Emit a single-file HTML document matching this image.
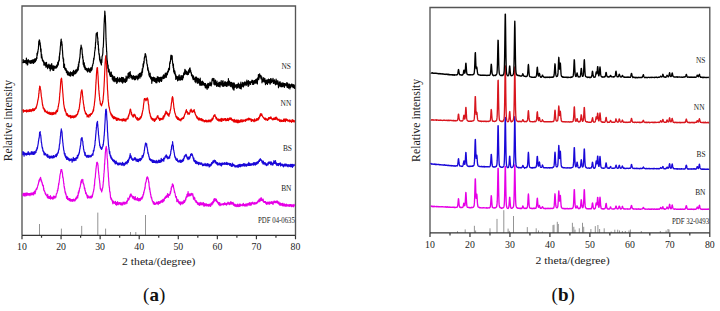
<!DOCTYPE html>
<html><head><meta charset="utf-8"><style>
html,body{margin:0;padding:0;background:#fff;width:720px;height:311px;overflow:hidden;font-family:"Liberation Serif",serif;}
svg{display:block}
text{font-family:"Liberation Serif",serif}
</style></head><body>
<svg width="720" height="311" viewBox="0 0 720 311">
<path d="M22.00 235.30V6.00H295.50V235.30" fill="none" stroke="#555" stroke-width="1.35"/>
<path d="M430.00 232.90V7.50H709.80V232.90" fill="none" stroke="#555" stroke-width="1.35"/>
<path d="M39.5 224.0V235.3M61.4 228.6V235.3M81.7 225.9V235.3M97.8 212.6V235.3M105.6 228.6V235.3M130.5 232.0V235.3M135.8 232.0V235.3M145.5 215.0V235.3" stroke="#666" stroke-width="0.7" fill="none"/>
<path d="M457.5 231.2V232.9M465.2 229.4V232.9M474.4 225.8V232.9M475.6 230.5V232.9M490.0 228.3V232.9M497.0 218.9V232.9M503.8 210.2V232.9M508.1 228.6V232.9M509.3 230.9V232.9M513.5 216.0V232.9M527.3 227.1V232.9M536.2 228.3V232.9M538.5 230.5V232.9M542.4 231.5V232.9M553.0 225.1V232.9M554.0 224.7V232.9M557.3 221.8V232.9M558.3 224.0V232.9M572.4 222.8V232.9M573.8 226.8V232.9M575.0 229.7V232.9M579.3 228.3V232.9M582.5 222.8V232.9M583.7 226.8V232.9M590.9 229.0V232.9M595.3 226.1V232.9M597.9 225.0V232.9M599.6 229.0V232.9M604.2 228.3V232.9M611.2 231.5V232.9M614.8 229.7V232.9M617.7 229.7V232.9M619.5 230.5V232.9M622.4 231.0V232.9M625.3 231.0V232.9M629.0 230.5V232.9M630.4 229.5V232.9M641.3 231.0V232.9M660.3 231.0V232.9M666.1 230.5V232.9M668.0 229.0V232.9M669.0 229.5V232.9" stroke="#666" stroke-width="0.7" fill="none"/>
<path d="M22.8 194.1L22.9 194.5L23.1 195.8L23.2 195.1L23.4 193.4L23.5 194.6L23.7 194.1L23.8 194.7L24.0 193.4L24.1 194.8L24.3 194.7L24.4 195.7L24.6 194.8L24.7 194.9L24.9 193.4L25.0 196.2L25.2 193.1L25.3 195.4L25.5 194.3L25.6 193.9L25.8 194.0L25.9 194.0L26.1 194.8L26.2 194.4L26.4 195.6L26.5 193.1L26.7 194.5L26.8 193.8L27.0 195.0L27.1 192.9L27.3 194.2L27.4 194.6L27.6 193.3L27.7 195.1L27.9 194.5L28.0 195.1L28.2 195.1L28.3 193.6L28.5 193.7L28.6 194.2L28.8 194.9L28.9 194.9L29.1 193.7L29.2 193.8L29.4 193.6L29.5 193.8L29.7 194.0L29.8 194.1L30.0 195.7L30.1 193.7L30.3 193.9L30.4 194.4L30.6 193.3L30.7 193.7L30.9 194.0L31.0 194.5L31.2 192.9L31.3 194.9L31.5 193.6L31.6 193.9L31.8 194.4L31.9 194.3L32.1 194.5L32.2 193.9L32.4 193.7L32.5 193.9L32.7 192.9L32.8 194.5L33.0 193.0L33.1 192.5L33.3 195.0L33.4 193.3L33.6 192.4L33.7 194.6L33.9 192.9L34.0 193.8L34.2 192.3L34.3 192.6L34.5 191.4L34.6 191.1L34.8 191.6L34.9 192.1L35.1 192.6L35.2 193.6L35.4 190.8L35.5 192.0L35.7 190.6L35.8 190.6L36.0 189.4L36.1 189.1L36.3 189.2L36.4 188.6L36.6 189.1L36.7 188.2L36.9 189.3L37.0 188.0L37.2 187.6L37.3 187.8L37.5 186.9L37.6 186.0L37.8 185.4L37.9 184.9L38.1 185.3L38.2 184.5L38.4 183.6L38.5 183.4L38.7 181.9L38.8 182.2L39.0 180.2L39.1 181.8L39.3 180.4L39.4 180.0L39.6 180.0L39.7 179.2L39.9 178.7L40.0 179.6L40.2 178.7L40.3 177.8L40.5 178.8L40.6 177.3L40.8 180.0L40.9 178.8L41.1 179.2L41.2 181.2L41.4 181.6L41.5 180.5L41.7 181.3L41.8 182.2L42.0 183.2L42.1 182.4L42.3 183.2L42.4 184.6L42.6 184.5L42.7 185.5L42.9 186.0L43.0 185.3L43.2 186.1L43.3 185.3L43.5 187.7L43.6 189.4L43.8 188.1L43.9 190.4L44.1 190.7L44.2 190.4L44.4 190.8L44.5 191.4L44.7 191.1L44.8 191.9L45.0 192.4L45.1 193.3L45.3 193.8L45.4 192.9L45.6 194.4L45.7 193.5L45.9 194.2L46.0 194.9L46.2 194.8L46.3 195.0L46.5 195.5L46.6 195.1L46.8 195.2L46.9 195.7L47.1 196.7L47.2 196.1L47.4 197.7L47.5 196.6L47.7 194.3L47.8 196.3L48.0 198.0L48.1 196.9L48.3 196.6L48.4 196.4L48.6 198.1L48.7 198.0L48.9 197.8L49.0 197.7L49.2 198.5L49.3 198.1L49.5 196.7L49.6 198.2L49.8 197.8L49.9 197.7L50.1 198.4L50.2 197.9L50.4 195.7L50.5 199.1L50.7 198.7L50.8 197.9L51.0 197.7L51.1 198.2L51.3 197.1L51.4 198.3L51.6 197.9L51.7 197.8L51.9 197.3L52.0 197.5L52.2 198.8L52.3 199.0L52.5 198.3L52.6 197.9L52.8 197.3L52.9 198.4L53.1 199.1L53.2 196.6L53.4 198.6L53.5 196.1L53.7 197.4L53.8 197.9L54.0 196.5L54.1 196.3L54.3 197.5L54.4 197.9L54.6 196.8L54.7 198.0L54.9 196.3L55.0 198.1L55.2 196.7L55.3 196.6L55.5 196.7L55.6 196.3L55.8 197.2L55.9 197.2L56.1 195.7L56.2 194.8L56.4 193.7L56.5 193.7L56.7 193.8L56.8 193.3L57.0 192.9L57.1 192.4L57.3 192.3L57.4 190.3L57.6 189.9L57.7 190.8L57.9 189.9L58.0 188.1L58.2 188.7L58.3 186.3L58.5 185.8L58.6 183.6L58.8 184.7L58.9 183.0L59.1 182.8L59.2 181.4L59.4 179.9L59.5 178.8L59.7 178.5L59.8 176.4L60.0 175.3L60.1 174.5L60.3 174.1L60.4 173.2L60.6 173.2L60.7 171.0L60.9 171.4L61.0 169.5L61.2 170.2L61.3 169.7L61.5 171.0L61.6 170.3L61.8 169.9L61.9 171.2L62.1 171.7L62.2 172.0L62.4 172.9L62.5 173.4L62.7 177.2L62.8 176.3L63.0 178.0L63.1 177.6L63.3 178.8L63.4 180.6L63.6 181.7L63.7 183.5L63.9 183.2L64.0 185.4L64.2 187.2L64.3 186.3L64.5 188.6L64.6 188.1L64.8 189.9L64.9 190.7L65.1 192.4L65.2 191.3L65.4 192.6L65.5 193.9L65.7 192.8L65.8 194.2L66.0 194.0L66.1 194.6L66.3 196.1L66.4 196.5L66.6 198.3L66.7 197.7L66.9 197.9L67.0 197.1L67.2 197.3L67.3 197.9L67.5 196.3L67.6 199.4L67.8 197.9L67.9 197.8L68.1 198.4L68.2 199.5L68.4 199.9L68.5 198.8L68.7 199.6L68.8 199.3L69.0 198.7L69.1 199.7L69.3 199.7L69.4 198.6L69.6 200.6L69.7 198.7L69.9 200.1L70.0 199.2L70.2 199.4L70.3 199.6L70.5 200.6L70.6 199.2L70.8 200.0L70.9 201.3L71.1 199.7L71.2 200.2L71.4 200.7L71.5 199.8L71.7 200.6L71.8 199.7L72.0 200.8L72.1 200.3L72.3 199.5L72.4 201.3L72.6 200.2L72.7 200.0L72.9 199.5L73.0 199.8L73.2 200.1L73.3 200.3L73.5 200.9L73.6 199.1L73.8 199.8L73.9 200.9L74.1 200.1L74.2 200.2L74.4 201.0L74.5 200.0L74.7 200.1L74.8 199.6L75.0 200.9L75.1 200.3L75.3 198.8L75.4 199.7L75.6 198.3L75.7 199.8L75.9 199.4L76.0 198.6L76.2 198.3L76.3 197.1L76.5 198.8L76.6 197.9L76.8 197.6L76.9 198.1L77.1 196.8L77.2 196.6L77.4 196.2L77.5 195.4L77.7 197.9L77.8 195.5L78.0 195.0L78.1 195.6L78.3 192.1L78.4 193.9L78.6 193.5L78.7 192.2L78.9 192.8L79.0 190.3L79.2 191.3L79.3 191.3L79.5 188.3L79.6 188.2L79.8 188.5L79.9 187.9L80.1 186.8L80.2 186.8L80.4 186.0L80.5 184.1L80.7 184.4L80.8 182.8L81.0 181.6L81.1 180.8L81.3 182.8L81.4 181.5L81.6 182.6L81.7 179.7L81.9 180.3L82.0 180.7L82.2 180.3L82.3 180.8L82.5 180.6L82.6 180.3L82.8 179.3L82.9 180.7L83.1 183.2L83.2 182.9L83.4 184.0L83.5 183.1L83.7 184.0L83.8 184.1L84.0 185.7L84.1 186.2L84.3 187.1L84.4 188.8L84.6 187.5L84.7 189.3L84.9 188.3L85.0 190.8L85.2 190.2L85.3 191.0L85.5 191.7L85.6 193.4L85.8 192.6L85.9 192.7L86.1 192.6L86.2 194.1L86.4 193.6L86.5 194.2L86.7 194.9L86.8 195.7L87.0 195.0L87.1 196.2L87.3 197.3L87.4 195.1L87.6 197.4L87.7 198.1L87.9 196.2L88.0 197.3L88.2 195.9L88.3 197.3L88.5 197.0L88.6 197.6L88.8 196.8L88.9 196.9L89.1 197.3L89.2 197.2L89.4 197.3L89.5 197.7L89.7 197.0L89.8 197.8L90.0 198.2L90.1 196.1L90.3 198.0L90.4 197.2L90.6 196.9L90.7 196.7L90.9 197.0L91.0 196.9L91.2 197.6L91.3 196.3L91.5 197.8L91.6 196.2L91.8 197.1L91.9 197.2L92.1 195.1L92.2 196.5L92.4 197.0L92.5 194.6L92.7 194.9L92.8 193.9L93.0 193.5L93.1 192.6L93.3 191.7L93.4 191.9L93.6 191.2L93.7 189.6L93.9 189.8L94.0 188.5L94.2 187.1L94.3 184.9L94.5 185.6L94.6 183.9L94.8 179.9L94.9 179.3L95.1 178.3L95.2 177.8L95.4 176.5L95.5 173.8L95.7 172.6L95.8 171.4L96.0 168.4L96.1 168.4L96.3 166.4L96.4 165.6L96.6 164.4L96.7 162.7L96.9 162.3L97.0 162.7L97.2 162.6L97.3 162.4L97.5 163.8L97.6 163.4L97.8 163.5L97.9 165.2L98.1 166.5L98.2 167.9L98.4 170.3L98.5 171.2L98.7 173.2L98.8 174.4L99.0 175.3L99.1 177.7L99.3 178.2L99.4 180.1L99.6 180.5L99.7 182.6L99.9 183.5L100.0 185.1L100.2 187.3L100.3 188.6L100.5 188.5L100.6 188.4L100.8 189.7L100.9 189.9L101.1 189.7L101.2 190.4L101.4 190.5L101.5 190.4L101.7 191.9L101.8 190.4L102.0 190.2L102.1 190.7L102.3 189.2L102.4 188.3L102.6 187.8L102.7 187.8L102.9 186.6L103.0 185.4L103.2 183.4L103.3 181.6L103.5 181.3L103.6 177.7L103.8 176.8L103.9 173.9L104.1 172.4L104.2 170.4L104.4 169.1L104.5 163.6L104.7 164.4L104.8 160.3L105.0 158.8L105.1 156.9L105.3 153.5L105.4 152.1L105.6 150.8L105.7 149.0L105.9 147.5L106.0 147.5L106.2 147.3L106.3 146.3L106.5 149.2L106.6 149.4L106.8 148.9L106.9 151.9L107.1 155.8L107.2 157.9L107.4 159.3L107.5 160.3L107.7 163.9L107.8 167.4L108.0 169.4L108.1 171.2L108.3 173.3L108.4 176.7L108.6 178.1L108.7 180.6L108.9 182.6L109.0 185.3L109.2 185.9L109.3 187.5L109.5 187.5L109.6 191.0L109.8 192.0L109.9 192.5L110.1 191.8L110.2 194.0L110.4 195.4L110.5 197.7L110.7 197.2L110.8 198.0L111.0 198.6L111.1 199.5L111.3 198.1L111.4 198.7L111.6 198.9L111.7 199.9L111.9 200.1L112.0 200.7L112.2 200.1L112.3 201.2L112.5 200.7L112.6 203.1L112.8 201.3L112.9 203.8L113.1 203.2L113.2 201.2L113.4 203.0L113.5 202.8L113.7 201.3L113.8 203.0L114.0 202.6L114.1 203.0L114.3 202.2L114.4 202.9L114.6 203.3L114.7 202.9L114.9 202.6L115.0 203.0L115.2 202.5L115.3 203.5L115.5 201.4L115.6 204.5L115.8 203.4L115.9 203.8L116.1 204.1L116.2 202.5L116.4 205.2L116.5 202.7L116.7 203.9L116.8 203.8L117.0 204.5L117.1 203.6L117.3 202.5L117.4 203.8L117.6 201.7L117.7 203.5L117.9 203.3L118.0 204.8L118.2 203.4L118.3 203.3L118.5 203.1L118.6 203.0L118.8 203.3L118.9 204.2L119.1 202.7L119.2 203.6L119.4 202.7L119.5 203.6L119.7 203.9L119.8 202.8L120.0 203.3L120.1 203.9L120.3 204.4L120.4 204.5L120.6 203.7L120.7 203.0L120.9 202.6L121.0 204.4L121.2 204.8L121.3 204.1L121.5 205.0L121.6 203.4L121.8 203.5L121.9 204.9L122.1 203.0L122.2 204.2L122.4 204.0L122.5 203.9L122.7 205.0L122.8 203.1L123.0 203.4L123.1 202.1L123.3 202.9L123.4 203.3L123.6 203.4L123.7 203.5L123.9 203.8L124.0 203.1L124.2 202.0L124.3 203.5L124.5 203.7L124.6 202.4L124.8 202.6L124.9 204.4L125.1 203.8L125.2 203.8L125.4 203.4L125.5 202.9L125.7 202.3L125.8 203.0L126.0 202.3L126.1 202.0L126.3 202.2L126.4 202.1L126.6 202.7L126.7 201.1L126.9 203.6L127.0 200.8L127.2 201.0L127.3 201.9L127.5 200.4L127.6 200.4L127.8 200.6L127.9 198.1L128.1 199.7L128.2 199.1L128.4 199.4L128.5 199.6L128.7 199.4L128.8 199.8L129.0 199.4L129.1 198.7L129.3 197.6L129.4 198.0L129.6 196.2L129.7 196.5L129.9 197.4L130.0 196.6L130.2 194.7L130.3 195.1L130.5 196.0L130.6 195.7L130.8 196.0L130.9 193.8L131.1 194.2L131.2 195.1L131.4 194.7L131.5 195.6L131.7 195.8L131.8 196.2L132.0 196.1L132.1 196.8L132.3 197.2L132.4 196.9L132.6 196.0L132.7 198.1L132.9 197.4L133.0 197.8L133.2 197.7L133.3 196.5L133.5 198.2L133.6 197.4L133.8 197.0L133.9 199.0L134.1 197.9L134.2 198.5L134.4 199.1L134.5 199.7L134.7 197.2L134.8 198.2L135.0 199.3L135.1 198.4L135.3 196.5L135.4 199.1L135.6 199.3L135.7 199.8L135.9 199.4L136.0 198.9L136.2 199.5L136.3 199.3L136.5 199.0L136.6 199.6L136.8 199.7L136.9 198.7L137.1 200.3L137.2 200.2L137.4 200.1L137.5 197.5L137.7 199.7L137.8 199.5L138.0 198.9L138.1 200.1L138.3 198.5L138.4 200.6L138.6 200.0L138.7 199.3L138.9 200.8L139.0 200.0L139.2 199.9L139.3 198.7L139.5 200.1L139.6 200.7L139.8 200.4L139.9 198.6L140.1 200.6L140.2 200.7L140.4 200.1L140.5 199.1L140.7 198.1L140.8 198.5L141.0 198.6L141.1 199.2L141.3 199.2L141.4 198.1L141.6 197.3L141.7 198.0L141.9 197.1L142.0 198.9L142.2 196.7L142.3 197.7L142.5 197.7L142.6 196.0L142.8 197.2L142.9 195.9L143.1 195.0L143.2 194.4L143.4 194.7L143.5 194.9L143.7 192.1L143.8 193.4L144.0 192.2L144.1 191.1L144.3 190.9L144.4 190.2L144.6 189.4L144.7 189.3L144.9 187.2L145.0 188.5L145.2 186.8L145.3 184.8L145.5 182.9L145.6 183.5L145.8 182.3L145.9 182.3L146.1 181.5L146.2 181.6L146.4 179.3L146.5 179.4L146.7 177.9L146.8 177.5L147.0 178.6L147.1 177.1L147.3 177.0L147.4 176.8L147.6 177.5L147.7 178.0L147.9 177.9L148.0 177.7L148.2 179.5L148.3 179.3L148.5 180.5L148.6 181.8L148.8 182.7L148.9 181.8L149.1 185.8L149.2 186.1L149.4 188.0L149.5 189.4L149.7 187.8L149.8 189.0L150.0 190.6L150.1 192.0L150.3 191.8L150.4 192.8L150.6 194.7L150.7 194.0L150.9 195.5L151.0 196.9L151.2 196.6L151.3 198.0L151.5 197.9L151.6 197.4L151.8 198.7L151.9 199.5L152.1 199.8L152.2 200.5L152.4 201.2L152.5 201.5L152.7 201.8L152.8 201.7L153.0 202.2L153.1 202.4L153.3 202.4L153.4 204.0L153.6 201.6L153.7 203.4L153.9 202.0L154.0 202.9L154.2 204.0L154.3 203.2L154.5 204.5L154.6 202.8L154.8 203.3L154.9 203.1L155.1 203.6L155.2 203.3L155.4 203.3L155.5 203.6L155.7 204.4L155.8 203.6L156.0 203.5L156.1 203.3L156.3 202.9L156.4 202.3L156.6 202.6L156.7 203.4L156.9 201.9L157.0 203.7L157.2 202.9L157.3 202.5L157.5 202.7L157.6 203.6L157.8 203.3L157.9 203.2L158.1 204.2L158.2 204.6L158.4 201.8L158.5 203.4L158.7 202.1L158.8 201.6L159.0 202.2L159.1 203.3L159.3 202.2L159.4 202.1L159.6 203.4L159.7 202.7L159.9 202.2L160.0 203.5L160.2 202.4L160.3 201.4L160.5 201.1L160.6 201.5L160.8 201.9L160.9 202.4L161.1 202.2L161.2 201.5L161.4 200.5L161.5 202.1L161.7 201.4L161.8 200.4L162.0 200.3L162.1 201.3L162.3 201.4L162.4 201.6L162.6 200.0L162.7 202.3L162.9 199.4L163.0 200.6L163.2 201.5L163.3 201.2L163.5 199.5L163.6 200.6L163.8 200.9L163.9 200.3L164.1 198.9L164.2 200.7L164.4 198.0L164.5 199.0L164.7 198.0L164.8 198.2L165.0 198.0L165.1 198.4L165.3 196.8L165.4 197.7L165.6 198.3L165.7 197.1L165.9 197.2L166.0 196.9L166.2 195.8L166.3 195.9L166.5 196.0L166.6 196.2L166.8 197.3L166.9 196.9L167.1 195.2L167.2 195.2L167.4 194.7L167.5 193.7L167.7 196.5L167.8 195.9L168.0 194.0L168.1 195.5L168.3 197.3L168.4 195.9L168.6 195.8L168.7 195.5L168.9 194.7L169.0 194.3L169.2 194.4L169.3 194.9L169.5 194.4L169.6 194.8L169.8 195.3L169.9 194.1L170.1 193.9L170.2 192.6L170.4 191.4L170.5 193.5L170.7 191.9L170.8 191.7L171.0 189.9L171.1 188.3L171.3 190.0L171.4 186.8L171.6 187.7L171.7 186.9L171.9 187.0L172.0 186.9L172.2 186.6L172.3 184.0L172.5 186.2L172.6 183.8L172.8 185.8L172.9 185.0L173.1 184.7L173.2 185.5L173.4 185.3L173.5 186.8L173.7 188.1L173.8 188.6L174.0 188.7L174.1 190.2L174.3 190.4L174.4 192.4L174.6 191.9L174.7 191.7L174.9 192.7L175.0 193.0L175.2 194.0L175.3 194.8L175.5 196.0L175.6 196.7L175.8 196.7L175.9 197.5L176.1 197.1L176.2 197.7L176.4 196.6L176.5 198.3L176.7 198.9L176.8 201.6L177.0 198.9L177.1 200.3L177.3 200.2L177.4 199.5L177.6 201.2L177.7 201.2L177.9 200.2L178.0 199.7L178.2 201.6L178.3 200.7L178.5 202.5L178.6 201.9L178.8 202.6L178.9 202.0L179.1 203.5L179.2 203.0L179.4 203.7L179.5 202.7L179.7 201.9L179.8 201.6L180.0 202.4L180.1 203.0L180.3 202.4L180.4 204.8L180.6 202.9L180.7 203.3L180.9 203.0L181.0 202.0L181.2 203.8L181.3 203.5L181.5 203.7L181.6 202.3L181.8 203.0L181.9 202.9L182.1 203.8L182.2 201.8L182.4 203.3L182.5 203.8L182.7 202.4L182.8 202.0L183.0 203.6L183.1 202.7L183.3 203.3L183.4 202.9L183.6 203.0L183.7 201.9L183.9 200.3L184.0 202.2L184.2 201.1L184.3 201.9L184.5 200.8L184.6 202.3L184.8 200.6L184.9 201.2L185.1 201.1L185.2 200.0L185.4 200.0L185.5 199.4L185.7 198.4L185.8 199.9L186.0 197.8L186.1 196.9L186.3 197.4L186.4 197.5L186.6 197.1L186.7 196.5L186.9 196.1L187.0 194.4L187.2 196.3L187.3 196.9L187.5 194.7L187.6 193.7L187.8 195.5L187.9 194.7L188.1 191.6L188.2 194.1L188.4 193.5L188.5 193.7L188.7 196.1L188.8 195.4L189.0 194.5L189.1 194.7L189.3 195.9L189.4 193.8L189.6 195.2L189.7 194.2L189.9 195.3L190.0 194.8L190.2 194.0L190.3 195.3L190.5 194.8L190.6 195.7L190.8 193.9L190.9 194.3L191.1 193.6L191.2 195.0L191.4 193.4L191.5 193.9L191.7 195.0L191.8 194.4L192.0 194.3L192.1 194.4L192.3 194.6L192.4 195.0L192.6 194.5L192.7 193.5L192.9 196.3L193.0 194.8L193.2 197.3L193.3 196.5L193.5 199.1L193.6 197.9L193.8 197.7L193.9 198.4L194.1 197.0L194.2 198.6L194.4 198.5L194.5 199.1L194.7 197.9L194.8 198.0L195.0 200.6L195.1 200.4L195.3 200.3L195.4 200.8L195.6 200.6L195.7 201.0L195.9 202.1L196.0 201.6L196.2 202.5L196.3 201.6L196.5 200.9L196.6 201.9L196.8 202.5L196.9 201.8L197.1 202.5L197.2 202.6L197.4 203.8L197.5 203.8L197.7 204.1L197.8 202.7L198.0 203.7L198.1 204.5L198.3 203.7L198.4 203.5L198.6 203.1L198.7 204.4L198.9 203.9L199.0 204.6L199.2 203.7L199.3 205.4L199.5 203.8L199.6 202.9L199.8 204.0L199.9 204.3L200.1 204.9L200.2 203.5L200.4 203.5L200.5 203.7L200.7 203.6L200.8 202.3L201.0 204.5L201.1 204.9L201.3 203.3L201.4 203.1L201.6 203.8L201.7 203.4L201.9 204.6L202.0 203.6L202.2 204.6L202.3 203.2L202.5 203.1L202.6 203.0L202.8 203.2L202.9 204.6L203.1 205.0L203.2 204.5L203.4 204.6L203.5 202.7L203.7 205.3L203.8 203.5L204.0 205.6L204.1 206.4L204.3 204.7L204.4 205.1L204.6 205.1L204.7 203.7L204.9 203.8L205.0 204.2L205.2 204.9L205.3 205.5L205.5 204.9L205.6 205.7L205.8 204.5L205.9 203.8L206.1 205.0L206.2 204.9L206.4 203.9L206.5 205.8L206.7 204.3L206.8 204.5L207.0 205.3L207.1 204.3L207.3 205.6L207.4 205.4L207.6 205.5L207.7 205.2L207.9 204.8L208.0 204.6L208.2 205.4L208.3 206.2L208.5 205.7L208.6 205.4L208.8 205.9L208.9 206.1L209.1 204.1L209.2 205.0L209.4 205.9L209.5 204.4L209.7 204.5L209.8 205.3L210.0 204.6L210.1 205.7L210.3 204.5L210.4 205.1L210.6 206.5L210.7 205.4L210.9 203.4L211.0 203.5L211.2 203.4L211.3 204.1L211.5 202.9L211.6 204.3L211.8 205.0L211.9 204.8L212.1 202.8L212.2 203.0L212.4 202.8L212.5 202.2L212.7 203.9L212.8 201.9L213.0 201.3L213.1 202.2L213.3 201.9L213.4 202.6L213.6 202.3L213.7 200.8L213.9 199.0L214.0 200.9L214.2 200.8L214.3 201.3L214.5 198.6L214.6 198.7L214.8 200.7L214.9 200.7L215.1 200.4L215.2 199.4L215.4 200.5L215.5 199.1L215.7 198.8L215.8 199.8L216.0 200.1L216.1 200.9L216.3 201.4L216.4 199.4L216.6 201.2L216.7 201.6L216.9 200.5L217.0 201.5L217.2 202.0L217.3 202.5L217.5 201.7L217.6 202.1L217.8 201.9L217.9 203.2L218.1 202.8L218.2 202.8L218.4 203.9L218.5 203.4L218.7 202.7L218.8 204.6L219.0 204.6L219.1 204.2L219.3 203.2L219.4 204.9L219.6 203.6L219.7 202.7L219.9 204.1L220.0 205.6L220.2 203.9L220.3 204.7L220.5 205.3L220.6 204.5L220.8 204.1L220.9 204.4L221.1 204.8L221.2 204.0L221.4 204.6L221.5 204.8L221.7 204.1L221.8 204.9L222.0 204.8L222.1 204.1L222.3 204.2L222.4 204.5L222.6 204.3L222.7 204.2L222.9 203.6L223.0 204.4L223.2 204.9L223.3 204.8L223.5 203.7L223.6 204.7L223.8 204.8L223.9 203.6L224.1 204.7L224.2 204.1L224.4 204.0L224.5 204.4L224.7 204.1L224.8 202.5L225.0 204.4L225.1 203.3L225.3 204.1L225.4 204.7L225.6 204.0L225.7 203.8L225.9 204.2L226.0 204.4L226.2 203.4L226.3 203.6L226.5 204.4L226.6 205.2L226.8 203.9L226.9 204.6L227.1 203.3L227.2 203.9L227.4 203.9L227.5 202.9L227.7 203.9L227.8 203.7L228.0 202.0L228.1 203.8L228.3 204.1L228.4 204.0L228.6 204.0L228.7 202.9L228.9 203.2L229.0 203.5L229.2 203.0L229.3 203.2L229.5 204.4L229.6 202.8L229.8 203.1L229.9 204.6L230.1 203.1L230.2 202.4L230.4 203.2L230.5 203.1L230.7 203.0L230.8 201.6L231.0 203.0L231.1 203.0L231.3 204.2L231.4 203.2L231.6 202.3L231.7 202.9L231.9 203.2L232.0 202.7L232.2 202.9L232.3 204.0L232.5 203.5L232.6 203.6L232.8 202.7L232.9 203.9L233.1 202.3L233.2 204.7L233.4 203.6L233.5 204.6L233.7 205.3L233.8 203.6L234.0 205.3L234.1 204.8L234.3 205.6L234.4 204.6L234.6 204.4L234.7 206.0L234.9 205.4L235.0 205.2L235.2 204.4L235.3 206.3L235.5 205.1L235.6 205.2L235.8 204.8L235.9 205.4L236.1 205.8L236.2 205.3L236.4 205.3L236.5 205.0L236.7 206.5L236.8 206.6L237.0 205.2L237.1 204.7L237.3 205.6L237.4 204.2L237.6 205.5L237.7 205.5L237.9 205.5L238.0 206.5L238.2 206.7L238.3 205.6L238.5 205.0L238.6 206.1L238.8 206.1L238.9 204.4L239.1 204.7L239.2 205.1L239.4 204.0L239.5 204.4L239.7 206.4L239.8 204.3L240.0 205.8L240.1 204.6L240.3 205.9L240.4 205.4L240.6 205.8L240.7 204.1L240.9 205.3L241.0 204.7L241.2 205.7L241.3 205.6L241.5 205.2L241.6 205.0L241.8 205.0L241.9 205.2L242.1 204.6L242.2 204.7L242.4 204.5L242.5 204.2L242.7 205.7L242.8 204.0L243.0 205.9L243.1 205.4L243.3 203.6L243.4 203.5L243.6 204.9L243.7 204.1L243.9 204.9L244.0 205.5L244.2 205.1L244.3 204.6L244.5 204.7L244.6 205.9L244.8 204.5L244.9 206.0L245.1 206.2L245.2 204.4L245.4 204.9L245.5 205.9L245.7 204.1L245.8 205.0L246.0 205.4L246.1 203.8L246.3 204.9L246.4 204.7L246.6 204.2L246.7 205.7L246.9 204.4L247.0 206.2L247.2 205.0L247.3 203.9L247.5 204.6L247.6 203.8L247.8 205.0L247.9 204.9L248.1 203.5L248.2 204.0L248.4 204.6L248.5 204.3L248.7 203.5L248.8 205.0L249.0 205.2L249.1 203.1L249.3 205.2L249.4 202.6L249.6 204.0L249.7 203.6L249.9 203.6L250.0 204.2L250.2 203.1L250.3 203.9L250.5 205.2L250.6 204.3L250.8 205.0L250.9 204.5L251.1 202.7L251.2 205.1L251.4 204.4L251.5 204.3L251.7 203.5L251.8 203.3L252.0 202.9L252.1 203.6L252.3 203.7L252.4 203.5L252.6 203.5L252.7 202.2L252.9 203.0L253.0 203.0L253.2 203.8L253.3 203.2L253.5 203.2L253.6 203.6L253.8 203.1L253.9 203.3L254.1 204.3L254.2 203.3L254.4 202.7L254.5 203.8L254.7 203.9L254.8 203.8L255.0 202.3L255.1 203.9L255.3 203.2L255.4 203.2L255.6 203.2L255.7 203.4L255.9 203.3L256.0 204.0L256.2 203.0L256.3 202.7L256.5 203.2L256.6 202.6L256.8 203.3L256.9 202.6L257.1 202.9L257.2 201.9L257.4 202.9L257.5 202.5L257.7 201.3L257.8 201.5L258.0 201.7L258.1 200.6L258.3 200.6L258.4 201.6L258.6 201.5L258.7 201.9L258.9 199.8L259.0 200.4L259.2 199.0L259.3 201.6L259.5 199.2L259.6 199.8L259.8 201.2L259.9 200.7L260.1 199.0L260.2 201.1L260.4 199.7L260.5 198.5L260.7 199.4L260.8 199.6L261.0 199.6L261.1 197.6L261.3 200.5L261.4 198.0L261.6 199.1L261.7 200.4L261.9 199.7L262.0 199.5L262.2 199.2L262.3 200.2L262.5 200.9L262.6 199.7L262.8 200.5L262.9 200.1L263.1 200.2L263.2 199.2L263.4 201.0L263.5 201.7L263.7 201.1L263.8 202.1L264.0 201.6L264.1 202.5L264.3 201.8L264.4 201.6L264.6 201.6L264.7 202.2L264.9 202.4L265.0 201.7L265.2 202.3L265.3 201.5L265.5 201.6L265.6 203.1L265.8 202.9L265.9 203.3L266.1 202.9L266.2 203.0L266.4 204.2L266.5 202.3L266.7 203.1L266.8 204.1L267.0 204.4L267.1 203.4L267.3 202.9L267.4 202.2L267.6 202.9L267.7 203.1L267.9 203.0L268.0 203.4L268.2 203.4L268.3 202.6L268.5 202.3L268.6 202.8L268.8 203.3L268.9 204.1L269.1 201.8L269.2 203.7L269.4 202.7L269.5 203.7L269.7 204.2L269.8 203.2L270.0 202.0L270.1 202.5L270.3 203.1L270.4 202.5L270.6 202.7L270.7 202.2L270.9 202.6L271.0 202.3L271.2 203.4L271.3 203.0L271.5 203.3L271.6 201.6L271.8 202.5L271.9 202.3L272.1 202.5L272.2 202.2L272.4 202.3L272.5 203.9L272.7 202.6L272.8 201.9L273.0 202.5L273.1 204.3L273.3 203.2L273.4 202.0L273.6 202.4L273.7 202.5L273.9 202.6L274.0 201.1L274.2 201.7L274.3 202.2L274.5 201.1L274.6 202.1L274.8 202.2L274.9 202.6L275.1 202.8L275.2 201.8L275.4 202.0L275.5 202.3L275.7 202.4L275.8 201.7L276.0 201.1L276.1 202.0L276.3 202.1L276.4 201.6L276.6 201.9L276.7 202.7L276.9 201.2L277.0 201.1L277.2 200.9L277.3 202.0L277.5 202.5L277.6 201.6L277.8 203.3L277.9 201.7L278.1 202.5L278.2 202.3L278.4 203.5L278.5 202.2L278.7 204.0L278.8 202.8L279.0 202.1L279.1 202.8L279.3 203.2L279.4 204.6L279.6 203.2L279.7 203.6L279.9 205.2L280.0 203.9L280.2 203.5L280.3 203.5L280.5 203.0L280.6 204.4L280.8 205.1L280.9 204.0L281.1 203.6L281.2 204.6L281.4 204.5L281.5 204.5L281.7 204.9L281.8 204.7L282.0 204.4L282.1 205.5L282.3 203.4L282.4 204.0L282.6 204.6L282.7 203.9L282.9 205.9L283.0 203.3L283.2 205.4L283.3 205.3L283.5 205.2L283.6 205.3L283.8 204.6L283.9 204.5L284.1 206.0L284.2 204.9L284.4 204.0L284.5 204.2L284.7 204.0L284.8 205.3L285.0 205.9L285.1 204.9L285.3 205.2L285.4 204.8L285.6 205.8L285.7 205.8L285.9 205.9L286.0 206.5L286.2 204.4L286.3 205.8L286.5 204.2L286.6 205.8L286.8 205.9L286.9 205.8L287.1 205.9L287.2 205.3L287.4 204.9L287.5 205.9L287.7 204.9L287.8 205.9L288.0 204.8L288.1 205.7L288.3 205.6L288.4 204.9L288.6 205.2L288.7 206.1L288.9 205.5L289.0 205.9L289.2 205.1L289.3 205.6L289.5 204.5L289.6 205.0L289.8 206.5L289.9 206.0L290.1 205.6L290.2 205.7L290.4 204.6L290.5 205.9L290.7 204.7L290.8 205.1L291.0 206.1L291.1 205.1L291.3 205.3L291.4 205.6L291.6 205.7L291.7 206.6L291.9 204.5L292.0 205.4L292.2 206.1L292.3 205.4L292.5 205.4L292.6 205.1L292.8 205.5L292.9 206.2L293.1 206.6L293.2 206.0L293.4 206.8L293.5 205.9L293.7 204.6L293.8 206.3L294.0 204.4L294.1 205.8L294.3 205.8L294.4 205.0L294.6 205.7" fill="none" stroke="#e600e6" stroke-width="1.20" stroke-linejoin="round"/>
<path d="M22.8 155.2L22.9 151.7L23.1 154.0L23.2 153.2L23.4 153.3L23.5 153.5L23.7 152.2L23.8 153.5L24.0 153.0L24.1 156.2L24.3 153.9L24.4 153.4L24.6 153.5L24.7 153.2L24.9 152.9L25.0 153.4L25.2 154.1L25.3 153.6L25.5 154.5L25.6 153.6L25.8 153.8L25.9 154.9L26.1 154.2L26.2 153.4L26.4 153.6L26.5 154.2L26.7 155.2L26.8 153.6L27.0 153.6L27.1 154.5L27.3 153.1L27.4 153.5L27.6 154.4L27.7 154.2L27.9 153.8L28.0 154.3L28.2 151.6L28.3 154.5L28.5 153.0L28.6 152.5L28.8 154.0L28.9 154.3L29.1 153.4L29.2 152.9L29.4 153.7L29.5 153.7L29.7 154.8L29.8 154.3L30.0 153.8L30.1 154.5L30.3 153.5L30.4 153.0L30.6 154.1L30.7 154.1L30.9 153.5L31.0 153.0L31.2 153.8L31.3 151.7L31.5 154.1L31.6 153.9L31.8 152.3L31.9 153.6L32.1 152.8L32.2 154.1L32.4 152.0L32.5 152.8L32.7 154.0L32.8 154.3L33.0 151.8L33.1 153.0L33.3 153.6L33.4 152.8L33.6 154.5L33.7 152.3L33.9 153.4L34.0 152.3L34.2 154.1L34.3 152.9L34.5 152.6L34.6 151.5L34.8 154.0L34.9 153.2L35.1 153.0L35.2 153.2L35.4 152.5L35.5 151.6L35.7 151.3L35.8 151.1L36.0 152.5L36.1 150.1L36.3 150.5L36.4 150.4L36.6 150.4L36.7 150.3L36.9 148.6L37.0 147.7L37.2 148.5L37.3 148.9L37.5 147.9L37.6 146.8L37.8 145.7L37.9 145.3L38.1 144.0L38.2 143.9L38.4 141.6L38.5 141.3L38.7 139.9L38.8 139.3L39.0 137.9L39.1 138.5L39.3 136.7L39.4 135.8L39.6 132.4L39.7 133.1L39.9 132.6L40.0 133.4L40.2 131.6L40.3 134.7L40.5 135.3L40.6 134.5L40.8 135.8L40.9 137.1L41.1 138.9L41.2 140.5L41.4 142.8L41.5 142.2L41.7 144.0L41.8 144.6L42.0 146.8L42.1 146.9L42.3 148.2L42.4 147.1L42.6 148.5L42.7 148.6L42.9 150.9L43.0 150.8L43.2 150.6L43.3 150.9L43.5 152.0L43.6 151.5L43.8 151.6L43.9 153.0L44.1 154.8L44.2 153.0L44.4 153.0L44.5 152.7L44.7 152.8L44.8 154.4L45.0 154.8L45.1 154.3L45.3 154.7L45.4 154.7L45.6 154.8L45.7 153.7L45.9 154.6L46.0 155.2L46.2 154.6L46.3 154.9L46.5 154.8L46.6 155.2L46.8 156.2L46.9 155.3L47.1 155.6L47.2 156.4L47.4 156.3L47.5 157.2L47.7 154.4L47.8 156.7L48.0 155.7L48.1 156.2L48.3 156.8L48.4 157.0L48.6 157.1L48.7 156.4L48.9 157.6L49.0 156.2L49.2 156.4L49.3 157.1L49.5 156.1L49.6 158.2L49.8 157.4L49.9 158.3L50.1 156.6L50.2 156.4L50.4 156.8L50.5 157.3L50.7 156.3L50.8 157.1L51.0 156.8L51.1 158.0L51.3 156.4L51.4 157.7L51.6 156.4L51.7 156.2L51.9 156.4L52.0 156.0L52.2 157.0L52.3 157.7L52.5 157.1L52.6 157.4L52.8 158.2L52.9 157.1L53.1 157.1L53.2 156.7L53.4 155.7L53.5 157.5L53.7 155.6L53.8 157.4L54.0 156.8L54.1 157.7L54.3 156.7L54.4 156.1L54.6 157.0L54.7 156.3L54.9 156.5L55.0 156.6L55.2 156.4L55.3 156.3L55.5 155.8L55.6 156.2L55.8 154.6L55.9 156.0L56.1 155.1L56.2 156.7L56.4 156.7L56.5 154.2L56.7 155.6L56.8 155.2L57.0 154.3L57.1 155.3L57.3 154.3L57.4 153.0L57.6 153.8L57.7 153.6L57.9 153.4L58.0 152.0L58.2 152.9L58.3 152.4L58.5 150.4L58.6 150.1L58.8 149.8L58.9 148.7L59.1 149.5L59.2 147.3L59.4 145.3L59.5 144.3L59.7 143.6L59.8 144.0L60.0 140.6L60.1 139.3L60.3 138.0L60.4 136.0L60.6 136.2L60.7 132.7L60.9 132.4L61.0 130.9L61.2 130.6L61.3 128.9L61.5 131.2L61.6 130.3L61.8 131.3L61.9 131.7L62.1 133.2L62.2 135.7L62.4 137.7L62.5 139.1L62.7 141.1L62.8 142.3L63.0 143.3L63.1 145.3L63.3 146.4L63.4 147.1L63.6 148.9L63.7 150.3L63.9 150.4L64.0 150.8L64.2 152.4L64.3 154.0L64.5 153.0L64.6 153.7L64.8 154.1L64.9 155.6L65.1 153.7L65.2 155.8L65.4 156.7L65.5 155.6L65.7 157.6L65.8 157.1L66.0 156.6L66.1 157.4L66.3 156.3L66.4 157.2L66.6 159.2L66.7 157.3L66.9 159.5L67.0 158.2L67.2 159.1L67.3 158.6L67.5 157.0L67.6 158.3L67.8 159.0L67.9 158.1L68.1 158.1L68.2 159.4L68.4 158.8L68.5 158.1L68.7 158.9L68.8 160.1L69.0 159.2L69.1 160.3L69.3 160.8L69.4 159.8L69.6 159.0L69.7 158.9L69.9 159.9L70.0 160.6L70.2 160.2L70.3 160.4L70.5 159.7L70.6 160.2L70.8 159.7L70.9 159.8L71.1 159.0L71.2 158.8L71.4 159.6L71.5 159.1L71.7 159.2L71.8 160.4L72.0 159.8L72.1 162.1L72.3 160.6L72.4 159.4L72.6 160.4L72.7 160.1L72.9 159.3L73.0 160.6L73.2 159.1L73.3 157.4L73.5 160.2L73.6 159.1L73.8 160.7L73.9 159.0L74.1 158.6L74.2 160.6L74.4 158.6L74.5 159.5L74.7 160.3L74.8 159.3L75.0 159.1L75.1 159.1L75.3 159.6L75.4 158.3L75.6 159.3L75.7 159.2L75.9 160.4L76.0 158.3L76.2 157.7L76.3 158.9L76.5 157.9L76.6 158.3L76.8 158.0L76.9 158.6L77.1 157.1L77.2 157.3L77.4 155.3L77.5 156.3L77.7 157.9L77.8 156.0L78.0 155.7L78.1 155.0L78.3 156.0L78.4 155.3L78.6 153.9L78.7 154.8L78.9 154.0L79.0 153.8L79.2 152.2L79.3 153.3L79.5 151.6L79.6 150.4L79.8 149.3L79.9 148.6L80.1 148.4L80.2 146.5L80.4 146.5L80.5 145.0L80.7 144.4L80.8 142.9L81.0 141.1L81.1 138.7L81.3 139.5L81.4 139.1L81.6 138.2L81.7 138.2L81.9 137.5L82.0 137.8L82.2 137.9L82.3 140.4L82.5 140.4L82.6 140.9L82.8 141.3L82.9 143.3L83.1 145.6L83.2 145.9L83.4 146.0L83.5 148.6L83.7 149.5L83.8 150.0L84.0 150.7L84.1 151.7L84.3 151.8L84.4 152.6L84.6 152.0L84.7 154.2L84.9 153.6L85.0 155.4L85.2 152.7L85.3 155.0L85.5 155.5L85.6 154.8L85.8 155.6L85.9 156.0L86.1 156.1L86.2 155.4L86.4 155.8L86.5 156.8L86.7 157.1L86.8 156.3L87.0 156.4L87.1 156.5L87.3 157.2L87.4 155.7L87.6 155.5L87.7 156.7L87.9 155.8L88.0 156.2L88.2 156.7L88.3 157.0L88.5 155.9L88.6 157.3L88.8 155.3L88.9 157.0L89.1 155.4L89.2 155.6L89.4 157.0L89.5 156.2L89.7 155.9L89.8 156.1L90.0 156.7L90.1 156.3L90.3 156.2L90.4 157.0L90.6 155.5L90.7 155.6L90.9 155.5L91.0 156.7L91.2 156.4L91.3 156.5L91.5 155.4L91.6 155.1L91.8 155.7L91.9 154.6L92.1 155.4L92.2 155.1L92.4 153.8L92.5 154.0L92.7 153.7L92.8 154.8L93.0 155.1L93.1 152.8L93.3 152.4L93.4 150.3L93.6 151.7L93.7 151.0L93.9 149.6L94.0 150.4L94.2 147.9L94.3 148.1L94.5 147.5L94.6 145.5L94.8 146.0L94.9 145.0L95.1 141.8L95.2 140.4L95.4 140.4L95.5 138.3L95.7 135.6L95.8 134.4L96.0 132.6L96.1 130.6L96.3 129.4L96.4 127.1L96.6 126.4L96.7 124.6L96.9 123.0L97.0 122.5L97.2 122.4L97.3 122.1L97.5 121.3L97.6 123.9L97.8 124.7L97.9 127.5L98.1 128.1L98.2 130.3L98.4 132.0L98.5 134.9L98.7 135.5L98.8 136.8L99.0 138.7L99.1 139.6L99.3 141.3L99.4 142.3L99.6 143.5L99.7 145.7L99.9 144.7L100.0 145.8L100.2 146.2L100.3 147.4L100.5 146.4L100.6 147.1L100.8 147.9L100.9 148.6L101.1 148.3L101.2 148.1L101.4 147.8L101.5 148.9L101.7 149.5L101.8 148.6L102.0 148.4L102.1 148.4L102.3 147.1L102.4 147.2L102.6 146.8L102.7 146.8L102.9 146.0L103.0 144.4L103.2 145.4L103.3 144.9L103.5 142.4L103.6 141.7L103.8 140.2L103.9 139.1L104.1 135.7L104.2 136.1L104.4 132.5L104.5 131.5L104.7 128.2L104.8 125.3L105.0 122.7L105.1 120.7L105.3 116.7L105.4 114.5L105.6 112.2L105.7 109.5L105.9 110.5L106.0 109.4L106.2 109.2L106.3 111.1L106.5 111.1L106.6 113.9L106.8 117.8L106.9 120.1L107.1 120.6L107.2 122.8L107.4 127.4L107.5 131.7L107.7 133.2L107.8 135.8L108.0 138.6L108.1 139.5L108.3 142.2L108.4 144.3L108.6 145.6L108.7 146.9L108.9 147.4L109.0 149.4L109.2 149.7L109.3 151.9L109.5 153.7L109.6 152.0L109.8 151.6L109.9 153.5L110.1 154.7L110.2 155.7L110.4 156.2L110.5 155.2L110.7 155.6L110.8 157.6L111.0 156.1L111.1 158.1L111.3 157.4L111.4 158.5L111.6 158.7L111.7 159.0L111.9 159.3L112.0 158.1L112.2 159.3L112.3 159.3L112.5 159.7L112.6 160.6L112.8 159.7L112.9 159.5L113.1 159.7L113.2 160.2L113.4 161.1L113.5 160.1L113.7 161.7L113.8 161.2L114.0 161.0L114.1 160.3L114.3 161.6L114.4 162.0L114.6 160.3L114.7 162.6L114.9 163.1L115.0 162.2L115.2 162.5L115.3 164.0L115.5 163.2L115.6 161.7L115.8 162.5L115.9 162.5L116.1 162.6L116.2 161.0L116.4 163.5L116.5 162.5L116.7 163.2L116.8 163.1L117.0 163.9L117.1 163.1L117.3 162.8L117.4 163.9L117.6 164.6L117.7 163.4L117.9 164.8L118.0 164.0L118.2 163.4L118.3 165.0L118.5 163.2L118.6 164.6L118.8 163.5L118.9 164.2L119.1 163.0L119.2 163.3L119.4 164.7L119.5 164.0L119.7 163.9L119.8 163.6L120.0 164.3L120.1 162.9L120.3 163.1L120.4 163.8L120.6 163.3L120.7 163.4L120.9 163.9L121.0 163.8L121.2 163.8L121.3 165.2L121.5 164.7L121.6 164.8L121.8 163.9L121.9 163.5L122.1 162.8L122.2 163.6L122.4 162.3L122.5 163.5L122.7 164.5L122.8 165.1L123.0 164.6L123.1 163.2L123.3 164.2L123.4 163.3L123.6 164.5L123.7 163.7L123.9 164.5L124.0 165.7L124.2 164.4L124.3 165.4L124.5 163.8L124.6 163.4L124.8 164.5L124.9 164.8L125.1 163.0L125.2 163.4L125.4 162.3L125.5 163.1L125.7 163.9L125.8 163.1L126.0 162.7L126.1 162.0L126.3 163.2L126.4 163.5L126.6 163.2L126.7 162.9L126.9 161.7L127.0 163.8L127.2 162.4L127.3 162.2L127.5 162.7L127.6 160.4L127.8 161.8L127.9 161.6L128.1 161.8L128.2 162.3L128.4 161.4L128.5 159.4L128.7 160.2L128.8 160.3L129.0 159.8L129.1 158.3L129.3 157.6L129.4 158.7L129.6 158.0L129.7 157.2L129.9 155.4L130.0 157.6L130.2 153.7L130.3 155.5L130.5 157.3L130.6 155.7L130.8 156.3L130.9 155.6L131.1 157.9L131.2 156.4L131.4 158.0L131.5 158.3L131.7 157.7L131.8 159.5L132.0 158.0L132.1 158.8L132.3 159.4L132.4 159.3L132.6 160.0L132.7 160.4L132.9 159.5L133.0 159.4L133.2 159.4L133.3 159.4L133.5 160.2L133.6 159.3L133.8 159.7L133.9 159.1L134.1 158.4L134.2 159.5L134.4 157.9L134.5 158.6L134.7 159.7L134.8 157.8L135.0 158.7L135.1 157.7L135.3 158.7L135.4 158.1L135.6 159.1L135.7 159.2L135.9 159.8L136.0 161.0L136.2 160.2L136.3 160.5L136.5 160.1L136.6 160.0L136.8 159.6L136.9 158.9L137.1 160.3L137.2 161.5L137.4 160.6L137.5 159.9L137.7 161.5L137.8 159.9L138.0 159.7L138.1 159.3L138.3 159.5L138.4 160.0L138.6 161.7L138.7 160.0L138.9 159.4L139.0 159.7L139.2 159.9L139.3 158.8L139.5 160.1L139.6 160.5L139.8 160.2L139.9 160.4L140.1 158.9L140.2 158.5L140.4 160.7L140.5 160.5L140.7 158.4L140.8 159.6L141.0 159.4L141.1 159.6L141.3 159.3L141.4 158.6L141.6 159.0L141.7 158.7L141.9 158.4L142.0 156.8L142.2 155.7L142.3 157.1L142.5 156.2L142.6 157.3L142.8 157.3L142.9 156.6L143.1 155.7L143.2 155.5L143.4 155.9L143.5 153.9L143.7 154.5L143.8 153.7L144.0 152.6L144.1 152.7L144.3 150.3L144.4 150.7L144.6 148.4L144.7 147.6L144.9 146.4L145.0 146.6L145.2 144.7L145.3 144.7L145.5 143.1L145.6 144.2L145.8 144.4L145.9 143.1L146.1 144.2L146.2 143.6L146.4 145.3L146.5 144.4L146.7 143.9L146.8 147.0L147.0 146.7L147.1 147.0L147.3 148.2L147.4 148.5L147.6 150.5L147.7 150.7L147.9 153.4L148.0 153.6L148.2 152.6L148.3 153.4L148.5 154.7L148.6 154.3L148.8 156.1L148.9 156.7L149.1 156.6L149.2 157.2L149.4 158.3L149.5 159.3L149.7 159.7L149.8 158.9L150.0 159.8L150.1 158.8L150.3 159.9L150.4 159.1L150.6 160.5L150.7 159.2L150.9 159.6L151.0 160.4L151.2 161.0L151.3 159.6L151.5 160.4L151.6 161.0L151.8 161.2L151.9 160.5L152.1 161.3L152.2 161.1L152.4 162.5L152.5 161.9L152.7 160.5L152.8 159.9L153.0 161.6L153.1 162.5L153.3 161.8L153.4 162.3L153.6 161.3L153.7 160.7L153.9 162.3L154.0 161.8L154.2 162.3L154.3 160.7L154.5 161.9L154.6 161.3L154.8 162.4L154.9 161.4L155.1 161.3L155.2 161.4L155.4 162.7L155.5 161.8L155.7 161.2L155.8 161.0L156.0 161.0L156.1 162.8L156.3 160.4L156.4 161.1L156.6 162.2L156.7 162.6L156.9 161.5L157.0 162.2L157.2 162.2L157.3 162.3L157.5 161.6L157.6 162.8L157.8 161.7L157.9 162.6L158.1 160.6L158.2 162.1L158.4 160.4L158.5 160.2L158.7 161.7L158.8 160.7L159.0 161.6L159.1 160.4L159.3 162.4L159.4 161.2L159.6 160.3L159.7 161.2L159.9 161.7L160.0 160.4L160.2 161.3L160.3 162.4L160.5 161.5L160.6 160.8L160.8 160.3L160.9 161.1L161.1 159.5L161.2 158.3L161.4 160.0L161.5 159.7L161.7 161.8L161.8 160.5L162.0 159.6L162.1 159.5L162.3 160.6L162.4 159.6L162.6 159.7L162.7 160.0L162.9 160.1L163.0 160.0L163.2 159.9L163.3 160.6L163.5 160.8L163.6 158.1L163.8 161.2L163.9 159.1L164.1 159.8L164.2 158.1L164.4 158.6L164.5 158.3L164.7 158.0L164.8 158.2L165.0 157.8L165.1 156.3L165.3 156.6L165.4 157.0L165.6 156.7L165.7 155.8L165.9 155.7L166.0 155.7L166.2 154.9L166.3 154.8L166.5 157.1L166.6 155.7L166.8 156.3L166.9 155.8L167.1 157.6L167.2 158.1L167.4 156.8L167.5 157.6L167.7 156.8L167.8 158.8L168.0 158.3L168.1 157.0L168.3 158.7L168.4 158.0L168.6 158.0L168.7 158.0L168.9 157.1L169.0 157.1L169.2 157.8L169.3 157.1L169.5 156.2L169.6 158.2L169.8 156.1L169.9 155.5L170.1 154.9L170.2 155.5L170.4 155.1L170.5 153.9L170.7 153.7L170.8 151.1L171.0 151.1L171.1 150.1L171.3 149.5L171.4 148.9L171.6 146.0L171.7 148.9L171.9 145.0L172.0 145.1L172.2 144.9L172.3 144.5L172.5 143.9L172.6 141.7L172.8 143.5L172.9 145.5L173.1 145.1L173.2 146.0L173.4 146.0L173.5 149.7L173.7 150.3L173.8 150.2L174.0 151.8L174.1 152.7L174.3 152.8L174.4 154.2L174.6 155.3L174.7 156.1L174.9 157.2L175.0 156.8L175.2 156.9L175.3 158.0L175.5 157.6L175.6 157.4L175.8 159.5L175.9 158.7L176.1 159.3L176.2 159.9L176.4 158.8L176.5 160.3L176.7 160.3L176.8 160.0L177.0 160.5L177.1 159.8L177.3 158.8L177.4 160.4L177.6 160.0L177.7 161.4L177.9 161.0L178.0 160.5L178.2 161.0L178.3 162.0L178.5 161.9L178.6 161.4L178.8 161.5L178.9 161.0L179.1 161.2L179.2 161.7L179.4 161.2L179.5 161.6L179.7 160.5L179.8 160.1L180.0 160.1L180.1 161.1L180.3 162.4L180.4 162.3L180.6 160.7L180.7 160.2L180.9 162.0L181.0 161.7L181.2 160.3L181.3 162.1L181.5 161.4L181.6 162.2L181.8 161.4L181.9 161.8L182.1 161.3L182.2 160.2L182.4 160.7L182.5 160.3L182.7 161.3L182.8 159.8L183.0 159.2L183.1 160.7L183.3 160.8L183.4 160.8L183.6 160.3L183.7 158.1L183.9 158.4L184.0 158.1L184.2 158.1L184.3 156.1L184.5 157.3L184.6 157.0L184.8 155.6L184.9 156.0L185.1 156.3L185.2 155.1L185.4 155.5L185.5 155.3L185.7 154.7L185.8 154.7L186.0 154.3L186.1 155.8L186.3 154.8L186.4 155.1L186.6 156.5L186.7 155.9L186.9 157.1L187.0 158.0L187.2 157.6L187.3 157.9L187.5 158.8L187.6 158.8L187.8 157.3L187.9 157.6L188.1 159.7L188.2 159.0L188.4 157.2L188.5 157.7L188.7 158.7L188.8 157.8L189.0 158.8L189.1 158.4L189.3 158.5L189.4 157.0L189.6 158.1L189.7 158.8L189.9 156.4L190.0 157.6L190.2 157.0L190.3 156.4L190.5 155.5L190.6 154.3L190.8 154.2L190.9 155.2L191.1 155.1L191.2 155.1L191.4 154.8L191.5 154.8L191.7 153.9L191.8 153.5L192.0 154.9L192.1 155.4L192.3 155.5L192.4 154.7L192.6 155.9L192.7 155.7L192.9 157.3L193.0 156.9L193.2 157.9L193.3 158.7L193.5 158.9L193.6 160.2L193.8 158.7L193.9 158.2L194.1 160.8L194.2 161.4L194.4 161.7L194.5 161.0L194.7 161.4L194.8 161.3L195.0 160.4L195.1 161.1L195.3 162.0L195.4 161.3L195.6 163.3L195.7 160.8L195.9 161.8L196.0 163.0L196.2 161.8L196.3 161.5L196.5 161.4L196.6 162.0L196.8 163.7L196.9 162.9L197.1 163.1L197.2 162.4L197.4 163.4L197.5 162.9L197.7 162.2L197.8 162.6L198.0 163.1L198.1 163.9L198.3 163.0L198.4 163.5L198.6 164.7L198.7 162.6L198.9 162.3L199.0 164.0L199.2 163.7L199.3 163.3L199.5 163.6L199.6 163.2L199.8 163.9L199.9 163.3L200.1 164.2L200.2 162.8L200.4 163.1L200.5 163.8L200.7 163.4L200.8 164.3L201.0 163.8L201.1 163.5L201.3 164.1L201.4 163.5L201.6 162.8L201.7 163.2L201.9 163.4L202.0 163.7L202.2 164.2L202.3 164.8L202.5 164.6L202.6 165.6L202.8 165.2L202.9 164.1L203.1 165.6L203.2 165.2L203.4 164.0L203.5 164.6L203.7 165.3L203.8 164.7L204.0 165.3L204.1 164.8L204.3 165.1L204.4 164.4L204.6 164.9L204.7 164.4L204.9 165.2L205.0 163.4L205.2 165.0L205.3 165.7L205.5 165.2L205.6 164.8L205.8 165.2L205.9 164.2L206.1 164.3L206.2 164.6L206.4 164.8L206.5 165.7L206.7 164.3L206.8 165.8L207.0 163.9L207.1 164.5L207.3 165.0L207.4 166.0L207.6 164.7L207.7 163.5L207.9 165.5L208.0 165.1L208.2 164.4L208.3 164.4L208.5 164.7L208.6 165.3L208.8 165.7L208.9 164.1L209.1 166.9L209.2 165.1L209.4 164.8L209.5 165.5L209.7 165.1L209.8 166.7L210.0 165.7L210.1 164.5L210.3 164.5L210.4 164.3L210.6 164.4L210.7 165.1L210.9 164.0L211.0 165.6L211.2 164.2L211.3 164.1L211.5 164.8L211.6 162.5L211.8 163.1L211.9 164.1L212.1 163.6L212.2 163.4L212.4 163.5L212.5 162.5L212.7 162.7L212.8 161.5L213.0 160.9L213.1 163.0L213.3 161.1L213.4 161.0L213.6 162.4L213.7 161.9L213.9 160.6L214.0 160.4L214.2 160.7L214.3 160.0L214.5 161.2L214.6 160.9L214.8 161.1L214.9 161.7L215.1 161.9L215.2 162.9L215.4 162.9L215.5 160.7L215.7 162.8L215.8 161.5L216.0 161.5L216.1 163.2L216.3 162.3L216.4 162.8L216.6 163.9L216.7 162.7L216.9 162.7L217.0 163.7L217.2 164.4L217.3 164.0L217.5 162.5L217.6 163.2L217.8 163.6L217.9 165.2L218.1 164.5L218.2 164.5L218.4 164.8L218.5 163.7L218.7 164.3L218.8 164.3L219.0 163.2L219.1 163.9L219.3 164.4L219.4 163.2L219.6 164.6L219.7 164.6L219.9 164.8L220.0 163.4L220.2 164.1L220.3 165.1L220.5 164.6L220.6 163.4L220.8 164.2L220.9 165.1L221.1 164.0L221.2 164.3L221.4 165.9L221.5 164.0L221.7 163.9L221.8 163.2L222.0 163.5L222.1 165.0L222.3 163.8L222.4 163.0L222.6 163.2L222.7 163.8L222.9 164.4L223.0 163.2L223.2 164.3L223.3 163.3L223.5 163.9L223.6 164.0L223.8 164.1L223.9 163.3L224.1 163.5L224.2 164.0L224.4 162.7L224.5 163.8L224.7 164.1L224.8 164.5L225.0 163.7L225.1 163.6L225.3 163.9L225.4 163.3L225.6 163.7L225.7 164.1L225.9 164.1L226.0 163.1L226.2 163.6L226.3 162.3L226.5 164.5L226.6 163.5L226.8 164.1L226.9 163.1L227.1 163.8L227.2 164.2L227.4 164.6L227.5 162.9L227.7 164.5L227.8 163.8L228.0 163.3L228.1 164.3L228.3 163.7L228.4 163.7L228.6 163.4L228.7 164.1L228.9 163.9L229.0 163.8L229.2 163.3L229.3 163.7L229.5 164.4L229.6 165.1L229.8 164.2L229.9 165.3L230.1 164.3L230.2 163.5L230.4 164.9L230.5 163.7L230.7 164.8L230.8 165.3L231.0 164.4L231.1 164.6L231.3 166.5L231.4 164.9L231.6 165.0L231.7 165.4L231.9 164.8L232.0 164.9L232.2 165.3L232.3 163.2L232.5 166.1L232.6 164.3L232.8 164.3L232.9 165.6L233.1 165.3L233.2 164.4L233.4 165.5L233.5 164.5L233.7 164.9L233.8 164.4L234.0 164.9L234.1 165.9L234.3 165.7L234.4 165.9L234.6 166.4L234.7 165.7L234.9 165.3L235.0 165.6L235.2 167.1L235.3 166.0L235.5 166.2L235.6 166.0L235.8 166.3L235.9 166.4L236.1 166.2L236.2 166.1L236.4 165.7L236.5 165.7L236.7 166.7L236.8 166.9L237.0 167.0L237.1 166.4L237.3 165.7L237.4 166.7L237.6 166.7L237.7 165.1L237.9 166.8L238.0 166.6L238.2 167.3L238.3 165.2L238.5 165.1L238.6 166.6L238.8 164.6L238.9 165.4L239.1 165.1L239.2 165.1L239.4 164.4L239.5 165.7L239.7 166.5L239.8 166.1L240.0 166.1L240.1 165.4L240.3 166.8L240.4 166.0L240.6 166.4L240.7 164.4L240.9 165.8L241.0 164.7L241.2 165.8L241.3 165.6L241.5 164.6L241.6 165.5L241.8 166.2L241.9 165.7L242.1 165.8L242.2 164.6L242.4 164.7L242.5 164.4L242.7 165.3L242.8 166.0L243.0 165.4L243.1 165.1L243.3 164.2L243.4 165.4L243.6 164.8L243.7 163.5L243.9 163.6L244.0 164.6L244.2 164.2L244.3 166.1L244.5 164.8L244.6 164.0L244.8 164.4L244.9 165.9L245.1 164.0L245.2 165.3L245.4 165.0L245.5 165.8L245.7 165.0L245.8 164.3L246.0 165.0L246.1 164.7L246.3 165.3L246.4 164.5L246.6 166.1L246.7 164.5L246.9 164.9L247.0 164.1L247.2 164.6L247.3 164.5L247.5 164.6L247.6 165.2L247.8 164.1L247.9 163.8L248.1 165.3L248.2 164.2L248.4 163.9L248.5 165.3L248.7 165.0L248.8 162.4L249.0 164.1L249.1 165.0L249.3 165.0L249.4 164.0L249.6 165.5L249.7 163.7L249.9 164.1L250.0 164.4L250.2 164.3L250.3 164.9L250.5 165.0L250.6 164.2L250.8 165.3L250.9 163.7L251.1 164.0L251.2 165.4L251.4 164.2L251.5 164.9L251.7 163.8L251.8 163.9L252.0 164.0L252.1 164.2L252.3 163.8L252.4 164.0L252.6 164.5L252.7 164.9L252.9 164.0L253.0 164.4L253.2 164.6L253.3 163.1L253.5 162.7L253.6 165.1L253.8 164.9L253.9 163.9L254.1 164.1L254.2 163.1L254.4 162.8L254.5 164.0L254.7 162.7L254.8 164.4L255.0 163.2L255.1 163.9L255.3 165.1L255.4 165.0L255.6 163.4L255.7 164.3L255.9 162.7L256.0 163.0L256.2 163.6L256.3 164.3L256.5 162.8L256.6 163.6L256.8 163.1L256.9 162.0L257.1 162.8L257.2 163.9L257.4 162.6L257.5 162.9L257.7 163.0L257.8 161.7L258.0 163.0L258.1 163.1L258.3 163.0L258.4 162.6L258.6 161.1L258.7 160.8L258.9 160.5L259.0 160.2L259.2 160.1L259.3 161.3L259.5 161.4L259.6 159.7L259.8 160.7L259.9 159.1L260.1 159.7L260.2 159.2L260.4 158.7L260.5 160.0L260.7 160.1L260.8 159.9L261.0 159.9L261.1 159.7L261.3 160.6L261.4 160.4L261.6 161.2L261.7 160.3L261.9 161.6L262.0 162.0L262.2 162.8L262.3 162.8L262.5 162.3L262.6 161.8L262.8 161.1L262.9 162.7L263.1 163.9L263.2 164.2L263.4 161.2L263.5 162.6L263.7 163.0L263.8 162.6L264.0 163.6L264.1 163.6L264.3 163.2L264.4 163.7L264.6 162.5L264.7 163.1L264.9 163.2L265.0 164.6L265.2 162.7L265.3 163.8L265.5 164.5L265.6 163.9L265.8 164.6L265.9 163.5L266.1 164.3L266.2 164.6L266.4 165.6L266.5 164.5L266.7 165.0L266.8 163.9L267.0 163.9L267.1 164.9L267.3 164.1L267.4 164.7L267.6 164.1L267.7 165.0L267.9 165.1L268.0 162.6L268.2 164.5L268.3 163.4L268.5 163.3L268.6 162.8L268.8 163.3L268.9 161.9L269.1 162.2L269.2 162.2L269.4 163.0L269.5 163.5L269.7 163.5L269.8 163.3L270.0 162.7L270.1 161.9L270.3 163.6L270.4 163.5L270.6 163.7L270.7 164.6L270.9 163.5L271.0 163.5L271.2 161.9L271.3 164.1L271.5 163.7L271.6 163.2L271.8 164.0L271.9 162.9L272.1 163.2L272.2 165.1L272.4 164.1L272.5 164.2L272.7 164.0L272.8 163.8L273.0 163.4L273.1 164.8L273.3 162.9L273.4 163.4L273.6 162.5L273.7 162.3L273.9 160.6L274.0 160.9L274.2 163.3L274.3 163.2L274.5 161.7L274.6 162.0L274.8 162.5L274.9 161.3L275.1 163.5L275.2 161.5L275.4 161.9L275.5 160.5L275.7 163.8L275.8 162.9L276.0 164.2L276.1 162.4L276.3 163.6L276.4 163.5L276.6 163.7L276.7 165.2L276.9 165.5L277.0 164.9L277.2 163.7L277.3 164.7L277.5 165.1L277.6 164.6L277.8 164.7L277.9 164.7L278.1 163.7L278.2 164.6L278.4 165.6L278.5 163.7L278.7 164.6L278.8 165.1L279.0 163.5L279.1 164.5L279.3 163.3L279.4 164.2L279.6 163.6L279.7 164.0L279.9 164.3L280.0 164.5L280.2 164.5L280.3 162.9L280.5 165.9L280.6 164.5L280.8 163.9L280.9 164.3L281.1 165.0L281.2 164.1L281.4 164.5L281.5 164.5L281.7 165.3L281.8 164.3L282.0 165.2L282.1 165.2L282.3 164.8L282.4 165.9L282.6 165.0L282.7 164.1L282.9 165.2L283.0 165.1L283.2 165.0L283.3 165.2L283.5 166.8L283.6 165.2L283.8 165.4L283.9 164.9L284.1 166.1L284.2 165.1L284.4 164.5L284.5 164.2L284.7 165.5L284.8 165.7L285.0 164.0L285.1 164.6L285.3 165.7L285.4 166.0L285.6 164.2L285.7 164.9L285.9 165.9L286.0 164.9L286.2 164.9L286.3 164.9L286.5 164.3L286.6 165.3L286.8 165.5L286.9 164.3L287.1 165.4L287.2 166.2L287.4 165.5L287.5 166.1L287.7 165.0L287.8 166.4L288.0 164.8L288.1 166.8L288.3 165.1L288.4 164.9L288.6 164.8L288.7 165.1L288.9 165.1L289.0 165.0L289.2 165.2L289.3 166.0L289.5 166.2L289.6 165.3L289.8 166.4L289.9 164.8L290.1 164.8L290.2 164.7L290.4 166.0L290.5 164.4L290.7 164.5L290.8 166.6L291.0 166.9L291.1 166.6L291.3 164.5L291.4 165.6L291.6 166.3L291.7 165.7L291.9 164.4L292.0 165.4L292.2 164.4L292.3 164.8L292.5 167.3L292.6 166.2L292.8 164.6L292.9 164.6L293.1 166.1L293.2 165.3L293.4 166.2L293.5 165.3L293.7 165.6L293.8 166.0L294.0 165.0L294.1 164.4L294.3 164.9L294.4 165.3L294.6 165.7" fill="none" stroke="#1a08d8" stroke-width="1.20" stroke-linejoin="round"/>
<path d="M22.8 111.1L22.9 110.7L23.1 110.7L23.2 109.5L23.4 112.1L23.5 111.7L23.7 110.8L23.8 111.4L24.0 111.1L24.1 110.6L24.3 111.5L24.4 110.8L24.6 110.7L24.7 110.5L24.9 111.2L25.0 110.9L25.2 111.2L25.3 110.5L25.5 111.0L25.6 110.4L25.8 111.4L25.9 111.0L26.1 111.1L26.2 111.1L26.4 110.2L26.5 111.3L26.7 112.1L26.8 109.8L27.0 109.8L27.1 109.9L27.3 111.3L27.4 110.9L27.6 111.4L27.7 111.2L27.9 110.9L28.0 110.9L28.2 110.6L28.3 111.2L28.5 110.0L28.6 110.4L28.8 110.8L28.9 111.7L29.1 110.2L29.2 110.0L29.4 110.3L29.5 111.2L29.7 110.4L29.8 111.3L30.0 109.4L30.1 111.2L30.3 111.1L30.4 109.6L30.6 110.5L30.7 111.1L30.9 110.4L31.0 110.9L31.2 111.7L31.3 110.4L31.5 110.1L31.6 109.7L31.8 110.6L31.9 110.1L32.1 110.0L32.2 110.1L32.4 110.5L32.5 109.5L32.7 109.1L32.8 108.6L33.0 110.7L33.1 110.0L33.3 110.8L33.4 109.9L33.6 109.4L33.7 110.1L33.9 109.7L34.0 108.9L34.2 109.0L34.3 110.5L34.5 109.6L34.6 109.5L34.8 109.0L34.9 108.6L35.1 109.5L35.2 108.7L35.4 108.1L35.5 108.3L35.7 107.7L35.8 108.1L36.0 108.4L36.1 107.0L36.3 108.0L36.4 106.4L36.6 106.5L36.7 105.5L36.9 105.4L37.0 105.0L37.2 104.2L37.3 103.4L37.5 102.7L37.6 101.8L37.8 100.5L37.9 100.4L38.1 99.8L38.2 99.0L38.4 97.7L38.5 97.6L38.7 95.0L38.8 93.3L39.0 93.4L39.1 90.4L39.3 90.4L39.4 88.2L39.6 88.1L39.7 86.1L39.9 87.5L40.0 86.8L40.2 86.6L40.3 88.8L40.5 89.1L40.6 89.7L40.8 90.4L40.9 92.1L41.1 93.4L41.2 95.3L41.4 96.7L41.5 97.1L41.7 98.4L41.8 99.5L42.0 100.1L42.1 101.6L42.3 102.8L42.4 104.1L42.6 105.3L42.7 104.7L42.9 106.2L43.0 106.2L43.2 108.2L43.3 107.4L43.5 108.2L43.6 107.8L43.8 108.2L43.9 109.2L44.1 109.1L44.2 109.8L44.4 108.9L44.5 110.5L44.7 109.8L44.8 111.6L45.0 110.6L45.1 111.6L45.3 110.2L45.4 111.5L45.6 110.8L45.7 111.2L45.9 111.7L46.0 111.6L46.2 112.0L46.3 112.4L46.5 112.5L46.6 112.1L46.8 111.5L46.9 111.9L47.1 112.3L47.2 111.2L47.4 113.0L47.5 112.5L47.7 112.6L47.8 113.4L48.0 113.3L48.1 113.0L48.3 112.4L48.4 113.2L48.6 113.3L48.7 112.6L48.9 113.8L49.0 113.5L49.2 112.1L49.3 113.4L49.5 112.6L49.6 114.1L49.8 113.9L49.9 112.8L50.1 112.9L50.2 113.6L50.4 113.4L50.5 114.5L50.7 114.0L50.8 113.4L51.0 114.0L51.1 112.4L51.3 113.8L51.4 114.2L51.6 113.5L51.7 113.2L51.9 114.0L52.0 114.8L52.2 113.8L52.3 113.0L52.5 114.5L52.6 112.5L52.8 113.9L52.9 113.3L53.1 114.2L53.2 113.1L53.4 114.4L53.5 113.7L53.7 112.5L53.8 112.3L54.0 113.3L54.1 114.2L54.3 113.4L54.4 113.3L54.6 113.1L54.7 113.6L54.9 113.3L55.0 113.2L55.2 112.4L55.3 113.6L55.5 113.6L55.6 111.9L55.8 113.9L55.9 112.8L56.1 111.9L56.2 110.9L56.4 112.3L56.5 112.0L56.7 111.1L56.8 110.2L57.0 111.7L57.1 110.3L57.3 110.1L57.4 111.7L57.6 110.9L57.7 109.7L57.9 108.4L58.0 108.5L58.2 106.1L58.3 106.9L58.5 105.6L58.6 104.4L58.8 103.3L58.9 103.5L59.1 102.1L59.2 100.8L59.4 99.9L59.5 97.3L59.7 95.4L59.8 93.3L60.0 92.3L60.1 91.0L60.3 88.4L60.4 86.8L60.6 83.7L60.7 82.3L60.9 80.5L61.0 79.0L61.2 79.9L61.3 78.9L61.5 78.1L61.6 78.7L61.8 80.2L61.9 80.8L62.1 83.7L62.2 84.6L62.4 87.2L62.5 88.9L62.7 91.3L62.8 92.8L63.0 94.6L63.1 96.7L63.3 98.6L63.4 100.3L63.6 102.0L63.7 104.1L63.9 104.9L64.0 105.3L64.2 106.8L64.3 106.9L64.5 108.9L64.6 109.1L64.8 108.6L64.9 110.5L65.1 111.0L65.2 109.4L65.4 111.0L65.5 111.6L65.7 111.0L65.8 111.9L66.0 112.3L66.1 113.4L66.3 113.6L66.4 115.2L66.6 113.6L66.7 114.7L66.9 114.3L67.0 114.6L67.2 113.9L67.3 113.6L67.5 114.4L67.6 115.5L67.8 116.1L67.9 115.6L68.1 115.7L68.2 115.0L68.4 116.5L68.5 116.5L68.7 115.5L68.8 115.8L69.0 115.4L69.1 116.9L69.3 116.4L69.4 116.1L69.6 116.5L69.7 116.6L69.9 116.1L70.0 115.7L70.2 115.7L70.3 115.5L70.5 116.9L70.6 118.0L70.8 115.7L70.9 116.8L71.1 117.0L71.2 116.2L71.4 116.9L71.5 116.2L71.7 117.6L71.8 116.5L72.0 116.9L72.1 117.3L72.3 116.6L72.4 115.8L72.6 116.5L72.7 117.3L72.9 116.8L73.0 116.9L73.2 116.1L73.3 116.9L73.5 117.2L73.6 116.7L73.8 117.8L73.9 116.5L74.1 116.0L74.2 115.6L74.4 117.2L74.5 116.5L74.7 117.1L74.8 116.7L75.0 117.3L75.1 117.0L75.3 116.0L75.4 116.3L75.6 116.7L75.7 115.2L75.9 116.7L76.0 116.5L76.2 116.2L76.3 115.4L76.5 115.5L76.6 114.5L76.8 115.1L76.9 114.5L77.1 114.7L77.2 114.1L77.4 114.3L77.5 114.6L77.7 112.8L77.8 113.8L78.0 111.7L78.1 111.2L78.3 112.0L78.4 111.6L78.6 111.3L78.7 109.5L78.9 109.8L79.0 109.2L79.2 109.0L79.3 107.4L79.5 106.8L79.6 104.8L79.8 104.2L79.9 102.8L80.1 102.2L80.2 99.9L80.4 98.6L80.5 97.9L80.7 97.2L80.8 95.0L81.0 93.6L81.1 92.0L81.3 91.9L81.4 90.9L81.6 91.2L81.7 90.3L81.9 89.8L82.0 90.7L82.2 91.3L82.3 92.2L82.5 95.0L82.6 96.1L82.8 96.3L82.9 99.6L83.1 100.1L83.2 100.7L83.4 102.9L83.5 103.8L83.7 104.5L83.8 104.9L84.0 107.0L84.1 108.1L84.3 107.2L84.4 109.8L84.6 110.5L84.7 110.4L84.9 111.3L85.0 111.6L85.2 111.7L85.3 112.4L85.5 113.8L85.6 112.4L85.8 113.7L85.9 114.0L86.1 113.7L86.2 114.0L86.4 113.6L86.5 114.1L86.7 114.8L86.8 115.1L87.0 114.5L87.1 117.0L87.3 114.9L87.4 115.4L87.6 115.3L87.7 115.2L87.9 116.3L88.0 115.3L88.2 116.4L88.3 116.3L88.5 115.0L88.6 116.3L88.8 115.2L88.9 117.3L89.1 115.4L89.2 115.0L89.4 114.4L89.5 114.7L89.7 115.1L89.8 114.8L90.0 114.6L90.1 114.8L90.3 115.0L90.4 115.9L90.6 113.9L90.7 114.5L90.9 114.1L91.0 113.7L91.2 113.7L91.3 113.7L91.5 114.5L91.6 113.8L91.8 113.4L91.9 113.8L92.1 113.4L92.2 112.8L92.4 112.9L92.5 111.8L92.7 112.3L92.8 111.8L93.0 110.9L93.1 109.9L93.3 111.1L93.4 109.6L93.6 110.8L93.7 107.8L93.9 107.9L94.0 106.3L94.2 105.7L94.3 105.0L94.5 102.8L94.6 101.9L94.8 100.6L94.9 99.0L95.1 97.6L95.2 95.9L95.4 93.7L95.5 91.1L95.7 88.3L95.8 85.3L96.0 82.9L96.1 80.4L96.3 78.4L96.4 75.2L96.6 72.3L96.7 71.4L96.9 68.9L97.0 67.9L97.2 67.9L97.3 68.5L97.5 67.7L97.6 69.9L97.8 72.6L97.9 74.5L98.1 76.7L98.2 79.4L98.4 83.1L98.5 84.5L98.7 87.6L98.8 89.9L99.0 91.2L99.1 93.7L99.3 94.9L99.4 96.4L99.6 97.5L99.7 99.9L99.9 100.2L100.0 101.1L100.2 101.6L100.3 104.1L100.5 104.0L100.6 104.0L100.8 104.1L100.9 103.9L101.1 105.2L101.2 105.3L101.4 104.3L101.5 105.8L101.7 105.5L101.8 104.2L102.0 104.2L102.1 103.9L102.3 103.7L102.4 103.0L102.6 101.3L102.7 102.4L102.9 100.7L103.0 100.1L103.2 98.8L103.3 96.5L103.5 95.1L103.6 93.5L103.8 91.4L103.9 88.5L104.1 85.6L104.2 83.2L104.4 79.7L104.5 76.6L104.7 72.4L104.8 70.2L105.0 66.2L105.1 63.3L105.3 60.8L105.4 58.7L105.6 58.1L105.7 56.4L105.9 55.7L106.0 57.8L106.2 59.3L106.3 62.5L106.5 64.9L106.6 68.3L106.8 72.0L106.9 75.5L107.1 78.3L107.2 82.3L107.4 85.8L107.5 89.5L107.7 91.2L107.8 93.6L108.0 96.4L108.1 98.4L108.3 100.9L108.4 101.9L108.6 103.0L108.7 105.2L108.9 106.5L109.0 106.3L109.2 107.7L109.3 107.4L109.5 109.0L109.6 109.4L109.8 110.4L109.9 110.9L110.1 111.6L110.2 112.1L110.4 112.9L110.5 113.2L110.7 113.1L110.8 113.0L111.0 114.8L111.1 115.2L111.3 114.4L111.4 115.2L111.6 114.2L111.7 114.4L111.9 115.4L112.0 116.7L112.2 115.3L112.3 115.6L112.5 117.3L112.6 115.3L112.8 117.0L112.9 117.0L113.1 116.8L113.2 117.1L113.4 118.7L113.5 116.6L113.7 117.2L113.8 117.3L114.0 117.2L114.1 116.9L114.3 118.7L114.4 118.0L114.6 116.9L114.7 117.6L114.9 118.3L115.0 118.4L115.2 117.4L115.3 118.3L115.5 118.5L115.6 118.7L115.8 118.7L115.9 117.5L116.1 119.7L116.2 118.8L116.4 119.8L116.5 120.5L116.7 118.7L116.8 118.1L117.0 119.4L117.1 118.9L117.3 118.7L117.4 118.4L117.6 120.1L117.7 118.9L117.9 118.3L118.0 118.9L118.2 118.5L118.3 119.4L118.5 119.1L118.6 118.7L118.8 119.7L118.9 119.0L119.1 119.9L119.2 120.2L119.4 119.3L119.5 119.1L119.7 119.7L119.8 120.1L120.0 119.6L120.1 119.7L120.3 119.6L120.4 119.8L120.6 120.1L120.7 119.3L120.9 119.4L121.0 119.7L121.2 119.3L121.3 119.8L121.5 120.1L121.6 119.8L121.8 119.4L121.9 119.3L122.1 120.9L122.2 120.3L122.4 119.2L122.5 119.3L122.7 121.0L122.8 120.8L123.0 119.9L123.1 120.5L123.3 119.0L123.4 119.9L123.6 120.3L123.7 118.7L123.9 119.4L124.0 120.3L124.2 120.5L124.3 119.5L124.5 120.0L124.6 120.8L124.8 119.6L124.9 119.0L125.1 119.7L125.2 119.5L125.4 120.5L125.5 119.8L125.7 119.2L125.8 121.1L126.0 119.3L126.1 119.8L126.3 119.9L126.4 119.9L126.6 119.4L126.7 119.6L126.9 119.1L127.0 118.2L127.2 118.8L127.3 118.7L127.5 118.5L127.6 118.6L127.8 117.9L127.9 118.9L128.1 118.8L128.2 116.2L128.4 117.2L128.5 116.4L128.7 114.8L128.8 116.1L129.0 114.9L129.1 114.4L129.3 113.5L129.4 113.8L129.6 113.1L129.7 111.7L129.9 111.2L130.0 110.1L130.2 109.8L130.3 109.0L130.5 109.5L130.6 109.3L130.8 110.4L130.9 111.3L131.1 111.7L131.2 113.0L131.4 114.6L131.5 112.4L131.7 114.3L131.8 114.4L132.0 115.0L132.1 114.8L132.3 115.9L132.4 116.0L132.6 115.9L132.7 116.3L132.9 116.2L133.0 115.1L133.2 117.2L133.3 116.3L133.5 115.7L133.6 116.3L133.8 115.5L133.9 114.3L134.1 115.9L134.2 114.1L134.4 114.7L134.5 114.8L134.7 115.5L134.8 115.5L135.0 115.2L135.1 114.9L135.3 115.5L135.4 116.8L135.6 117.7L135.7 117.3L135.9 116.9L136.0 118.2L136.2 117.7L136.3 117.9L136.5 118.1L136.6 118.8L136.8 118.8L136.9 119.3L137.1 119.6L137.2 119.2L137.4 117.6L137.5 118.0L137.7 119.2L137.8 119.1L138.0 120.4L138.1 119.1L138.3 119.0L138.4 119.7L138.6 119.8L138.7 119.0L138.9 119.3L139.0 118.3L139.2 118.4L139.3 119.7L139.5 118.0L139.6 119.3L139.8 119.1L139.9 119.0L140.1 119.0L140.2 118.6L140.4 116.8L140.5 117.3L140.7 117.4L140.8 118.1L141.0 116.6L141.1 116.6L141.3 116.5L141.4 117.1L141.6 115.1L141.7 114.7L141.9 115.4L142.0 113.2L142.2 114.1L142.3 113.0L142.5 111.6L142.6 111.5L142.8 110.3L142.9 110.0L143.1 109.1L143.2 108.7L143.4 106.6L143.5 105.4L143.7 103.8L143.8 102.9L144.0 102.3L144.1 99.5L144.3 100.1L144.4 98.7L144.6 98.5L144.7 98.5L144.9 98.8L145.0 98.6L145.2 98.5L145.3 99.3L145.5 99.5L145.6 99.7L145.8 100.3L145.9 100.8L146.1 100.4L146.2 100.4L146.4 99.3L146.5 99.7L146.7 98.3L146.8 99.4L147.0 98.0L147.1 99.0L147.3 99.8L147.4 97.8L147.6 99.1L147.7 99.0L147.9 99.2L148.0 100.0L148.2 101.9L148.3 103.6L148.5 104.3L148.6 104.4L148.8 106.0L148.9 107.7L149.1 109.8L149.2 110.2L149.4 111.2L149.5 112.7L149.7 112.6L149.8 113.5L150.0 114.1L150.1 113.7L150.3 115.6L150.4 116.1L150.6 116.9L150.7 116.0L150.9 116.6L151.0 118.0L151.2 117.9L151.3 118.8L151.5 117.7L151.6 118.6L151.8 118.2L151.9 119.0L152.1 118.7L152.2 119.5L152.4 119.9L152.5 119.8L152.7 118.4L152.8 120.2L153.0 120.0L153.1 119.1L153.3 119.3L153.4 119.8L153.6 120.2L153.7 119.6L153.9 118.9L154.0 120.1L154.2 120.0L154.3 121.4L154.5 119.1L154.6 121.4L154.8 120.9L154.9 120.0L155.1 120.7L155.2 119.7L155.4 120.2L155.5 119.1L155.7 119.5L155.8 118.7L156.0 118.2L156.1 118.8L156.3 118.4L156.4 118.9L156.6 119.1L156.7 117.9L156.9 117.8L157.0 117.6L157.2 116.2L157.3 117.1L157.5 116.8L157.6 116.7L157.8 116.0L157.9 115.6L158.1 116.8L158.2 117.3L158.4 118.2L158.5 118.3L158.7 118.8L158.8 118.3L159.0 119.0L159.1 118.4L159.3 119.0L159.4 119.3L159.6 120.5L159.7 119.1L159.9 118.2L160.0 119.9L160.2 118.6L160.3 119.1L160.5 119.0L160.6 118.6L160.8 119.9L160.9 119.5L161.1 118.7L161.2 119.1L161.4 118.8L161.5 119.3L161.7 118.7L161.8 118.4L162.0 118.4L162.1 118.5L162.3 118.8L162.4 118.0L162.6 118.4L162.7 118.7L162.9 119.7L163.0 118.7L163.2 116.2L163.3 117.6L163.5 117.4L163.6 117.7L163.8 118.2L163.9 117.5L164.1 115.4L164.2 116.6L164.4 116.2L164.5 116.0L164.7 116.2L164.8 114.3L165.0 115.2L165.1 113.1L165.3 113.7L165.4 113.4L165.6 114.2L165.7 112.0L165.9 111.2L166.0 112.4L166.2 111.6L166.3 113.0L166.5 111.8L166.6 111.9L166.8 113.4L166.9 113.0L167.1 113.9L167.2 112.7L167.4 114.8L167.5 113.7L167.7 114.8L167.8 113.9L168.0 113.7L168.1 114.5L168.3 114.8L168.4 115.7L168.6 114.9L168.7 115.1L168.9 114.9L169.0 116.3L169.2 113.7L169.3 114.7L169.5 113.6L169.6 113.5L169.8 112.6L169.9 113.1L170.1 111.1L170.2 110.4L170.4 110.4L170.5 109.1L170.7 109.3L170.8 108.5L171.0 106.4L171.1 106.2L171.3 104.2L171.4 103.3L171.6 102.1L171.7 102.0L171.9 99.8L172.0 98.3L172.2 97.5L172.3 98.4L172.5 96.5L172.6 97.4L172.8 98.0L172.9 97.5L173.1 99.7L173.2 101.8L173.4 102.6L173.5 103.2L173.7 105.5L173.8 106.6L174.0 108.7L174.1 108.2L174.3 109.4L174.4 110.6L174.6 111.4L174.7 112.3L174.9 112.9L175.0 113.2L175.2 113.2L175.3 114.3L175.5 114.3L175.6 114.9L175.8 115.6L175.9 116.6L176.1 117.1L176.2 116.2L176.4 117.3L176.5 117.8L176.7 117.5L176.8 116.7L177.0 116.6L177.1 118.5L177.3 118.7L177.4 118.5L177.6 117.8L177.7 119.4L177.9 119.4L178.0 118.7L178.2 118.7L178.3 117.7L178.5 119.4L178.6 118.1L178.8 119.5L178.9 119.6L179.1 119.3L179.2 120.2L179.4 119.1L179.5 119.7L179.7 119.9L179.8 119.6L180.0 119.2L180.1 120.2L180.3 119.8L180.4 119.4L180.6 119.5L180.7 119.6L180.9 120.9L181.0 119.6L181.2 119.4L181.3 118.9L181.5 118.8L181.6 118.3L181.8 119.5L181.9 119.2L182.1 118.5L182.2 118.1L182.4 118.7L182.5 118.5L182.7 117.8L182.8 118.7L183.0 118.4L183.1 118.1L183.3 118.4L183.4 117.4L183.6 118.4L183.7 116.7L183.9 117.3L184.0 117.1L184.2 116.2L184.3 116.2L184.5 114.8L184.6 114.3L184.8 114.6L184.9 113.8L185.1 114.0L185.2 113.2L185.4 113.0L185.5 112.3L185.7 111.7L185.8 111.3L186.0 110.7L186.1 110.4L186.3 111.9L186.4 109.7L186.6 110.8L186.7 111.7L186.9 111.7L187.0 112.6L187.2 112.5L187.3 111.7L187.5 112.6L187.6 112.3L187.8 113.9L187.9 114.4L188.1 113.4L188.2 114.1L188.4 113.6L188.5 113.0L188.7 113.6L188.8 112.9L189.0 113.5L189.1 113.9L189.3 114.0L189.4 114.2L189.6 112.9L189.7 113.0L189.9 112.8L190.0 112.5L190.2 110.1L190.3 110.9L190.5 111.5L190.6 110.1L190.8 110.7L190.9 110.9L191.1 109.2L191.2 110.3L191.4 110.8L191.5 110.9L191.7 110.2L191.8 111.6L192.0 111.3L192.1 112.3L192.3 112.2L192.4 111.7L192.6 112.2L192.7 111.6L192.9 111.5L193.0 110.8L193.2 111.4L193.3 111.7L193.5 111.0L193.6 110.7L193.8 110.1L193.9 110.0L194.1 110.7L194.2 109.5L194.4 111.9L194.5 111.0L194.7 112.8L194.8 112.7L195.0 112.3L195.1 113.5L195.3 113.8L195.4 114.5L195.6 115.2L195.7 114.8L195.9 115.2L196.0 115.7L196.2 115.5L196.3 116.5L196.5 117.1L196.6 117.3L196.8 117.5L196.9 117.4L197.1 118.3L197.2 116.7L197.4 117.9L197.5 118.0L197.7 118.9L197.8 118.9L198.0 119.1L198.1 118.7L198.3 119.4L198.4 118.3L198.6 119.0L198.7 117.8L198.9 120.1L199.0 120.1L199.2 118.9L199.3 118.8L199.5 118.1L199.6 118.5L199.8 119.6L199.9 119.5L200.1 118.7L200.2 119.4L200.4 119.3L200.5 120.0L200.7 120.2L200.8 119.7L201.0 120.0L201.1 119.9L201.3 118.7L201.4 120.1L201.6 120.0L201.7 120.6L201.9 119.0L202.0 120.6L202.2 119.8L202.3 120.4L202.5 121.0L202.6 119.4L202.8 119.6L202.9 121.0L203.1 119.7L203.2 119.9L203.4 120.9L203.5 120.4L203.7 121.0L203.8 120.8L204.0 120.6L204.1 121.3L204.3 122.0L204.4 120.7L204.6 121.6L204.7 121.5L204.9 120.9L205.0 121.1L205.2 120.3L205.3 120.5L205.5 121.1L205.6 120.9L205.8 121.7L205.9 120.2L206.1 120.8L206.2 120.7L206.4 121.0L206.5 121.8L206.7 120.4L206.8 121.6L207.0 120.8L207.1 121.0L207.3 121.8L207.4 121.0L207.6 121.6L207.7 121.3L207.9 121.2L208.0 121.1L208.2 120.2L208.3 120.9L208.5 121.4L208.6 121.4L208.8 120.4L208.9 121.9L209.1 121.6L209.2 120.4L209.4 120.5L209.5 121.4L209.7 120.0L209.8 120.6L210.0 120.9L210.1 120.8L210.3 120.8L210.4 121.0L210.6 120.2L210.7 120.3L210.9 121.8L211.0 119.6L211.2 120.1L211.3 120.3L211.5 119.7L211.6 120.7L211.8 119.9L211.9 120.2L212.1 118.0L212.2 120.1L212.4 119.8L212.5 118.4L212.7 119.4L212.8 118.5L213.0 118.7L213.1 118.9L213.3 117.5L213.4 116.5L213.6 116.8L213.7 115.7L213.9 115.7L214.0 115.4L214.2 115.2L214.3 116.2L214.5 115.9L214.6 114.8L214.8 116.1L214.9 114.5L215.1 115.3L215.2 115.9L215.4 117.0L215.5 117.0L215.7 117.1L215.8 117.9L216.0 117.9L216.1 118.6L216.3 117.5L216.4 117.2L216.6 118.2L216.7 119.2L216.9 119.0L217.0 119.6L217.2 119.6L217.3 119.7L217.5 120.0L217.6 119.1L217.8 120.3L217.9 119.2L218.1 119.8L218.2 119.1L218.4 120.3L218.5 119.1L218.7 120.9L218.8 119.3L219.0 120.3L219.1 120.1L219.3 119.6L219.4 120.9L219.6 119.9L219.7 121.0L219.9 119.5L220.0 119.7L220.2 118.9L220.3 120.4L220.5 120.6L220.6 120.2L220.8 120.0L220.9 119.5L221.1 121.4L221.2 120.4L221.4 118.9L221.5 119.8L221.7 118.4L221.8 120.8L222.0 121.1L222.1 120.7L222.3 119.8L222.4 119.4L222.6 118.9L222.7 120.0L222.9 119.2L223.0 119.4L223.2 119.2L223.3 119.4L223.5 120.1L223.6 120.5L223.8 119.6L223.9 119.5L224.1 118.7L224.2 118.6L224.4 118.7L224.5 119.8L224.7 119.4L224.8 119.9L225.0 119.6L225.1 119.1L225.3 118.6L225.4 119.2L225.6 118.6L225.7 120.7L225.9 119.6L226.0 119.3L226.2 120.7L226.3 119.3L226.5 119.9L226.6 119.5L226.8 119.8L226.9 119.4L227.1 119.9L227.2 120.5L227.4 118.9L227.5 118.3L227.7 120.4L227.8 119.7L228.0 120.1L228.1 119.4L228.3 120.5L228.4 120.6L228.6 118.8L228.7 119.8L228.9 119.0L229.0 118.3L229.2 119.1L229.3 119.5L229.5 118.2L229.6 118.2L229.8 119.6L229.9 118.8L230.1 118.9L230.2 117.9L230.4 118.2L230.5 118.6L230.7 118.7L230.8 118.7L231.0 119.6L231.1 118.9L231.3 118.0L231.4 118.5L231.6 119.2L231.7 120.2L231.9 119.1L232.0 119.5L232.2 119.8L232.3 119.5L232.5 119.6L232.6 120.1L232.8 120.9L232.9 120.7L233.1 120.3L233.2 120.8L233.4 119.9L233.5 121.3L233.7 121.3L233.8 121.1L234.0 119.9L234.1 122.2L234.3 119.3L234.4 120.5L234.6 120.6L234.7 121.6L234.9 120.3L235.0 121.4L235.2 121.2L235.3 121.1L235.5 121.8L235.6 122.2L235.8 121.6L235.9 121.2L236.1 119.9L236.2 122.2L236.4 121.1L236.5 120.2L236.7 121.4L236.8 122.2L237.0 121.2L237.1 120.6L237.3 122.6L237.4 121.6L237.6 121.5L237.7 121.9L237.9 119.9L238.0 121.2L238.2 121.1L238.3 122.6L238.5 120.9L238.6 120.9L238.8 120.3L238.9 120.7L239.1 121.0L239.2 121.3L239.4 121.0L239.5 122.3L239.7 121.4L239.8 121.5L240.0 121.9L240.1 121.5L240.3 120.7L240.4 120.1L240.6 121.3L240.7 120.5L240.9 121.8L241.0 120.5L241.2 119.6L241.3 121.0L241.5 121.6L241.6 120.8L241.8 121.0L241.9 121.0L242.1 121.9L242.2 121.1L242.4 120.8L242.5 120.5L242.7 119.8L242.8 121.7L243.0 121.5L243.1 120.2L243.3 121.1L243.4 120.9L243.6 120.5L243.7 120.5L243.9 121.1L244.0 119.9L244.2 120.3L244.3 120.5L244.5 120.5L244.6 120.4L244.8 120.6L244.9 120.8L245.1 119.9L245.2 120.4L245.4 120.0L245.5 121.3L245.7 119.4L245.8 120.1L246.0 120.6L246.1 120.0L246.3 119.9L246.4 119.7L246.6 120.2L246.7 119.2L246.9 119.8L247.0 119.7L247.2 118.8L247.3 119.8L247.5 119.3L247.6 119.6L247.8 119.9L247.9 119.5L248.1 118.5L248.2 119.3L248.4 118.0L248.5 118.5L248.7 119.9L248.8 118.9L249.0 119.8L249.1 118.8L249.3 118.9L249.4 118.3L249.6 119.6L249.7 119.0L249.9 119.5L250.0 119.5L250.2 119.7L250.3 119.6L250.5 119.5L250.6 119.6L250.8 119.3L250.9 118.5L251.1 120.1L251.2 121.2L251.4 120.6L251.5 121.4L251.7 120.3L251.8 119.5L252.0 119.5L252.1 120.6L252.3 120.4L252.4 120.1L252.6 120.7L252.7 119.7L252.9 120.6L253.0 120.1L253.2 120.4L253.3 121.0L253.5 120.2L253.6 121.2L253.8 121.1L253.9 119.9L254.1 121.7L254.2 119.6L254.4 120.3L254.5 120.8L254.7 118.9L254.8 120.9L255.0 121.0L255.1 120.2L255.3 120.4L255.4 120.3L255.6 120.1L255.7 120.8L255.9 119.9L256.0 120.0L256.2 120.2L256.3 120.5L256.5 120.6L256.6 119.0L256.8 118.6L256.9 119.6L257.1 119.6L257.2 118.9L257.4 119.6L257.5 119.7L257.7 119.5L257.8 120.1L258.0 118.4L258.1 118.9L258.3 119.9L258.4 118.9L258.6 117.7L258.7 118.3L258.9 118.6L259.0 119.0L259.2 117.8L259.3 117.9L259.5 116.2L259.6 116.4L259.8 117.0L259.9 115.4L260.1 115.6L260.2 114.2L260.4 116.0L260.5 114.8L260.7 115.0L260.8 113.6L261.0 113.6L261.1 115.5L261.3 114.2L261.4 114.2L261.6 115.0L261.7 115.3L261.9 114.0L262.0 114.9L262.2 115.8L262.3 116.0L262.5 116.5L262.6 116.3L262.8 116.7L262.9 117.2L263.1 116.9L263.2 117.1L263.4 117.4L263.5 118.0L263.7 118.0L263.8 118.0L264.0 118.3L264.1 118.5L264.3 118.8L264.4 119.0L264.6 118.1L264.7 119.5L264.9 118.0L265.0 119.4L265.2 118.7L265.3 119.5L265.5 119.9L265.6 118.1L265.8 119.6L265.9 119.5L266.1 119.1L266.2 119.6L266.4 119.1L266.5 119.5L266.7 118.8L266.8 119.9L267.0 119.8L267.1 119.8L267.3 119.0L267.4 120.5L267.6 120.5L267.7 119.3L267.9 119.0L268.0 119.0L268.2 119.6L268.3 119.7L268.5 118.6L268.6 117.7L268.8 119.1L268.9 118.7L269.1 118.7L269.2 118.8L269.4 117.7L269.5 118.3L269.7 117.9L269.8 118.2L270.0 118.6L270.1 117.7L270.3 117.2L270.4 118.4L270.6 118.2L270.7 117.7L270.9 116.8L271.0 117.5L271.2 118.3L271.3 118.6L271.5 118.1L271.6 118.8L271.8 118.3L271.9 118.6L272.1 119.2L272.2 118.8L272.4 119.2L272.5 119.7L272.7 119.9L272.8 118.9L273.0 119.1L273.1 118.5L273.3 118.5L273.4 119.5L273.6 119.0L273.7 118.2L273.9 119.6L274.0 118.8L274.2 119.1L274.3 119.5L274.5 119.4L274.6 119.1L274.8 117.8L274.9 119.3L275.1 118.5L275.2 117.9L275.4 117.3L275.5 119.3L275.7 118.5L275.8 118.3L276.0 118.5L276.1 118.0L276.3 117.2L276.4 118.5L276.6 118.7L276.7 118.5L276.9 119.3L277.0 119.7L277.2 118.2L277.3 118.6L277.5 119.6L277.6 119.3L277.8 119.5L277.9 120.1L278.1 120.1L278.2 119.5L278.4 119.9L278.5 119.5L278.7 119.9L278.8 119.5L279.0 119.0L279.1 120.0L279.3 120.0L279.4 120.9L279.6 121.4L279.7 120.5L279.9 120.8L280.0 120.2L280.2 120.0L280.3 120.5L280.5 120.5L280.6 120.9L280.8 120.8L280.9 121.7L281.1 120.6L281.2 119.8L281.4 120.9L281.5 120.4L281.7 121.0L281.8 121.5L282.0 120.5L282.1 120.8L282.3 121.2L282.4 120.3L282.6 121.0L282.7 121.2L282.9 121.3L283.0 121.5L283.2 121.1L283.3 121.0L283.5 119.9L283.6 119.1L283.8 120.1L283.9 121.5L284.1 120.6L284.2 119.1L284.4 120.2L284.5 120.6L284.7 119.2L284.8 120.5L285.0 119.4L285.1 120.6L285.3 120.0L285.4 121.7L285.6 119.0L285.7 119.9L285.9 118.8L286.0 120.4L286.2 119.8L286.3 120.3L286.5 119.9L286.6 119.2L286.8 119.6L286.9 119.3L287.1 119.5L287.2 120.3L287.4 121.0L287.5 120.9L287.7 120.8L287.8 120.2L288.0 120.9L288.1 120.1L288.3 120.8L288.4 121.2L288.6 120.6L288.7 120.5L288.9 120.5L289.0 121.2L289.2 120.6L289.3 120.0L289.5 120.6L289.6 120.2L289.8 121.8L289.9 120.9L290.1 120.0L290.2 121.0L290.4 121.3L290.5 121.1L290.7 120.7L290.8 121.0L291.0 121.1L291.1 121.5L291.3 121.1L291.4 122.3L291.6 120.8L291.7 121.8L291.9 120.9L292.0 119.9L292.2 120.2L292.3 119.8L292.5 119.9L292.6 121.6L292.8 120.5L292.9 121.3L293.1 120.4L293.2 120.9L293.4 120.3L293.5 121.4L293.7 120.8L293.8 120.6L294.0 120.8L294.1 122.2L294.3 121.2L294.4 121.4L294.6 120.2" fill="none" stroke="#e80000" stroke-width="1.20" stroke-linejoin="round"/>
<path d="M22.8 61.9L22.9 62.6L23.1 61.9L23.2 59.6L23.4 62.7L23.5 62.1L23.7 60.8L23.8 62.3L24.0 62.1L24.1 62.0L24.3 61.6L24.4 62.4L24.6 60.6L24.7 61.4L24.9 61.0L25.0 62.5L25.2 61.7L25.3 61.3L25.5 60.6L25.6 61.4L25.8 61.8L25.9 61.4L26.1 63.6L26.2 63.2L26.4 58.0L26.5 59.2L26.7 61.6L26.8 61.3L27.0 62.2L27.1 62.2L27.3 64.9L27.4 60.3L27.6 61.4L27.7 64.8L27.9 62.8L28.0 62.9L28.2 61.2L28.3 59.7L28.5 62.2L28.6 62.1L28.8 60.3L28.9 61.0L29.1 61.9L29.2 60.7L29.4 61.9L29.5 62.2L29.7 62.1L29.8 61.3L30.0 62.9L30.1 63.3L30.3 62.5L30.4 60.9L30.6 63.0L30.7 61.3L30.9 63.2L31.0 60.5L31.2 63.3L31.3 62.0L31.5 60.3L31.6 61.6L31.8 62.1L31.9 62.4L32.1 60.6L32.2 60.4L32.4 62.3L32.5 61.3L32.7 62.3L32.8 63.0L33.0 59.6L33.1 62.2L33.3 63.5L33.4 61.4L33.6 60.6L33.7 62.7L33.9 62.0L34.0 62.8L34.2 61.0L34.3 59.3L34.5 61.2L34.6 60.6L34.8 62.2L34.9 61.3L35.1 58.6L35.2 59.0L35.4 61.7L35.5 61.3L35.7 59.2L35.8 59.8L36.0 60.2L36.1 59.9L36.3 60.1L36.4 58.9L36.6 58.0L36.7 57.2L36.9 58.5L37.0 53.3L37.2 55.6L37.3 55.0L37.5 52.2L37.6 53.7L37.8 51.3L37.9 52.3L38.1 49.7L38.2 49.6L38.4 49.0L38.5 46.5L38.7 43.5L38.8 41.3L39.0 44.8L39.1 41.3L39.3 39.9L39.4 40.8L39.6 40.4L39.7 42.3L39.9 42.0L40.0 43.0L40.2 43.2L40.3 46.2L40.5 45.5L40.6 49.3L40.8 51.8L40.9 48.9L41.1 48.8L41.2 54.3L41.4 58.0L41.5 54.0L41.7 54.6L41.8 57.9L42.0 56.7L42.1 57.8L42.3 58.6L42.4 60.4L42.6 59.6L42.7 61.0L42.9 60.8L43.0 60.2L43.2 61.3L43.3 60.7L43.5 62.3L43.6 61.0L43.8 61.3L43.9 65.1L44.1 63.2L44.2 63.4L44.4 64.3L44.5 63.2L44.7 63.6L44.8 64.7L45.0 64.6L45.1 62.7L45.3 65.6L45.4 63.8L45.6 63.2L45.7 63.6L45.9 64.4L46.0 67.3L46.2 63.5L46.3 65.4L46.5 62.3L46.6 65.4L46.8 66.7L46.9 65.2L47.1 64.7L47.2 66.0L47.4 66.7L47.5 66.7L47.7 68.6L47.8 66.2L48.0 65.2L48.1 65.9L48.3 66.0L48.4 66.3L48.6 66.2L48.7 66.5L48.9 64.0L49.0 67.5L49.2 65.6L49.3 64.8L49.5 67.4L49.6 68.4L49.8 67.3L49.9 66.9L50.1 65.4L50.2 70.8L50.4 68.1L50.5 65.3L50.7 65.9L50.8 67.1L51.0 64.9L51.1 67.3L51.3 66.5L51.4 68.9L51.6 68.6L51.7 63.5L51.9 67.4L52.0 65.1L52.2 69.0L52.3 67.7L52.5 68.2L52.6 66.0L52.8 70.1L52.9 70.4L53.1 66.1L53.2 68.1L53.4 66.7L53.5 67.6L53.7 65.9L53.8 70.3L54.0 66.3L54.1 67.3L54.3 68.4L54.4 66.8L54.6 67.3L54.7 66.9L54.9 67.5L55.0 66.0L55.2 67.0L55.3 67.3L55.5 67.0L55.6 67.5L55.8 67.0L55.9 68.4L56.1 66.8L56.2 67.0L56.4 66.1L56.5 66.2L56.7 65.0L56.8 67.4L57.0 64.9L57.1 65.3L57.3 66.6L57.4 66.4L57.6 65.0L57.7 62.4L57.9 65.5L58.0 64.9L58.2 62.1L58.3 64.6L58.5 62.0L58.6 60.7L58.8 61.7L58.9 60.5L59.1 60.1L59.2 56.6L59.4 60.2L59.5 55.6L59.7 52.9L59.8 54.4L60.0 51.4L60.1 50.6L60.3 47.8L60.4 46.4L60.6 45.1L60.7 42.1L60.9 42.7L61.0 40.2L61.2 39.1L61.3 40.4L61.5 41.4L61.6 41.4L61.8 41.8L61.9 45.5L62.1 44.0L62.2 47.0L62.4 50.4L62.5 50.3L62.7 54.1L62.8 55.6L63.0 58.5L63.1 57.4L63.3 59.1L63.4 61.6L63.6 58.8L63.7 67.5L63.9 63.1L64.0 63.8L64.2 66.8L64.3 66.1L64.5 64.3L64.6 68.2L64.8 69.0L64.9 67.6L65.1 68.2L65.2 69.7L65.4 68.0L65.5 70.2L65.7 70.2L65.8 69.2L66.0 68.5L66.1 70.4L66.3 69.7L66.4 72.5L66.6 71.5L66.7 72.6L66.9 71.8L67.0 72.2L67.2 70.9L67.3 73.1L67.5 74.8L67.6 72.0L67.8 71.7L67.9 72.4L68.1 72.1L68.2 71.9L68.4 73.2L68.5 72.7L68.7 75.2L68.8 73.3L69.0 73.9L69.1 74.8L69.3 73.2L69.4 75.7L69.6 72.9L69.7 72.7L69.9 73.4L70.0 73.8L70.2 72.1L70.3 74.1L70.5 71.9L70.6 76.1L70.8 74.1L70.9 73.2L71.1 72.9L71.2 73.6L71.4 73.8L71.5 72.6L71.7 72.7L71.8 73.7L72.0 73.2L72.1 75.2L72.3 75.5L72.4 73.9L72.6 74.5L72.7 71.9L72.9 74.6L73.0 73.6L73.2 74.3L73.3 75.8L73.5 70.3L73.6 73.8L73.8 71.8L73.9 74.1L74.1 71.4L74.2 72.4L74.4 73.3L74.5 73.8L74.7 73.0L74.8 71.7L75.0 71.9L75.1 73.8L75.3 72.4L75.4 70.0L75.6 73.4L75.7 72.6L75.9 73.1L76.0 71.3L76.2 72.8L76.3 69.9L76.5 72.0L76.6 70.3L76.8 71.7L76.9 72.0L77.1 69.2L77.2 69.9L77.4 69.7L77.5 71.0L77.7 69.9L77.8 66.8L78.0 68.7L78.1 68.6L78.3 70.0L78.4 64.0L78.6 65.0L78.7 66.8L78.9 62.2L79.0 61.5L79.2 62.9L79.3 62.5L79.5 58.9L79.6 59.3L79.8 57.3L79.9 57.8L80.1 54.1L80.2 53.9L80.4 49.7L80.5 49.3L80.7 48.1L80.8 48.7L81.0 47.2L81.1 45.0L81.3 47.0L81.4 47.6L81.6 47.1L81.7 48.0L81.9 49.4L82.0 48.7L82.2 52.8L82.3 54.4L82.5 54.3L82.6 57.9L82.8 56.3L82.9 58.6L83.1 59.8L83.2 64.3L83.4 60.2L83.5 64.0L83.7 65.2L83.8 65.1L84.0 66.8L84.1 64.3L84.3 62.9L84.4 67.6L84.6 65.2L84.7 66.8L84.9 65.8L85.0 69.2L85.2 69.2L85.3 67.1L85.5 69.6L85.6 68.6L85.8 68.4L85.9 68.8L86.1 68.5L86.2 69.7L86.4 69.4L86.5 68.5L86.7 70.5L86.8 68.3L87.0 69.7L87.1 70.0L87.3 71.5L87.4 68.8L87.6 72.0L87.7 69.9L87.9 69.4L88.0 68.8L88.2 70.6L88.3 69.9L88.5 68.3L88.6 68.2L88.8 69.0L88.9 68.9L89.1 71.3L89.2 71.7L89.4 70.9L89.5 70.2L89.7 69.0L89.8 69.6L90.0 70.7L90.1 72.4L90.3 70.6L90.4 68.8L90.6 69.1L90.7 68.3L90.9 67.7L91.0 68.4L91.2 68.7L91.3 70.8L91.5 68.1L91.6 69.6L91.8 69.9L91.9 67.3L92.1 69.1L92.2 67.4L92.4 65.5L92.5 66.0L92.7 65.1L92.8 64.3L93.0 63.7L93.1 63.6L93.3 63.3L93.4 60.7L93.6 61.1L93.7 58.1L93.9 59.6L94.0 59.0L94.2 57.2L94.3 56.2L94.5 55.3L94.6 52.1L94.8 51.2L94.9 50.6L95.1 49.6L95.2 47.0L95.4 48.2L95.5 42.7L95.7 42.5L95.8 41.1L96.0 37.5L96.1 35.1L96.3 33.3L96.4 34.2L96.6 34.9L96.7 33.4L96.9 33.3L97.0 33.0L97.2 35.0L97.3 32.3L97.5 36.9L97.6 38.2L97.8 37.8L97.9 44.5L98.1 41.3L98.2 43.5L98.4 45.1L98.5 50.0L98.7 48.8L98.8 52.5L99.0 53.8L99.1 54.7L99.3 53.7L99.4 55.7L99.6 59.9L99.7 56.7L99.9 58.1L100.0 59.7L100.2 61.7L100.3 61.4L100.5 62.5L100.6 60.3L100.8 63.3L100.9 62.9L101.1 59.9L101.2 64.1L101.4 65.0L101.5 60.4L101.7 61.1L101.8 62.4L102.0 57.7L102.1 56.1L102.3 56.1L102.4 55.9L102.6 54.5L102.7 54.5L102.9 52.1L103.0 47.8L103.2 47.8L103.3 46.8L103.5 42.7L103.6 39.0L103.8 33.9L103.9 31.3L104.1 24.6L104.2 23.1L104.4 18.4L104.5 17.2L104.7 14.2L104.8 11.1L105.0 13.1L105.1 16.2L105.3 15.5L105.4 19.7L105.6 23.4L105.7 26.6L105.9 34.3L106.0 38.9L106.2 42.1L106.3 44.9L106.5 47.8L106.6 51.2L106.8 52.5L106.9 57.2L107.1 59.5L107.2 61.3L107.4 60.9L107.5 63.3L107.7 64.3L107.8 68.2L108.0 67.0L108.1 65.1L108.3 69.2L108.4 72.0L108.6 71.1L108.7 72.0L108.9 71.4L109.0 69.1L109.2 69.8L109.3 71.0L109.5 73.0L109.6 74.0L109.8 74.9L109.9 73.8L110.1 75.9L110.2 74.4L110.4 74.1L110.5 76.5L110.7 74.3L110.8 72.0L111.0 74.5L111.1 76.3L111.3 72.1L111.4 76.0L111.6 76.2L111.7 74.9L111.9 74.9L112.0 76.5L112.2 76.5L112.3 79.2L112.5 78.1L112.6 75.4L112.8 76.6L112.9 78.9L113.1 80.6L113.2 78.6L113.4 78.6L113.5 80.9L113.7 78.3L113.8 78.0L114.0 76.5L114.1 77.9L114.3 81.7L114.4 76.8L114.6 78.8L114.7 76.9L114.9 79.1L115.0 80.3L115.2 78.7L115.3 80.2L115.5 80.2L115.6 79.9L115.8 81.7L115.9 80.5L116.1 79.0L116.2 78.5L116.4 78.3L116.5 80.2L116.7 79.2L116.8 83.5L117.0 82.3L117.1 79.5L117.3 79.3L117.4 82.2L117.6 77.3L117.7 79.3L117.9 81.3L118.0 78.7L118.2 79.4L118.3 79.6L118.5 81.0L118.6 80.3L118.8 80.7L118.9 81.0L119.1 80.2L119.2 81.8L119.4 79.2L119.5 78.2L119.7 77.8L119.8 78.0L120.0 79.5L120.1 81.7L120.3 80.6L120.4 79.5L120.6 78.9L120.7 79.6L120.9 79.8L121.0 79.6L121.2 78.4L121.3 79.8L121.5 81.9L121.6 77.4L121.8 80.1L121.9 77.5L122.1 80.7L122.2 79.4L122.4 77.6L122.5 80.6L122.7 83.1L122.8 80.7L123.0 82.1L123.1 80.4L123.3 77.5L123.4 81.2L123.6 79.9L123.7 78.5L123.9 81.6L124.0 80.9L124.2 79.8L124.3 81.7L124.5 79.3L124.6 81.4L124.8 79.2L124.9 81.3L125.1 78.9L125.2 82.5L125.4 80.7L125.5 82.3L125.7 79.1L125.8 79.5L126.0 81.3L126.1 76.2L126.3 78.5L126.4 81.3L126.6 80.4L126.7 81.1L126.9 79.1L127.0 80.3L127.2 78.3L127.3 77.3L127.5 76.7L127.6 78.1L127.8 77.9L127.9 77.6L128.1 73.3L128.2 75.2L128.4 76.9L128.5 77.7L128.7 76.1L128.8 75.2L129.0 72.7L129.1 78.3L129.3 73.3L129.4 76.6L129.6 75.9L129.7 73.7L129.9 72.3L130.0 73.2L130.2 71.5L130.3 73.8L130.5 73.8L130.6 75.0L130.8 76.1L130.9 77.7L131.1 75.1L131.2 77.5L131.4 75.3L131.5 75.4L131.7 76.1L131.8 75.8L132.0 78.7L132.1 78.7L132.3 79.3L132.4 77.6L132.6 78.1L132.7 76.9L132.9 76.2L133.0 78.4L133.2 78.3L133.3 76.4L133.5 78.8L133.6 75.6L133.8 77.8L133.9 77.2L134.1 77.3L134.2 76.6L134.4 79.4L134.5 78.9L134.7 79.8L134.8 78.3L135.0 76.3L135.1 77.6L135.3 76.4L135.4 78.7L135.6 79.7L135.7 78.5L135.9 77.2L136.0 77.5L136.2 78.2L136.3 75.9L136.5 78.1L136.6 78.1L136.8 77.1L136.9 77.2L137.1 78.0L137.2 76.6L137.4 76.5L137.5 78.7L137.7 77.9L137.8 79.8L138.0 76.0L138.1 74.9L138.3 78.6L138.4 78.5L138.6 76.1L138.7 75.0L138.9 76.9L139.0 74.4L139.2 76.3L139.3 73.6L139.5 76.2L139.6 73.4L139.8 75.9L139.9 78.2L140.1 75.6L140.2 76.8L140.4 74.7L140.5 74.1L140.7 73.1L140.8 76.4L141.0 74.6L141.1 76.6L141.3 72.4L141.4 73.4L141.6 73.5L141.7 74.9L141.9 75.1L142.0 71.1L142.2 70.0L142.3 68.6L142.5 72.3L142.6 69.6L142.8 68.2L142.9 68.2L143.1 63.9L143.2 64.2L143.4 67.0L143.5 65.3L143.7 64.0L143.8 61.3L144.0 62.5L144.1 63.0L144.3 57.8L144.4 58.5L144.6 56.9L144.7 57.1L144.9 55.9L145.0 55.1L145.2 53.7L145.3 54.7L145.5 53.9L145.6 54.8L145.8 55.4L145.9 57.1L146.1 56.2L146.2 57.5L146.4 60.4L146.5 59.7L146.7 60.8L146.8 63.5L147.0 63.7L147.1 64.5L147.3 65.7L147.4 64.7L147.6 68.0L147.7 70.0L147.9 69.8L148.0 67.6L148.2 70.8L148.3 69.8L148.5 71.4L148.6 72.5L148.8 71.1L148.9 75.1L149.1 73.6L149.2 75.2L149.4 75.4L149.5 76.7L149.7 76.9L149.8 73.4L150.0 75.8L150.1 73.0L150.3 75.6L150.4 77.5L150.6 78.0L150.7 78.7L150.9 76.6L151.0 77.7L151.2 77.6L151.3 79.3L151.5 79.9L151.6 77.3L151.8 83.3L151.9 78.1L152.1 77.7L152.2 79.1L152.4 79.5L152.5 79.3L152.7 77.7L152.8 80.7L153.0 78.8L153.1 81.0L153.3 80.9L153.4 77.2L153.6 77.7L153.7 77.7L153.9 79.5L154.0 79.3L154.2 79.7L154.3 78.2L154.5 80.0L154.6 81.4L154.8 77.6L154.9 79.3L155.1 79.9L155.2 79.4L155.4 79.3L155.5 82.1L155.7 81.5L155.8 80.9L156.0 78.6L156.1 82.8L156.3 80.2L156.4 78.9L156.6 79.2L156.7 79.0L156.9 82.7L157.0 80.0L157.2 79.8L157.3 76.7L157.5 80.8L157.6 78.2L157.8 78.1L157.9 80.6L158.1 78.5L158.2 80.9L158.4 81.3L158.5 77.2L158.7 79.5L158.8 77.5L159.0 79.6L159.1 80.9L159.3 77.7L159.4 82.2L159.6 79.2L159.7 77.9L159.9 79.4L160.0 80.7L160.2 77.6L160.3 79.4L160.5 77.4L160.6 80.9L160.8 79.4L160.9 78.5L161.1 80.5L161.2 77.1L161.4 78.3L161.5 81.4L161.7 78.5L161.8 80.5L162.0 78.8L162.1 77.5L162.3 78.0L162.4 78.4L162.6 77.6L162.7 76.9L162.9 76.9L163.0 75.8L163.2 77.9L163.3 78.2L163.5 78.6L163.6 74.9L163.8 78.5L163.9 77.2L164.1 75.1L164.2 77.1L164.4 78.0L164.5 77.5L164.7 77.6L164.8 77.8L165.0 77.6L165.1 76.1L165.3 73.1L165.4 74.8L165.6 76.2L165.7 74.8L165.9 76.3L166.0 76.2L166.2 75.0L166.3 77.3L166.5 73.1L166.6 75.6L166.8 73.5L166.9 72.9L167.1 74.6L167.2 72.7L167.4 74.6L167.5 71.5L167.7 72.9L167.8 71.3L168.0 71.8L168.1 71.3L168.3 69.8L168.4 71.8L168.6 68.6L168.7 68.5L168.9 70.5L169.0 69.9L169.2 68.7L169.3 67.5L169.5 69.4L169.6 63.6L169.8 63.3L169.9 61.9L170.1 63.5L170.2 61.6L170.4 61.7L170.5 60.4L170.7 57.8L170.8 56.2L171.0 55.2L171.1 59.3L171.3 57.3L171.4 56.7L171.6 55.7L171.7 56.3L171.9 56.8L172.0 57.7L172.2 55.8L172.3 60.1L172.5 60.8L172.6 62.8L172.8 63.9L172.9 65.8L173.1 65.7L173.2 67.8L173.4 64.1L173.5 67.0L173.7 71.7L173.8 68.4L174.0 70.4L174.1 72.4L174.3 70.8L174.4 73.6L174.6 71.1L174.7 70.9L174.9 72.1L175.0 72.0L175.2 74.7L175.3 74.6L175.5 75.8L175.6 74.2L175.8 79.4L175.9 76.0L176.1 76.3L176.2 77.2L176.4 76.4L176.5 76.1L176.7 77.2L176.8 78.6L177.0 78.4L177.1 78.9L177.3 76.9L177.4 76.7L177.6 80.8L177.7 77.7L177.9 78.8L178.0 79.3L178.2 80.3L178.3 76.6L178.5 77.9L178.6 78.0L178.8 78.3L178.9 75.4L179.1 78.7L179.2 74.8L179.4 79.4L179.5 79.7L179.7 79.8L179.8 77.2L180.0 80.2L180.1 77.6L180.3 77.1L180.4 77.4L180.6 77.5L180.7 78.9L180.9 79.8L181.0 75.6L181.2 77.7L181.3 79.6L181.5 78.6L181.6 78.9L181.8 76.0L181.9 79.3L182.1 75.7L182.2 78.0L182.4 79.5L182.5 80.0L182.7 77.9L182.8 78.2L183.0 75.9L183.1 75.8L183.3 77.8L183.4 75.8L183.6 75.2L183.7 73.0L183.9 74.7L184.0 74.8L184.2 72.2L184.3 72.1L184.5 74.4L184.6 71.9L184.8 70.8L184.9 69.3L185.1 69.8L185.2 70.3L185.4 72.8L185.5 70.3L185.7 74.0L185.8 70.6L186.0 71.8L186.1 73.8L186.3 72.6L186.4 72.1L186.6 73.3L186.7 74.3L186.9 71.3L187.0 73.4L187.2 73.6L187.3 73.1L187.5 74.6L187.6 72.7L187.8 72.9L187.9 73.2L188.1 74.0L188.2 72.3L188.4 74.4L188.5 70.6L188.7 73.3L188.8 69.8L189.0 70.3L189.1 70.6L189.3 72.5L189.4 70.5L189.6 68.4L189.7 70.6L189.9 68.5L190.0 67.8L190.2 69.9L190.3 69.8L190.5 71.5L190.6 70.0L190.8 71.9L190.9 72.9L191.1 73.0L191.2 73.2L191.4 72.8L191.5 75.5L191.7 74.9L191.8 75.9L192.0 75.1L192.1 76.0L192.3 74.8L192.4 76.7L192.6 77.9L192.7 77.2L192.9 78.5L193.0 78.0L193.2 79.7L193.3 77.7L193.5 75.8L193.6 78.8L193.8 78.2L193.9 77.1L194.1 79.5L194.2 79.1L194.4 79.5L194.5 78.5L194.7 79.3L194.8 79.5L195.0 81.7L195.1 78.4L195.3 79.4L195.4 80.0L195.6 77.1L195.7 77.4L195.9 82.7L196.0 77.3L196.2 80.6L196.3 78.7L196.5 78.9L196.6 77.2L196.8 78.8L196.9 81.2L197.1 78.2L197.2 81.1L197.4 80.7L197.5 83.2L197.7 79.7L197.8 82.2L198.0 81.7L198.1 80.2L198.3 78.4L198.4 82.9L198.6 79.0L198.7 80.4L198.9 82.4L199.0 82.8L199.2 80.1L199.3 81.4L199.5 81.2L199.6 83.3L199.8 85.2L199.9 79.3L200.1 83.2L200.2 78.0L200.4 82.2L200.5 80.7L200.7 85.1L200.8 82.7L201.0 81.5L201.1 81.9L201.3 81.9L201.4 83.1L201.6 82.7L201.7 83.9L201.9 85.3L202.0 84.2L202.2 81.6L202.3 81.1L202.5 82.4L202.6 85.0L202.8 83.2L202.9 82.8L203.1 84.0L203.2 82.0L203.4 82.4L203.5 84.8L203.7 83.8L203.8 83.7L204.0 84.8L204.1 83.7L204.3 83.6L204.4 84.0L204.6 85.6L204.7 84.9L204.9 83.3L205.0 84.6L205.2 86.0L205.3 87.8L205.5 83.7L205.6 85.8L205.8 85.1L205.9 86.7L206.1 86.2L206.2 87.8L206.4 86.5L206.5 85.1L206.7 85.2L206.8 86.6L207.0 86.5L207.1 89.3L207.3 88.2L207.4 84.2L207.6 86.3L207.7 83.9L207.9 83.4L208.0 86.7L208.2 86.4L208.3 84.1L208.5 87.8L208.6 84.0L208.8 83.7L208.9 86.2L209.1 85.5L209.2 84.9L209.4 84.9L209.5 85.3L209.7 84.7L209.8 84.5L210.0 82.0L210.1 82.6L210.3 85.2L210.4 83.2L210.6 84.8L210.7 85.5L210.9 83.1L211.0 83.8L211.2 86.0L211.3 83.8L211.5 85.0L211.6 84.3L211.8 82.8L211.9 81.2L212.1 79.7L212.2 78.9L212.4 80.7L212.5 80.3L212.7 79.1L212.8 80.4L213.0 78.3L213.1 80.7L213.3 79.3L213.4 79.5L213.6 79.9L213.7 80.1L213.9 84.1L214.0 78.7L214.2 81.6L214.3 83.4L214.5 83.0L214.6 81.8L214.8 84.9L214.9 81.2L215.1 81.1L215.2 83.9L215.4 81.2L215.5 80.0L215.7 84.7L215.8 84.6L216.0 84.7L216.1 83.0L216.3 84.0L216.4 82.5L216.6 86.3L216.7 85.0L216.9 85.0L217.0 81.2L217.2 85.1L217.3 86.1L217.5 85.7L217.6 85.1L217.8 84.0L217.9 83.5L218.1 84.9L218.2 84.6L218.4 84.3L218.5 83.6L218.7 86.4L218.8 82.4L219.0 84.0L219.1 83.2L219.3 85.5L219.4 86.1L219.6 85.8L219.7 85.1L219.9 82.1L220.0 87.0L220.2 84.8L220.3 84.0L220.5 84.1L220.6 83.6L220.8 84.7L220.9 84.5L221.1 83.6L221.2 80.5L221.4 84.1L221.5 84.8L221.7 84.9L221.8 83.9L222.0 84.7L222.1 85.5L222.3 83.4L222.4 86.2L222.6 81.4L222.7 82.3L222.9 82.8L223.0 80.7L223.2 82.7L223.3 85.8L223.5 85.8L223.6 84.2L223.8 86.4L223.9 84.3L224.1 83.3L224.2 84.3L224.4 83.8L224.5 85.0L224.7 81.9L224.8 85.4L225.0 83.4L225.1 85.2L225.3 81.8L225.4 83.4L225.6 84.0L225.7 85.2L225.9 82.1L226.0 86.1L226.2 84.4L226.3 82.9L226.5 85.3L226.6 83.6L226.8 85.0L226.9 86.5L227.1 84.2L227.2 82.3L227.4 82.3L227.5 83.5L227.7 83.0L227.8 81.3L228.0 81.4L228.1 83.2L228.3 85.6L228.4 78.7L228.6 83.5L228.7 82.3L228.9 83.8L229.0 84.2L229.2 83.2L229.3 81.9L229.5 81.6L229.6 81.1L229.8 85.6L229.9 83.7L230.1 83.4L230.2 83.9L230.4 82.5L230.5 84.9L230.7 86.4L230.8 86.3L231.0 82.6L231.1 86.7L231.3 83.8L231.4 82.3L231.6 83.3L231.7 83.7L231.9 85.1L232.0 83.7L232.2 83.1L232.3 84.9L232.5 88.0L232.6 84.4L232.8 86.0L232.9 85.5L233.1 89.2L233.2 82.8L233.4 87.1L233.5 83.8L233.7 84.8L233.8 85.5L234.0 90.1L234.1 84.6L234.3 83.1L234.4 87.6L234.6 84.6L234.7 85.5L234.9 85.8L235.0 86.0L235.2 85.7L235.3 86.3L235.5 86.5L235.6 87.2L235.8 85.4L235.9 85.0L236.1 84.6L236.2 86.9L236.4 86.0L236.5 86.9L236.7 86.9L236.8 88.5L237.0 86.5L237.1 87.3L237.3 84.6L237.4 84.8L237.6 85.9L237.7 84.6L237.9 87.3L238.0 84.5L238.2 86.5L238.3 83.0L238.5 84.9L238.6 86.0L238.8 86.1L238.9 84.0L239.1 86.7L239.2 87.9L239.4 87.5L239.5 85.7L239.7 85.7L239.8 84.8L240.0 87.3L240.1 88.4L240.3 85.5L240.4 83.8L240.6 86.4L240.7 87.0L240.9 82.2L241.0 86.1L241.2 88.9L241.3 86.9L241.5 86.5L241.6 86.2L241.8 87.0L241.9 84.2L242.1 84.2L242.2 85.9L242.4 84.3L242.5 85.5L242.7 82.4L242.8 86.1L243.0 86.2L243.1 85.0L243.3 85.1L243.4 87.0L243.6 83.2L243.7 83.3L243.9 83.0L244.0 83.9L244.2 83.0L244.3 84.4L244.5 83.3L244.6 82.1L244.8 81.9L244.9 85.7L245.1 83.8L245.2 83.6L245.4 83.8L245.5 83.6L245.7 84.7L245.8 84.4L246.0 82.7L246.1 82.3L246.3 81.8L246.4 81.5L246.6 85.2L246.7 81.8L246.9 80.2L247.0 81.8L247.2 81.8L247.3 83.3L247.5 81.5L247.6 83.4L247.8 83.1L247.9 84.3L248.1 85.5L248.2 86.4L248.4 84.2L248.5 80.7L248.7 81.7L248.8 82.6L249.0 85.2L249.1 83.2L249.3 84.0L249.4 82.0L249.6 83.1L249.7 83.3L249.9 81.6L250.0 83.3L250.2 83.7L250.3 82.0L250.5 83.7L250.6 84.5L250.8 82.3L250.9 82.2L251.1 81.8L251.2 81.3L251.4 82.4L251.5 81.6L251.7 81.7L251.8 81.1L252.0 80.0L252.1 80.8L252.3 82.6L252.4 80.4L252.6 81.2L252.7 84.4L252.9 83.6L253.0 81.1L253.2 82.9L253.3 81.1L253.5 84.3L253.6 81.1L253.8 82.0L253.9 83.8L254.1 80.7L254.2 83.7L254.4 80.7L254.5 82.1L254.7 81.3L254.8 81.6L255.0 81.9L255.1 81.5L255.3 80.1L255.4 82.7L255.6 82.4L255.7 83.2L255.9 83.2L256.0 79.3L256.2 82.9L256.3 82.9L256.5 80.2L256.6 82.3L256.8 82.8L256.9 79.8L257.1 78.5L257.2 79.7L257.4 84.0L257.5 80.2L257.7 77.9L257.8 79.1L258.0 77.8L258.1 78.3L258.3 78.7L258.4 74.7L258.6 78.5L258.7 79.6L258.9 77.0L259.0 76.4L259.2 78.1L259.3 74.5L259.5 74.3L259.6 73.9L259.8 75.5L259.9 76.2L260.1 75.5L260.2 76.5L260.4 77.0L260.5 76.8L260.7 75.3L260.8 76.3L261.0 78.8L261.1 75.9L261.3 77.4L261.4 77.5L261.6 78.1L261.7 77.2L261.9 77.1L262.0 82.8L262.2 80.8L262.3 78.7L262.5 79.9L262.6 81.1L262.8 79.8L262.9 81.3L263.1 79.8L263.2 80.3L263.4 80.8L263.5 80.4L263.7 77.7L263.8 81.2L264.0 81.6L264.1 82.0L264.3 80.0L264.4 82.0L264.6 81.8L264.7 79.1L264.9 78.5L265.0 82.3L265.2 80.3L265.3 83.0L265.5 84.6L265.6 80.8L265.8 80.7L265.9 81.7L266.1 82.6L266.2 80.1L266.4 83.4L266.5 83.0L266.7 82.6L266.8 80.9L267.0 82.9L267.1 82.8L267.3 79.9L267.4 84.5L267.6 81.1L267.7 82.0L267.9 80.8L268.0 82.0L268.2 83.0L268.3 80.3L268.5 79.0L268.6 80.7L268.8 79.4L268.9 80.1L269.1 80.9L269.2 80.9L269.4 82.8L269.5 79.5L269.7 81.3L269.8 80.0L270.0 82.6L270.1 84.2L270.3 81.1L270.4 83.1L270.6 80.0L270.7 78.5L270.9 79.1L271.0 78.7L271.2 79.6L271.3 80.6L271.5 82.6L271.6 82.0L271.8 81.7L271.9 80.5L272.1 80.1L272.2 81.1L272.4 81.3L272.5 81.4L272.7 81.6L272.8 80.9L273.0 78.4L273.1 79.5L273.3 79.9L273.4 83.4L273.6 80.4L273.7 82.0L273.9 83.1L274.0 81.5L274.2 80.6L274.3 80.8L274.5 79.9L274.6 81.9L274.8 83.1L274.9 82.5L275.1 82.8L275.2 82.9L275.4 84.8L275.5 81.2L275.7 82.4L275.8 83.3L276.0 84.1L276.1 79.1L276.3 81.9L276.4 82.4L276.6 81.4L276.7 84.1L276.9 83.3L277.0 82.5L277.2 80.9L277.3 81.4L277.5 82.0L277.6 84.1L277.8 81.9L277.9 80.8L278.1 81.8L278.2 83.1L278.4 86.3L278.5 87.6L278.7 83.5L278.8 85.6L279.0 86.4L279.1 86.2L279.3 84.3L279.4 82.6L279.6 83.8L279.7 81.9L279.9 84.8L280.0 85.6L280.2 81.8L280.3 84.4L280.5 84.9L280.6 86.3L280.8 86.5L280.9 85.7L281.1 83.6L281.2 84.1L281.4 86.3L281.5 83.8L281.7 84.6L281.8 86.8L282.0 84.8L282.1 82.7L282.3 84.2L282.4 85.6L282.6 84.4L282.7 86.3L282.9 86.5L283.0 83.8L283.2 84.0L283.3 84.6L283.5 83.1L283.6 85.3L283.8 84.5L283.9 85.9L284.1 83.9L284.2 83.6L284.4 87.4L284.5 83.6L284.7 84.0L284.8 83.8L285.0 84.4L285.1 83.6L285.3 84.8L285.4 83.9L285.6 84.3L285.7 85.4L285.9 85.9L286.0 85.6L286.2 83.9L286.3 85.5L286.5 84.8L286.6 84.8L286.8 82.6L286.9 85.9L287.1 84.8L287.2 87.4L287.4 85.9L287.5 83.5L287.7 83.2L287.8 86.7L288.0 83.9L288.1 86.1L288.3 84.7L288.4 88.1L288.6 85.3L288.7 87.3L288.9 87.1L289.0 84.6L289.2 84.8L289.3 87.4L289.5 85.3L289.6 84.1L289.8 87.0L289.9 89.0L290.1 85.3L290.2 87.4L290.4 85.2L290.5 87.4L290.7 85.1L290.8 87.4L291.0 86.3L291.1 85.3L291.3 85.9L291.4 84.8L291.6 84.0L291.7 84.1L291.9 85.6L292.0 84.2L292.2 86.3L292.3 86.5L292.5 86.4L292.6 85.1L292.8 85.8L292.9 85.8L293.1 87.7L293.2 84.7L293.4 85.3L293.5 85.5L293.7 85.7L293.8 84.9L294.0 85.0L294.1 87.4L294.3 85.1L294.4 87.3L294.6 88.8" fill="none" stroke="#000" stroke-width="1.20" stroke-linejoin="round"/>
<path d="M430.8 206.4L431.0 206.2L431.2 206.2L431.4 206.0L431.6 206.3L431.8 206.5L432.0 206.4L432.2 206.5L432.4 206.5L432.6 206.3L432.8 206.7L433.0 206.3L433.2 206.5L433.4 206.8L433.6 206.4L433.8 206.5L434.0 206.4L434.2 206.5L434.4 206.2L434.6 206.4L434.8 206.7L435.0 206.6L435.2 206.5L435.4 206.6L435.6 206.6L435.8 206.6L436.0 206.6L436.2 206.4L436.4 206.7L436.6 206.5L436.8 206.7L437.0 206.6L437.2 206.5L437.4 206.6L437.6 206.5L437.8 206.8L438.0 206.7L438.2 206.8L438.4 206.5L438.6 206.9L438.8 206.7L439.0 206.9L439.2 206.8L439.4 206.6L439.6 206.8L439.8 206.7L440.0 206.8L440.2 206.9L440.4 206.9L440.6 206.9L440.8 206.6L441.0 206.8L441.2 206.8L441.4 206.9L441.6 206.7L441.8 206.9L442.0 206.9L442.2 206.7L442.4 206.7L442.6 206.9L442.8 206.7L443.0 206.7L443.2 207.0L443.4 206.9L443.6 206.9L443.8 206.9L444.0 206.9L444.2 206.9L444.4 206.9L444.6 207.0L444.8 207.1L445.0 206.9L445.2 207.0L445.4 207.0L445.6 206.8L445.8 207.0L446.0 207.1L446.2 206.9L446.4 207.1L446.6 207.0L446.8 207.2L447.0 207.2L447.2 207.0L447.4 206.8L447.6 207.0L447.8 206.9L448.0 206.9L448.2 207.1L448.4 207.3L448.6 207.1L448.8 207.1L449.0 206.9L449.2 207.1L449.4 207.0L449.6 207.2L449.8 207.1L450.0 207.2L450.2 207.2L450.4 207.2L450.6 207.3L450.8 207.3L451.0 207.2L451.2 207.3L451.4 207.3L451.6 207.4L451.8 207.3L452.0 207.4L452.2 207.2L452.4 207.3L452.6 207.1L452.8 207.4L453.0 207.2L453.2 207.2L453.4 207.4L453.6 207.3L453.8 207.2L454.0 207.5L454.2 207.3L454.4 207.5L454.6 207.3L454.8 207.4L455.0 207.5L455.2 207.4L455.4 207.6L455.6 207.3L455.8 207.3L456.0 207.3L456.2 207.4L456.4 207.3L456.6 207.2L456.8 207.2L457.0 207.3L457.2 207.0L457.4 206.6L457.6 206.1L457.8 205.0L458.0 203.0L458.2 200.7L458.4 198.7L458.6 198.9L458.8 200.8L459.0 203.2L459.2 205.0L459.4 206.3L459.6 206.7L459.8 207.2L460.0 207.0L460.2 207.3L460.4 207.5L460.6 207.5L460.8 207.2L461.0 207.5L461.2 207.4L461.4 207.4L461.6 207.5L461.8 207.5L462.0 207.6L462.2 207.3L462.4 207.4L462.6 207.3L462.8 207.0L463.0 207.0L463.2 206.5L463.4 205.2L463.6 204.2L463.8 203.1L464.0 203.1L464.2 203.8L464.4 205.0L464.6 205.5L464.8 205.8L465.0 205.0L465.2 203.3L465.4 199.6L465.6 195.8L465.8 192.5L466.0 192.7L466.2 196.0L466.4 199.9L466.6 203.1L466.8 205.1L467.0 206.4L467.2 207.0L467.4 207.2L467.6 207.2L467.8 207.2L468.0 207.3L468.2 207.3L468.4 207.3L468.6 207.6L468.8 207.5L469.0 207.6L469.2 207.5L469.4 207.7L469.6 207.8L469.8 207.5L470.0 207.6L470.2 207.5L470.4 207.8L470.6 207.7L470.8 207.6L471.0 207.9L471.2 207.6L471.4 207.4L471.6 207.3L471.8 207.5L472.0 207.5L472.2 207.4L472.4 207.4L472.6 207.5L472.8 207.3L473.0 207.3L473.2 207.3L473.4 207.0L473.6 206.7L473.8 206.5L474.0 206.1L474.2 205.3L474.4 202.9L474.6 198.9L474.8 192.9L475.0 185.2L475.2 178.9L475.4 178.9L475.6 184.7L475.8 191.8L476.0 196.6L476.2 198.3L476.4 197.3L476.6 195.0L476.8 194.2L477.0 195.8L477.2 199.1L477.4 202.5L477.6 204.7L477.8 206.0L478.0 206.7L478.2 206.9L478.4 207.1L478.6 207.2L478.8 207.2L479.0 207.4L479.2 207.6L479.4 207.6L479.6 207.4L479.8 207.9L480.0 207.5L480.2 207.7L480.4 207.8L480.6 207.8L480.8 207.6L481.0 207.7L481.2 207.7L481.4 207.9L481.6 207.8L481.8 207.8L482.0 207.8L482.2 208.0L482.4 207.9L482.6 207.9L482.8 207.7L483.0 207.9L483.2 207.7L483.4 207.9L483.6 207.8L483.8 207.7L484.0 207.7L484.2 207.8L484.4 207.8L484.6 207.8L484.8 207.8L485.0 207.8L485.2 207.8L485.4 207.8L485.6 207.9L485.8 208.0L486.0 207.9L486.2 207.8L486.4 208.0L486.6 208.0L486.8 207.8L487.0 208.0L487.2 207.8L487.4 207.8L487.6 207.8L487.8 208.1L488.0 207.9L488.2 207.9L488.4 207.9L488.6 207.8L488.8 207.9L489.0 207.9L489.2 208.0L489.4 207.6L489.6 207.8L489.8 207.6L490.0 207.2L490.2 207.1L490.4 206.3L490.6 204.6L490.8 201.8L491.0 198.5L491.2 195.7L491.4 196.0L491.6 198.6L491.8 201.7L492.0 204.5L492.2 206.1L492.4 207.3L492.6 207.3L492.8 207.5L493.0 207.5L493.2 207.8L493.4 207.9L493.6 207.9L493.8 207.9L494.0 208.1L494.2 208.0L494.4 208.1L494.6 207.9L494.8 207.7L495.0 207.9L495.2 207.7L495.4 207.9L495.6 207.7L495.8 207.6L496.0 207.5L496.2 207.1L496.4 207.0L496.6 206.8L496.8 206.0L497.0 204.7L497.2 201.9L497.4 196.4L497.6 187.7L497.8 176.9L498.0 168.3L498.2 168.3L498.4 176.9L498.6 187.6L498.8 196.3L499.0 202.2L499.2 204.9L499.4 206.1L499.6 206.9L499.8 207.3L500.0 207.5L500.2 207.5L500.4 207.5L500.6 207.7L500.8 207.9L501.0 208.1L501.2 208.2L501.4 208.0L501.6 208.0L501.8 208.2L502.0 208.3L502.2 207.9L502.4 208.1L502.6 208.0L502.8 207.9L503.0 207.8L503.2 207.7L503.4 207.6L503.6 207.2L503.8 207.0L504.0 206.4L504.2 205.0L504.4 202.0L504.6 196.2L504.8 186.9L505.0 175.7L505.2 166.4L505.4 166.4L505.6 175.7L505.8 187.0L506.0 196.1L506.2 202.0L506.4 205.1L506.6 206.5L506.8 207.2L507.0 207.8L507.2 208.0L507.4 208.2L507.6 208.1L507.8 208.4L508.0 208.4L508.2 208.5L508.4 208.0L508.6 207.7L508.8 207.1L509.0 205.3L509.2 202.9L509.4 199.8L509.6 197.4L509.8 197.3L510.0 199.8L510.2 202.7L510.4 205.5L510.6 206.8L510.8 207.7L511.0 208.0L511.2 208.2L511.4 208.2L511.6 208.3L511.8 208.2L512.0 208.2L512.2 208.0L512.4 207.9L512.6 207.8L512.8 207.6L513.0 207.4L513.2 207.1L513.4 206.8L513.6 205.8L513.8 203.6L514.0 199.5L514.2 192.0L514.4 181.6L514.6 170.0L514.8 165.0L515.0 170.0L515.2 181.4L515.4 191.9L515.6 199.4L515.8 203.6L516.0 205.7L516.2 206.2L516.4 207.0L516.6 207.4L516.8 207.5L517.0 207.8L517.2 208.0L517.4 207.8L517.6 208.0L517.8 208.2L518.0 208.4L518.2 208.3L518.4 208.3L518.6 208.1L518.8 208.3L519.0 208.3L519.2 208.2L519.4 208.3L519.6 208.3L519.8 208.3L520.0 208.6L520.2 208.3L520.4 208.6L520.6 208.3L520.8 208.3L521.0 208.2L521.2 208.3L521.4 208.5L521.6 208.3L521.8 208.0L522.0 208.2L522.2 207.6L522.4 207.2L522.6 206.6L522.8 205.9L523.0 206.3L523.2 206.7L523.4 207.2L523.6 207.8L523.8 208.0L524.0 208.2L524.2 208.3L524.4 208.2L524.6 208.3L524.8 208.3L525.0 208.6L525.2 208.2L525.4 208.5L525.6 208.4L525.8 208.3L526.0 208.2L526.2 208.5L526.4 208.4L526.6 208.1L526.8 208.0L527.0 207.9L527.2 207.7L527.4 206.7L527.6 205.4L527.8 203.0L528.0 199.2L528.2 195.6L528.4 194.0L528.6 195.6L528.8 199.3L529.0 202.7L529.2 205.5L529.4 206.7L529.6 207.5L529.8 207.9L530.0 207.9L530.2 208.2L530.4 208.3L530.6 208.3L530.8 208.4L531.0 208.3L531.2 208.1L531.4 208.5L531.6 208.5L531.8 208.3L532.0 208.3L532.2 208.5L532.4 208.4L532.6 208.4L532.8 208.4L533.0 208.7L533.2 208.3L533.4 208.1L533.6 208.4L533.8 208.3L534.0 208.2L534.2 208.4L534.4 208.3L534.6 208.5L534.8 208.3L535.0 208.5L535.2 208.4L535.4 208.2L535.6 208.3L535.8 208.3L536.0 208.0L536.2 207.4L536.4 206.8L536.6 205.5L536.8 203.4L537.0 200.5L537.2 198.5L537.4 198.3L537.6 200.5L537.8 203.2L538.0 205.4L538.2 206.7L538.4 207.3L538.6 207.2L538.8 206.9L539.0 206.4L539.2 205.8L539.4 205.4L539.6 205.9L539.8 206.6L540.0 207.5L540.2 207.6L540.4 208.3L540.6 207.9L540.8 208.1L541.0 208.3L541.2 208.2L541.4 208.2L541.6 208.1L541.8 207.7L542.0 207.3L542.2 207.0L542.4 206.7L542.6 206.7L542.8 207.1L543.0 207.5L543.2 208.1L543.4 207.9L543.6 208.3L543.8 208.5L544.0 208.6L544.2 208.6L544.4 208.6L544.6 208.6L544.8 208.5L545.0 208.2L545.2 208.4L545.4 208.5L545.6 208.7L545.8 208.4L546.0 208.5L546.2 208.6L546.4 208.4L546.6 208.5L546.8 208.6L547.0 208.5L547.2 208.5L547.4 208.3L547.6 208.4L547.8 208.5L548.0 208.6L548.2 208.4L548.4 208.4L548.6 208.4L548.8 208.6L549.0 208.3L549.2 208.5L549.4 208.5L549.6 208.5L549.8 208.4L550.0 208.5L550.2 208.6L550.4 208.4L550.6 208.4L550.8 208.2L551.0 208.5L551.2 208.4L551.4 208.5L551.6 208.4L551.8 208.3L552.0 208.3L552.2 208.2L552.4 208.6L552.6 208.4L552.8 208.4L553.0 208.3L553.2 208.3L553.4 208.1L553.6 208.0L553.8 207.8L554.0 206.6L554.2 205.4L554.4 202.8L554.6 199.3L554.8 195.3L555.0 193.8L555.2 195.7L555.4 199.1L555.6 202.9L555.8 205.2L556.0 206.6L556.2 207.1L556.4 207.5L556.6 207.5L556.8 207.8L557.0 207.5L557.2 207.7L557.4 207.4L557.6 207.1L557.8 206.5L558.0 204.6L558.2 201.6L558.4 197.5L558.6 193.2L558.8 190.9L559.0 193.0L559.2 196.7L559.4 200.0L559.6 201.1L559.8 200.1L560.0 197.6L560.2 195.4L560.4 195.5L560.6 198.2L560.8 201.8L561.0 204.3L561.2 206.5L561.4 207.4L561.6 207.7L561.8 208.0L562.0 208.0L562.2 208.4L562.4 208.3L562.6 208.3L562.8 208.6L563.0 208.3L563.2 208.5L563.4 208.4L563.6 208.5L563.8 208.5L564.0 208.5L564.2 208.8L564.4 208.7L564.6 208.5L564.8 208.9L565.0 208.6L565.2 208.6L565.4 208.7L565.6 208.5L565.8 208.8L566.0 208.6L566.2 208.5L566.4 208.8L566.6 208.6L566.8 208.6L567.0 208.5L567.2 208.6L567.4 208.7L567.6 208.4L567.8 208.7L568.0 208.6L568.2 208.8L568.4 208.9L568.6 208.7L568.8 208.7L569.0 208.8L569.2 208.8L569.4 208.5L569.6 208.5L569.8 208.6L570.0 208.5L570.2 208.6L570.4 208.6L570.6 208.5L570.8 208.7L571.0 208.8L571.2 208.6L571.4 208.6L571.6 208.5L571.8 208.5L572.0 208.3L572.2 208.2L572.4 208.3L572.6 208.3L572.8 208.0L573.0 207.7L573.2 206.8L573.4 205.6L573.6 203.1L573.8 198.9L574.0 193.8L574.2 189.6L574.4 189.6L574.6 193.7L574.8 199.1L575.0 203.0L575.2 205.4L575.4 206.9L575.6 207.5L575.8 208.0L576.0 208.0L576.2 207.8L576.4 207.5L576.6 207.1L576.8 206.5L577.0 205.8L577.2 206.1L577.4 206.5L577.6 207.3L577.8 207.8L578.0 208.2L578.2 208.3L578.4 208.5L578.6 208.6L578.8 208.5L579.0 208.7L579.2 208.3L579.4 208.4L579.6 208.3L579.8 208.1L580.0 208.2L580.2 208.1L580.4 207.3L580.6 206.2L580.8 203.9L581.0 201.8L581.2 199.8L581.4 199.9L581.6 201.8L581.8 204.0L582.0 206.0L582.2 206.9L582.4 207.6L582.6 207.6L582.8 207.7L583.0 207.4L583.2 206.6L583.4 205.5L583.6 203.0L583.8 199.1L584.0 193.5L584.2 189.7L584.4 189.8L584.6 194.0L584.8 199.1L585.0 203.1L585.2 205.9L585.4 207.1L585.6 207.7L585.8 208.0L586.0 208.2L586.2 208.5L586.4 208.3L586.6 208.3L586.8 208.7L587.0 208.7L587.2 208.8L587.4 208.7L587.6 208.8L587.8 208.7L588.0 208.7L588.2 208.7L588.4 208.8L588.6 208.8L588.8 208.7L589.0 209.0L589.2 208.9L589.4 208.8L589.6 208.7L589.8 208.8L590.0 208.6L590.2 208.7L590.4 208.7L590.6 208.7L590.8 208.8L591.0 208.4L591.2 208.8L591.4 208.5L591.6 208.0L591.8 207.1L592.0 206.0L592.2 204.2L592.4 203.2L592.6 203.0L592.8 204.2L593.0 205.7L593.2 207.2L593.4 208.2L593.6 208.3L593.8 208.8L594.0 208.9L594.2 208.8L594.4 209.0L594.6 208.6L594.8 208.5L595.0 208.6L595.2 208.4L595.4 207.8L595.6 206.7L595.8 205.1L596.0 203.8L596.2 202.9L596.4 203.6L596.6 204.5L596.8 204.9L597.0 204.6L597.2 202.7L597.4 199.9L597.6 197.4L597.8 197.4L598.0 200.0L598.2 202.9L598.4 205.3L598.6 206.8L598.8 207.4L599.0 207.1L599.2 206.1L599.4 204.4L599.6 201.3L599.8 198.5L600.0 197.2L600.2 198.4L600.4 201.5L600.6 204.6L600.8 206.5L601.0 207.5L601.2 208.4L601.4 208.5L601.6 208.6L601.8 208.9L602.0 208.6L602.2 208.7L602.4 208.7L602.6 209.0L602.8 208.7L603.0 209.1L603.2 208.9L603.4 208.9L603.6 209.0L603.8 208.8L604.0 208.7L604.2 208.8L604.4 208.8L604.6 208.6L604.8 208.7L605.0 208.4L605.2 208.1L605.4 207.3L605.6 206.3L605.8 204.9L606.0 203.7L606.2 203.4L606.4 204.6L606.6 206.3L606.8 207.5L607.0 208.2L607.2 208.4L607.4 208.7L607.6 208.8L607.8 209.0L608.0 209.0L608.2 208.9L608.4 208.9L608.6 209.1L608.8 208.9L609.0 209.0L609.2 209.0L609.4 209.0L609.6 208.9L609.8 208.5L610.0 208.2L610.2 207.8L610.4 206.9L610.6 207.0L610.8 207.2L611.0 207.8L611.2 208.3L611.4 208.6L611.6 208.6L611.8 208.9L612.0 208.9L612.2 208.9L612.4 209.0L612.6 208.9L612.8 209.0L613.0 208.9L613.2 209.0L613.4 209.0L613.6 209.1L613.8 208.9L614.0 209.1L614.2 208.9L614.4 208.8L614.6 208.9L614.8 208.6L615.0 208.7L615.2 208.4L615.4 207.8L615.6 207.1L615.8 206.3L616.0 206.1L616.2 206.3L616.4 206.8L616.6 207.8L616.8 208.4L617.0 208.7L617.2 208.8L617.4 208.8L617.6 208.7L617.8 209.0L618.0 208.7L618.2 208.6L618.4 208.2L618.6 208.3L618.8 207.4L619.0 206.4L619.2 206.1L619.4 206.1L619.6 206.4L619.8 207.5L620.0 208.1L620.2 208.6L620.4 208.9L620.6 208.7L620.8 209.1L621.0 208.8L621.2 208.7L621.4 208.8L621.6 208.4L621.8 208.0L622.0 207.5L622.2 206.7L622.4 206.3L622.6 206.8L622.8 207.4L623.0 208.0L623.2 208.6L623.4 208.6L623.6 208.9L623.8 208.8L624.0 209.0L624.2 208.8L624.4 209.0L624.6 209.0L624.8 208.9L625.0 209.0L625.2 209.0L625.4 209.1L625.6 208.9L625.8 209.0L626.0 209.0L626.2 208.9L626.4 208.9L626.6 208.9L626.8 209.0L627.0 209.0L627.2 209.0L627.4 208.8L627.6 208.9L627.8 209.2L628.0 209.1L628.2 209.0L628.4 209.0L628.6 209.0L628.8 209.1L629.0 209.1L629.2 209.0L629.4 209.0L629.6 208.9L629.8 209.0L630.0 209.1L630.2 208.7L630.4 208.8L630.6 208.3L630.8 207.8L631.0 206.9L631.2 206.0L631.4 205.5L631.6 205.5L631.8 206.2L632.0 207.1L632.2 208.1L632.4 208.3L632.6 208.5L632.8 208.7L633.0 208.9L633.2 208.7L633.4 208.9L633.6 209.2L633.8 209.0L634.0 208.9L634.2 208.9L634.4 209.1L634.6 209.1L634.8 209.0L635.0 209.0L635.2 208.8L635.4 208.8L635.6 209.0L635.8 209.0L636.0 209.0L636.2 209.0L636.4 209.2L636.6 209.2L636.8 208.9L637.0 209.1L637.2 209.1L637.4 209.0L637.6 209.0L637.8 209.1L638.0 209.3L638.2 209.0L638.4 209.0L638.6 209.0L638.8 208.8L639.0 209.0L639.2 208.9L639.4 209.1L639.6 209.1L639.8 209.3L640.0 209.0L640.2 209.0L640.4 209.1L640.6 209.3L640.8 209.1L641.0 209.1L641.2 209.1L641.4 209.1L641.6 209.0L641.8 208.9L642.0 208.9L642.2 208.9L642.4 208.8L642.6 208.5L642.8 208.1L643.0 207.8L643.2 207.4L643.4 207.4L643.6 207.6L643.8 208.5L644.0 208.6L644.2 208.8L644.4 208.8L644.6 209.0L644.8 209.1L645.0 209.0L645.2 209.0L645.4 209.0L645.6 209.3L645.8 209.1L646.0 209.0L646.2 209.1L646.4 209.2L646.6 209.1L646.8 209.1L647.0 209.1L647.2 209.1L647.4 209.1L647.6 209.3L647.8 209.1L648.0 209.0L648.2 209.0L648.4 209.1L648.6 209.0L648.8 209.0L649.0 209.2L649.2 209.1L649.4 209.2L649.6 209.1L649.8 209.0L650.0 209.2L650.2 209.1L650.4 209.3L650.6 209.0L650.8 209.1L651.0 209.1L651.2 209.3L651.4 209.2L651.6 209.0L651.8 209.0L652.0 209.2L652.2 208.9L652.4 209.0L652.6 209.1L652.8 209.1L653.0 209.1L653.2 209.2L653.4 209.1L653.6 209.0L653.8 209.3L654.0 209.2L654.2 209.0L654.4 209.1L654.6 208.9L654.8 209.3L655.0 209.1L655.2 209.2L655.4 209.2L655.6 209.3L655.8 209.1L656.0 209.1L656.2 209.2L656.4 209.2L656.6 209.0L656.8 209.1L657.0 208.9L657.2 209.3L657.4 209.0L657.6 209.2L657.8 209.2L658.0 209.2L658.2 209.2L658.4 209.0L658.6 209.1L658.8 209.0L659.0 209.0L659.2 209.0L659.4 209.3L659.6 209.0L659.8 209.0L660.0 208.6L660.2 208.5L660.4 207.9L660.6 207.5L660.8 207.5L661.0 207.7L661.2 208.0L661.4 208.6L661.6 208.6L661.8 208.8L662.0 208.9L662.2 208.4L662.4 208.2L662.6 207.4L662.8 206.7L663.0 206.9L663.2 207.5L663.4 208.0L663.6 208.4L663.8 208.6L664.0 209.0L664.2 209.2L664.4 209.2L664.6 209.0L664.8 209.0L665.0 209.1L665.2 209.2L665.4 209.1L665.6 209.1L665.8 209.0L666.0 208.6L666.2 208.6L666.4 208.5L666.6 207.9L666.8 207.7L667.0 207.0L667.2 207.1L667.4 207.6L667.6 208.1L667.8 208.3L668.0 208.6L668.2 208.9L668.4 208.7L668.6 208.6L668.8 207.8L669.0 207.4L669.2 206.2L669.4 205.0L669.6 204.3L669.8 205.0L670.0 206.2L670.2 207.3L670.4 207.9L670.6 208.6L670.8 208.8L671.0 208.6L671.2 208.7L671.4 208.0L671.6 207.5L671.8 206.7L672.0 205.5L672.2 205.0L672.4 205.6L672.6 206.5L672.8 207.5L673.0 208.2L673.2 208.7L673.4 208.9L673.6 209.0L673.8 208.9L674.0 209.1L674.2 209.2L674.4 209.0L674.6 209.3L674.8 209.0L675.0 209.0L675.2 209.1L675.4 209.0L675.6 209.0L675.8 209.0L676.0 209.1L676.2 209.1L676.4 209.3L676.6 209.2L676.8 209.1L677.0 209.1L677.2 209.2L677.4 209.2L677.6 209.2L677.8 209.3L678.0 209.4L678.2 209.1L678.4 209.3L678.6 209.2L678.8 209.2L679.0 209.1L679.2 209.3L679.4 209.3L679.6 209.2L679.8 209.1L680.0 209.3L680.2 209.1L680.4 209.0L680.6 209.3L680.8 209.2L681.0 209.0L681.2 209.1L681.4 209.2L681.6 209.3L681.8 209.2L682.0 209.1L682.2 209.1L682.4 209.0L682.6 209.2L682.8 209.1L683.0 209.3L683.2 209.1L683.4 209.3L683.6 209.2L683.8 209.2L684.0 209.2L684.2 209.1L684.4 209.3L684.6 209.0L684.8 209.0L685.0 209.0L685.2 209.0L685.4 208.5L685.6 208.3L685.8 207.3L686.0 206.3L686.2 205.6L686.4 205.6L686.6 206.3L686.8 207.5L687.0 208.4L687.2 208.7L687.4 209.0L687.6 209.1L687.8 209.4L688.0 209.2L688.2 209.2L688.4 209.1L688.6 209.2L688.8 209.2L689.0 209.2L689.2 209.2L689.4 209.3L689.6 209.2L689.8 209.3L690.0 209.2L690.2 209.4L690.4 209.1L690.6 209.1L690.8 209.3L691.0 209.4L691.2 209.2L691.4 209.0L691.6 209.4L691.8 209.3L692.0 209.2L692.2 209.4L692.4 209.4L692.6 209.2L692.8 209.2L693.0 209.3L693.2 209.3L693.4 209.4L693.6 209.3L693.8 209.5L694.0 209.2L694.2 209.1L694.4 209.2L694.6 209.1L694.8 209.2L695.0 209.1L695.2 209.3L695.4 209.3L695.6 209.4L695.8 209.1L696.0 209.0L696.2 209.0L696.4 208.9L696.6 208.5L696.8 208.2L697.0 207.6L697.2 207.1L697.4 207.0L697.6 207.6L697.8 207.9L698.0 208.2L698.2 208.6L698.4 208.7L698.6 208.3L698.8 207.4L699.0 206.6L699.2 205.8L699.4 205.2L699.6 205.6L699.8 206.5L700.0 207.7L700.2 208.3L700.4 208.9L700.6 209.0L700.8 209.1L701.0 208.9L701.2 209.1L701.4 209.2L701.6 209.4L701.8 209.3L702.0 209.1L702.2 209.5L702.4 209.2L702.6 209.2L702.8 209.2L703.0 209.1L703.2 209.2L703.4 209.2L703.6 209.2L703.8 209.2L704.0 209.2L704.2 209.3L704.4 209.2L704.6 209.1L704.8 209.3L705.0 209.2L705.2 209.3L705.4 209.1L705.6 209.2L705.8 209.2L706.0 209.1L706.2 209.2L706.4 209.2L706.6 209.3L706.8 209.1L707.0 209.3L707.2 209.4L707.4 209.3L707.6 209.2L707.8 209.2L708.0 209.4L708.2 209.2L708.4 209.4L708.6 209.1L708.8 209.0L709.0 209.3" fill="none" stroke="#e600e6" stroke-width="1.35" stroke-linejoin="round"/>
<path d="M430.8 164.1L431.0 163.5L431.2 164.0L431.4 163.9L431.6 164.1L431.8 164.0L432.0 164.2L432.2 164.0L432.4 164.0L432.6 164.1L432.8 164.1L433.0 164.0L433.2 164.1L433.4 164.2L433.6 164.2L433.8 164.1L434.0 164.1L434.2 164.0L434.4 164.4L434.6 164.2L434.8 164.4L435.0 164.3L435.2 164.5L435.4 164.5L435.6 164.3L435.8 164.5L436.0 164.2L436.2 164.5L436.4 164.2L436.6 164.4L436.8 164.5L437.0 164.5L437.2 164.4L437.4 164.4L437.6 164.4L437.8 164.6L438.0 164.6L438.2 164.5L438.4 164.4L438.6 164.6L438.8 164.4L439.0 164.5L439.2 164.5L439.4 164.7L439.6 164.7L439.8 164.7L440.0 164.7L440.2 164.6L440.4 164.8L440.6 164.9L440.8 164.8L441.0 164.9L441.2 164.8L441.4 164.9L441.6 164.9L441.8 165.0L442.0 164.9L442.2 165.1L442.4 164.9L442.6 164.9L442.8 164.9L443.0 165.0L443.2 164.9L443.4 164.9L443.6 165.1L443.8 165.2L444.0 165.1L444.2 164.7L444.4 165.0L444.6 165.0L444.8 165.0L445.0 165.1L445.2 165.4L445.4 165.1L445.6 165.1L445.8 165.3L446.0 165.2L446.2 165.3L446.4 165.2L446.6 165.3L446.8 165.3L447.0 165.1L447.2 165.1L447.4 165.5L447.6 165.5L447.8 165.3L448.0 165.3L448.2 165.4L448.4 165.3L448.6 165.4L448.8 165.7L449.0 165.5L449.2 165.6L449.4 165.5L449.6 165.6L449.8 165.7L450.0 165.4L450.2 165.5L450.4 165.6L450.6 165.7L450.8 165.8L451.0 165.7L451.2 165.5L451.4 165.7L451.6 165.6L451.8 165.6L452.0 166.0L452.2 165.6L452.4 165.8L452.6 165.7L452.8 165.9L453.0 165.8L453.2 165.8L453.4 165.8L453.6 166.0L453.8 165.7L454.0 165.8L454.2 165.7L454.4 166.0L454.6 165.8L454.8 165.8L455.0 165.8L455.2 166.2L455.4 165.9L455.6 166.0L455.8 166.0L456.0 165.9L456.2 165.8L456.4 165.8L456.6 165.8L456.8 165.6L457.0 166.1L457.2 165.8L457.4 165.4L457.6 164.9L457.8 163.8L458.0 162.5L458.2 160.4L458.4 158.9L458.6 158.7L458.8 160.5L459.0 162.7L459.2 164.0L459.4 165.1L459.6 165.6L459.8 165.9L460.0 166.1L460.2 166.0L460.4 166.0L460.6 166.1L460.8 166.1L461.0 166.1L461.2 166.2L461.4 166.2L461.6 166.1L461.8 166.2L462.0 166.5L462.2 166.2L462.4 166.1L462.6 166.3L462.8 165.8L463.0 165.2L463.2 164.5L463.4 163.5L463.6 162.3L463.8 161.3L464.0 160.9L464.2 162.2L464.4 163.2L464.6 164.2L464.8 164.4L465.0 163.8L465.2 162.0L465.4 159.1L465.6 155.2L465.8 152.5L466.0 152.6L466.2 155.6L466.4 159.5L466.6 162.4L466.8 164.2L467.0 165.3L467.2 165.6L467.4 165.7L467.6 165.7L467.8 166.2L468.0 166.2L468.2 166.3L468.4 166.2L468.6 166.3L468.8 166.5L469.0 166.4L469.2 166.2L469.4 166.3L469.6 166.5L469.8 166.2L470.0 166.1L470.2 166.1L470.4 166.2L470.6 166.5L470.8 166.4L471.0 166.3L471.2 166.2L471.4 166.3L471.6 166.3L471.8 166.2L472.0 166.3L472.2 166.2L472.4 166.4L472.6 165.9L472.8 166.1L473.0 165.9L473.2 166.0L473.4 165.8L473.6 165.7L473.8 165.4L474.0 164.9L474.2 164.1L474.4 161.9L474.6 158.6L474.8 152.6L475.0 145.4L475.2 139.7L475.4 139.5L475.6 145.1L475.8 151.3L476.0 156.3L476.2 158.4L476.4 157.4L476.6 155.8L476.8 155.2L477.0 156.6L477.2 159.2L477.4 162.1L477.6 164.0L477.8 165.1L478.0 165.6L478.2 165.9L478.4 165.9L478.6 166.2L478.8 166.1L479.0 166.4L479.2 166.4L479.4 166.3L479.6 166.5L479.8 166.5L480.0 166.5L480.2 166.6L480.4 166.5L480.6 166.6L480.8 166.6L481.0 166.6L481.2 166.8L481.4 166.4L481.6 166.6L481.8 166.4L482.0 166.6L482.2 166.7L482.4 166.7L482.6 166.8L482.8 166.7L483.0 166.4L483.2 166.6L483.4 166.9L483.6 166.9L483.8 166.7L484.0 166.5L484.2 167.0L484.4 166.5L484.6 166.8L484.8 166.7L485.0 166.8L485.2 166.6L485.4 166.7L485.6 166.9L485.8 166.7L486.0 166.6L486.2 166.8L486.4 166.8L486.6 166.8L486.8 166.7L487.0 166.9L487.2 166.8L487.4 166.7L487.6 166.8L487.8 166.8L488.0 166.8L488.2 166.6L488.4 166.7L488.6 166.9L488.8 166.9L489.0 166.8L489.2 166.8L489.4 166.8L489.6 166.7L489.8 166.7L490.0 166.4L490.2 165.8L490.4 165.1L490.6 163.1L490.8 160.5L491.0 157.1L491.2 154.4L491.4 154.5L491.6 157.1L491.8 160.4L492.0 163.3L492.2 165.0L492.4 166.0L492.6 166.5L492.8 166.5L493.0 166.9L493.2 167.0L493.4 166.9L493.6 167.0L493.8 166.8L494.0 166.9L494.2 167.1L494.4 166.8L494.6 166.9L494.8 166.9L495.0 167.1L495.2 167.0L495.4 166.8L495.6 166.8L495.8 166.4L496.0 166.6L496.2 166.4L496.4 166.3L496.6 165.4L496.8 165.1L497.0 163.6L497.2 160.4L497.4 155.0L497.6 146.0L497.8 134.8L498.0 125.8L498.2 125.7L498.4 134.8L498.6 146.0L498.8 155.0L499.0 160.7L499.2 163.8L499.4 165.2L499.6 166.0L499.8 166.2L500.0 166.7L500.2 166.7L500.4 167.0L500.6 166.8L500.8 166.9L501.0 167.0L501.2 167.2L501.4 167.2L501.6 167.2L501.8 167.2L502.0 167.3L502.2 167.2L502.4 167.1L502.6 167.2L502.8 167.0L503.0 167.1L503.2 166.8L503.4 166.6L503.6 166.3L503.8 166.0L504.0 165.2L504.2 163.5L504.4 159.7L504.6 152.9L504.8 142.1L505.0 128.5L505.2 117.8L505.4 117.5L505.6 128.5L505.8 142.0L506.0 153.1L506.2 160.1L506.4 163.8L506.6 165.4L506.8 166.2L507.0 166.7L507.2 167.2L507.4 167.6L507.6 167.2L507.8 167.4L508.0 167.4L508.2 167.6L508.4 167.4L508.6 167.1L508.8 166.0L509.0 164.6L509.2 162.0L509.4 158.8L509.6 156.4L509.8 156.2L510.0 159.1L510.2 162.1L510.4 164.4L510.6 166.1L510.8 167.1L511.0 167.2L511.2 167.5L511.4 167.6L511.6 167.6L511.8 167.6L512.0 167.4L512.2 167.3L512.4 167.0L512.6 167.1L512.8 166.9L513.0 166.6L513.2 166.3L513.4 165.6L513.6 164.8L513.8 162.1L514.0 157.1L514.2 148.4L514.4 136.0L514.6 123.1L514.8 116.7L515.0 123.1L515.2 135.9L515.4 148.4L515.6 157.3L515.8 162.1L516.0 164.4L516.2 165.6L516.4 166.4L516.6 166.7L516.8 166.9L517.0 167.0L517.2 167.2L517.4 167.3L517.6 167.3L517.8 167.3L518.0 167.5L518.2 167.5L518.4 167.7L518.6 167.5L518.8 167.7L519.0 167.5L519.2 167.8L519.4 167.7L519.6 167.6L519.8 167.5L520.0 167.6L520.2 167.6L520.4 167.8L520.6 167.6L520.8 167.5L521.0 167.7L521.2 167.9L521.4 167.9L521.6 167.6L521.8 167.5L522.0 167.4L522.2 167.0L522.4 166.6L522.6 166.0L522.8 165.4L523.0 165.5L523.2 166.0L523.4 166.7L523.6 167.0L523.8 167.4L524.0 167.4L524.2 167.5L524.4 167.5L524.6 168.2L524.8 167.8L525.0 167.8L525.2 167.8L525.4 167.6L525.6 167.6L525.8 167.6L526.0 167.6L526.2 167.6L526.4 167.7L526.6 167.0L526.8 167.2L527.0 167.2L527.2 166.7L527.4 166.0L527.6 164.7L527.8 161.9L528.0 158.3L528.2 154.1L528.4 152.3L528.6 154.0L528.8 157.8L529.0 161.8L529.2 164.5L529.4 166.0L529.6 166.6L529.8 167.2L530.0 167.3L530.2 167.4L530.4 167.4L530.6 167.7L530.8 167.7L531.0 167.6L531.2 167.6L531.4 167.7L531.6 167.8L531.8 168.0L532.0 167.7L532.2 167.6L532.4 167.5L532.6 168.0L532.8 167.6L533.0 167.8L533.2 167.7L533.4 167.8L533.6 167.6L533.8 167.5L534.0 167.7L534.2 167.7L534.4 167.8L534.6 167.4L534.8 167.5L535.0 167.5L535.2 167.4L535.4 167.4L535.6 167.5L535.8 167.3L536.0 166.9L536.2 166.7L536.4 166.0L536.6 164.4L536.8 161.9L537.0 158.5L537.2 156.3L537.4 156.3L537.6 158.6L537.8 161.7L538.0 164.0L538.2 165.7L538.4 166.1L538.6 165.8L538.8 165.2L539.0 164.0L539.2 162.7L539.4 161.9L539.6 162.6L539.8 164.2L540.0 165.8L540.2 166.5L540.4 166.8L540.6 167.3L540.8 167.3L541.0 167.2L541.2 167.4L541.4 167.3L541.6 167.3L541.8 167.1L542.0 166.5L542.2 165.7L542.4 165.0L542.6 165.1L542.8 165.7L543.0 166.6L543.2 166.9L543.4 167.3L543.6 167.7L543.8 167.7L544.0 167.6L544.2 167.7L544.4 167.7L544.6 167.8L544.8 167.8L545.0 167.8L545.2 167.7L545.4 167.7L545.6 167.6L545.8 167.7L546.0 167.9L546.2 167.8L546.4 167.7L546.6 167.8L546.8 167.7L547.0 167.8L547.2 168.0L547.4 168.0L547.6 167.9L547.8 167.9L548.0 167.8L548.2 167.6L548.4 167.8L548.6 167.7L548.8 167.9L549.0 167.8L549.2 167.7L549.4 167.8L549.6 168.1L549.8 167.7L550.0 167.9L550.2 167.8L550.4 167.7L550.6 167.7L550.8 167.7L551.0 167.8L551.2 167.8L551.4 167.8L551.6 167.7L551.8 167.6L552.0 167.7L552.2 167.6L552.4 167.5L552.6 167.7L552.8 167.4L553.0 167.3L553.2 167.4L553.4 167.0L553.6 167.0L553.8 166.7L554.0 165.9L554.2 164.4L554.4 162.0L554.6 158.0L554.8 154.0L555.0 152.1L555.2 153.8L555.4 157.8L555.6 161.6L555.8 164.2L556.0 165.7L556.2 166.3L556.4 166.9L556.6 166.7L556.8 166.9L557.0 166.9L557.2 166.7L557.4 166.4L557.6 166.0L557.8 165.2L558.0 162.9L558.2 159.1L558.4 153.9L558.6 148.3L558.8 145.4L559.0 147.9L559.2 153.0L559.4 157.1L559.6 158.5L559.8 157.0L560.0 154.1L560.2 151.1L560.4 151.4L560.6 155.0L560.8 159.3L561.0 162.8L561.2 164.9L561.4 166.1L561.6 166.7L561.8 167.0L562.0 167.2L562.2 167.1L562.4 167.3L562.6 167.5L562.8 167.5L563.0 167.5L563.2 167.5L563.4 167.8L563.6 167.9L563.8 167.6L564.0 167.9L564.2 167.6L564.4 167.8L564.6 167.6L564.8 167.9L565.0 167.8L565.2 167.9L565.4 168.0L565.6 167.9L565.8 167.9L566.0 167.8L566.2 167.9L566.4 167.8L566.6 167.8L566.8 168.1L567.0 168.0L567.2 167.9L567.4 168.0L567.6 167.7L567.8 167.9L568.0 167.7L568.2 167.8L568.4 167.9L568.6 167.9L568.8 168.0L569.0 167.9L569.2 167.9L569.4 167.9L569.6 168.1L569.8 168.0L570.0 167.7L570.2 167.9L570.4 168.0L570.6 167.8L570.8 167.8L571.0 167.7L571.2 167.6L571.4 167.8L571.6 167.7L571.8 167.7L572.0 167.4L572.2 167.4L572.4 167.4L572.6 167.3L572.8 167.2L573.0 166.7L573.2 166.2L573.4 164.7L573.6 161.9L573.8 157.6L574.0 152.0L574.2 147.6L574.4 147.6L574.6 151.8L574.8 157.4L575.0 161.9L575.2 164.4L575.4 166.0L575.6 166.5L575.8 166.8L576.0 166.8L576.2 166.6L576.4 166.1L576.6 164.7L576.8 163.5L577.0 162.2L577.2 162.2L577.4 163.5L577.6 164.8L577.8 166.0L578.0 166.9L578.2 167.4L578.4 167.6L578.6 167.5L578.8 167.8L579.0 167.6L579.2 167.6L579.4 167.8L579.6 167.8L579.8 167.4L580.0 167.5L580.2 167.0L580.4 166.6L580.6 165.8L580.8 163.9L581.0 161.7L581.2 159.9L581.4 159.8L581.6 161.6L581.8 163.7L582.0 165.2L582.2 166.4L582.4 166.9L582.6 167.0L582.8 167.0L583.0 166.7L583.2 166.0L583.4 164.8L583.6 162.0L583.8 158.0L584.0 153.1L584.2 149.1L584.4 149.0L584.6 152.7L584.8 158.4L585.0 162.4L585.2 165.0L585.4 166.4L585.6 167.1L585.8 167.2L586.0 167.3L586.2 167.7L586.4 167.4L586.6 167.9L586.8 167.9L587.0 168.0L587.2 168.1L587.4 168.1L587.6 168.2L587.8 168.1L588.0 168.1L588.2 168.1L588.4 168.0L588.6 167.9L588.8 168.1L589.0 167.9L589.2 168.0L589.4 168.4L589.6 168.2L589.8 168.1L590.0 168.0L590.2 167.9L590.4 168.0L590.6 168.0L590.8 168.1L591.0 168.0L591.2 167.9L591.4 167.5L591.6 167.5L591.8 166.5L592.0 165.2L592.2 163.5L592.4 162.3L592.6 162.4L592.8 163.6L593.0 165.0L593.2 166.4L593.4 167.1L593.6 167.8L593.8 168.1L594.0 168.2L594.2 168.1L594.4 168.2L594.6 168.0L594.8 168.0L595.0 167.8L595.2 167.4L595.4 166.6L595.6 165.7L595.8 163.5L596.0 162.0L596.2 160.9L596.4 161.7L596.6 162.9L596.8 163.9L597.0 163.4L597.2 161.4L597.4 158.6L597.6 156.1L597.8 156.3L598.0 158.9L598.2 162.0L598.4 164.4L598.6 166.0L598.8 166.3L599.0 166.4L599.2 165.4L599.4 163.4L599.6 160.7L599.8 157.6L600.0 156.4L600.2 157.9L600.4 160.7L600.6 163.7L600.8 165.8L601.0 167.0L601.2 167.3L601.4 167.8L601.6 167.8L601.8 168.0L602.0 167.9L602.2 168.1L602.4 168.0L602.6 168.1L602.8 168.2L603.0 168.2L603.2 168.0L603.4 168.2L603.6 168.1L603.8 168.3L604.0 168.1L604.2 168.0L604.4 168.1L604.6 168.0L604.8 167.9L605.0 167.6L605.2 167.2L605.4 166.5L605.6 165.5L605.8 164.2L606.0 162.9L606.2 162.9L606.4 164.1L606.6 165.6L606.8 167.0L607.0 167.6L607.2 167.8L607.4 167.8L607.6 168.0L607.8 168.1L608.0 168.2L608.2 168.4L608.4 168.2L608.6 167.9L608.8 168.2L609.0 168.0L609.2 168.3L609.4 168.3L609.6 168.1L609.8 167.7L610.0 167.6L610.2 167.3L610.4 166.6L610.6 166.4L610.8 166.7L611.0 167.2L611.2 167.6L611.4 167.9L611.6 168.1L611.8 168.1L612.0 168.2L612.2 168.2L612.4 168.1L612.6 168.3L612.8 168.2L613.0 168.3L613.2 168.3L613.4 168.1L613.6 168.1L613.8 168.3L614.0 168.2L614.2 168.2L614.4 168.1L614.6 168.0L614.8 168.1L615.0 167.9L615.2 167.7L615.4 167.2L615.6 166.5L615.8 165.7L616.0 165.1L616.2 165.3L616.4 166.3L616.6 166.9L616.8 167.5L617.0 168.0L617.2 167.9L617.4 168.2L617.6 168.3L617.8 168.4L618.0 168.2L618.2 168.2L618.4 167.7L618.6 167.3L618.8 166.9L619.0 165.8L619.2 165.4L619.4 165.3L619.6 165.7L619.8 167.0L620.0 167.3L620.2 168.1L620.4 167.8L620.6 168.0L620.8 168.2L621.0 168.1L621.2 167.9L621.4 168.0L621.6 167.8L621.8 167.5L622.0 166.7L622.2 166.2L622.4 166.0L622.6 166.4L622.8 166.9L623.0 167.4L623.2 167.8L623.4 168.3L623.6 168.1L623.8 168.3L624.0 168.0L624.2 168.5L624.4 168.4L624.6 168.1L624.8 168.4L625.0 168.5L625.2 168.4L625.4 168.4L625.6 168.5L625.8 168.3L626.0 168.3L626.2 168.3L626.4 168.4L626.6 168.2L626.8 168.5L627.0 168.4L627.2 168.2L627.4 168.3L627.6 168.4L627.8 168.4L628.0 168.5L628.2 168.3L628.4 168.3L628.6 168.4L628.8 168.5L629.0 168.2L629.2 168.2L629.4 168.3L629.6 168.3L629.8 168.2L630.0 168.3L630.2 168.1L630.4 168.2L630.6 167.6L630.8 167.2L631.0 166.4L631.2 165.4L631.4 164.6L631.6 164.4L631.8 165.4L632.0 166.5L632.2 167.4L632.4 167.7L632.6 167.9L632.8 168.3L633.0 168.3L633.2 168.5L633.4 168.4L633.6 168.4L633.8 168.3L634.0 168.4L634.2 168.6L634.4 168.4L634.6 168.3L634.8 168.5L635.0 168.4L635.2 168.4L635.4 168.4L635.6 168.6L635.8 168.4L636.0 168.4L636.2 168.5L636.4 168.4L636.6 168.2L636.8 168.5L637.0 168.3L637.2 168.5L637.4 168.4L637.6 168.5L637.8 168.4L638.0 168.4L638.2 168.5L638.4 168.5L638.6 168.6L638.8 168.6L639.0 168.4L639.2 168.6L639.4 168.8L639.6 168.6L639.8 168.5L640.0 168.4L640.2 168.5L640.4 168.3L640.6 168.6L640.8 168.4L641.0 168.4L641.2 168.5L641.4 168.3L641.6 168.3L641.8 168.4L642.0 168.6L642.2 168.3L642.4 168.4L642.6 167.9L642.8 167.8L643.0 167.5L643.2 167.4L643.4 166.9L643.6 167.4L643.8 167.7L644.0 168.2L644.2 168.3L644.4 168.4L644.6 168.4L644.8 168.4L645.0 168.6L645.2 168.7L645.4 168.6L645.6 168.6L645.8 168.5L646.0 168.7L646.2 168.3L646.4 168.3L646.6 168.5L646.8 168.6L647.0 168.7L647.2 168.6L647.4 168.7L647.6 168.6L647.8 168.5L648.0 168.5L648.2 168.6L648.4 168.5L648.6 168.6L648.8 168.7L649.0 168.5L649.2 168.5L649.4 168.5L649.6 168.7L649.8 168.6L650.0 168.5L650.2 168.6L650.4 168.8L650.6 168.6L650.8 168.6L651.0 168.6L651.2 168.5L651.4 168.6L651.6 168.6L651.8 168.6L652.0 168.8L652.2 168.6L652.4 168.6L652.6 168.6L652.8 168.7L653.0 168.4L653.2 168.7L653.4 168.8L653.6 168.5L653.8 168.7L654.0 168.6L654.2 168.5L654.4 168.7L654.6 168.6L654.8 168.4L655.0 168.6L655.2 168.7L655.4 168.6L655.6 168.6L655.8 168.6L656.0 168.6L656.2 168.7L656.4 168.6L656.6 168.5L656.8 168.7L657.0 168.8L657.2 168.7L657.4 168.8L657.6 168.6L657.8 168.5L658.0 168.6L658.2 168.7L658.4 168.5L658.6 168.6L658.8 168.7L659.0 168.6L659.2 168.9L659.4 168.7L659.6 168.4L659.8 168.4L660.0 168.3L660.2 168.2L660.4 167.8L660.6 167.5L660.8 167.6L661.0 167.9L661.2 168.1L661.4 168.1L661.6 168.3L661.8 168.3L662.0 168.1L662.2 168.1L662.4 167.5L662.6 166.9L662.8 166.5L663.0 166.6L663.2 167.1L663.4 167.7L663.6 168.2L663.8 168.2L664.0 168.7L664.2 168.9L664.4 168.6L664.6 168.6L664.8 168.7L665.0 168.8L665.2 168.6L665.4 168.5L665.6 168.9L665.8 168.5L666.0 168.2L666.2 168.5L666.4 168.3L666.6 168.1L666.8 167.6L667.0 167.4L667.2 167.0L667.4 167.3L667.6 167.6L667.8 168.3L668.0 168.3L668.2 168.2L668.4 168.1L668.6 168.1L668.8 167.6L669.0 166.8L669.2 165.4L669.4 164.1L669.6 163.7L669.8 164.2L670.0 165.6L670.2 166.7L670.4 167.5L670.6 168.1L670.8 168.2L671.0 168.3L671.2 168.1L671.4 167.6L671.6 166.9L671.8 165.7L672.0 164.6L672.2 164.0L672.4 164.6L672.6 165.8L672.8 166.9L673.0 167.8L673.2 168.2L673.4 168.3L673.6 168.6L673.8 168.4L674.0 168.7L674.2 168.9L674.4 168.8L674.6 168.6L674.8 168.9L675.0 168.8L675.2 168.7L675.4 168.8L675.6 168.8L675.8 168.8L676.0 168.9L676.2 168.7L676.4 168.9L676.6 169.1L676.8 168.8L677.0 168.7L677.2 168.8L677.4 169.0L677.6 168.8L677.8 168.9L678.0 169.2L678.2 168.8L678.4 168.9L678.6 168.8L678.8 168.8L679.0 168.9L679.2 168.8L679.4 169.0L679.6 168.9L679.8 169.0L680.0 169.0L680.2 169.0L680.4 169.1L680.6 168.9L680.8 169.0L681.0 168.8L681.2 169.1L681.4 168.8L681.6 169.0L681.8 168.8L682.0 168.9L682.2 168.8L682.4 168.8L682.6 168.8L682.8 169.0L683.0 169.0L683.2 169.0L683.4 169.0L683.6 168.9L683.8 169.0L684.0 169.1L684.2 168.8L684.4 168.8L684.6 168.9L684.8 169.1L685.0 168.7L685.2 168.6L685.4 168.2L685.6 167.7L685.8 166.8L686.0 165.8L686.2 165.2L686.4 165.2L686.6 165.9L686.8 167.0L687.0 167.9L687.2 168.4L687.4 168.7L687.6 168.9L687.8 168.8L688.0 169.0L688.2 169.3L688.4 168.9L688.6 169.0L688.8 168.9L689.0 168.9L689.2 169.0L689.4 169.0L689.6 169.0L689.8 168.9L690.0 169.1L690.2 168.9L690.4 169.1L690.6 169.0L690.8 169.0L691.0 169.0L691.2 168.8L691.4 169.2L691.6 168.9L691.8 169.1L692.0 169.1L692.2 169.0L692.4 168.9L692.6 169.1L692.8 168.9L693.0 169.0L693.2 169.1L693.4 169.0L693.6 168.8L693.8 169.0L694.0 169.1L694.2 168.9L694.4 169.1L694.6 168.8L694.8 168.9L695.0 168.8L695.2 168.9L695.4 169.2L695.6 169.0L695.8 168.9L696.0 168.8L696.2 169.0L696.4 168.6L696.6 168.2L696.8 168.0L697.0 167.0L697.2 166.6L697.4 166.7L697.6 167.2L697.8 167.9L698.0 168.3L698.2 168.3L698.4 168.5L698.6 168.0L698.8 167.1L699.0 166.0L699.2 164.8L699.4 164.1L699.6 165.0L699.8 166.2L700.0 167.4L700.2 168.0L700.4 168.5L700.6 168.9L700.8 168.9L701.0 168.9L701.2 168.9L701.4 169.0L701.6 169.2L701.8 169.1L702.0 169.3L702.2 169.4L702.4 169.2L702.6 168.9L702.8 169.1L703.0 169.3L703.2 169.0L703.4 169.0L703.6 169.1L703.8 169.4L704.0 169.1L704.2 168.9L704.4 169.2L704.6 169.2L704.8 169.2L705.0 169.2L705.2 169.2L705.4 169.1L705.6 169.3L705.8 169.2L706.0 169.2L706.2 169.1L706.4 169.3L706.6 169.2L706.8 169.1L707.0 169.2L707.2 169.0L707.4 169.1L707.6 169.3L707.8 169.3L708.0 169.3L708.2 169.3L708.4 169.2L708.6 169.2L708.8 169.4L709.0 169.2" fill="none" stroke="#1a08d8" stroke-width="1.35" stroke-linejoin="round"/>
<path d="M430.8 119.9L431.0 120.1L431.2 120.0L431.4 120.0L431.6 120.1L431.8 119.8L432.0 119.9L432.2 119.8L432.4 120.0L432.6 120.1L432.8 120.0L433.0 120.0L433.2 119.8L433.4 120.0L433.6 119.9L433.8 120.2L434.0 120.1L434.2 120.1L434.4 120.0L434.6 120.1L434.8 120.1L435.0 120.0L435.2 120.0L435.4 120.0L435.6 120.0L435.8 120.0L436.0 120.0L436.2 120.0L436.4 120.2L436.6 119.9L436.8 120.2L437.0 120.0L437.2 120.0L437.4 120.0L437.6 120.1L437.8 120.1L438.0 120.2L438.2 120.1L438.4 120.2L438.6 120.4L438.8 120.2L439.0 120.1L439.2 120.3L439.4 120.2L439.6 120.2L439.8 120.3L440.0 120.1L440.2 120.0L440.4 120.2L440.6 120.3L440.8 120.2L441.0 120.3L441.2 120.3L441.4 120.2L441.6 120.4L441.8 120.4L442.0 120.4L442.2 120.4L442.4 120.4L442.6 120.5L442.8 120.3L443.0 120.3L443.2 120.4L443.4 120.2L443.6 120.1L443.8 120.2L444.0 120.3L444.2 120.4L444.4 120.1L444.6 120.1L444.8 120.3L445.0 120.3L445.2 120.3L445.4 120.4L445.6 120.5L445.8 120.4L446.0 120.4L446.2 120.2L446.4 120.2L446.6 120.4L446.8 120.5L447.0 120.5L447.2 120.5L447.4 120.5L447.6 120.5L447.8 120.2L448.0 120.3L448.2 120.5L448.4 120.5L448.6 120.2L448.8 120.6L449.0 120.4L449.2 120.4L449.4 120.5L449.6 120.5L449.8 120.3L450.0 120.6L450.2 120.5L450.4 120.4L450.6 120.4L450.8 120.2L451.0 120.4L451.2 120.5L451.4 120.4L451.6 120.5L451.8 120.5L452.0 120.5L452.2 120.6L452.4 120.5L452.6 120.5L452.8 120.6L453.0 120.8L453.2 120.5L453.4 120.7L453.6 120.4L453.8 120.8L454.0 120.7L454.2 120.8L454.4 120.6L454.6 120.5L454.8 120.8L455.0 120.7L455.2 120.6L455.4 120.5L455.6 120.7L455.8 120.6L456.0 121.0L456.2 120.6L456.4 120.6L456.6 120.6L456.8 120.4L457.0 120.4L457.2 120.6L457.4 120.2L457.6 119.7L457.8 118.7L458.0 117.4L458.2 115.6L458.4 114.1L458.6 114.1L458.8 115.6L459.0 117.5L459.2 118.8L459.4 119.9L459.6 120.1L459.8 120.4L460.0 120.6L460.2 120.7L460.4 120.7L460.6 120.9L460.8 121.0L461.0 120.9L461.2 120.9L461.4 121.0L461.6 120.9L461.8 120.7L462.0 120.8L462.2 121.0L462.4 120.6L462.6 120.7L462.8 120.4L463.0 120.0L463.2 119.2L463.4 118.1L463.6 116.7L463.8 115.4L464.0 115.2L464.2 116.4L464.4 117.8L464.6 118.9L464.8 119.1L465.0 118.6L465.2 117.0L465.4 114.1L465.6 110.3L465.8 107.5L466.0 107.5L466.2 110.2L466.4 114.0L466.6 117.4L466.8 118.9L467.0 119.7L467.2 120.4L467.4 120.8L467.6 120.8L467.8 120.9L468.0 120.9L468.2 121.0L468.4 121.2L468.6 121.2L468.8 121.1L469.0 121.2L469.2 121.3L469.4 121.1L469.6 121.2L469.8 121.2L470.0 121.1L470.2 121.3L470.4 121.2L470.6 121.1L470.8 121.0L471.0 121.0L471.2 121.4L471.4 121.0L471.6 121.2L471.8 121.1L472.0 121.2L472.2 121.1L472.4 120.9L472.6 120.9L472.8 120.9L473.0 120.9L473.2 120.8L473.4 120.6L473.6 120.6L473.8 120.4L474.0 119.9L474.2 118.9L474.4 117.3L474.6 113.9L474.8 108.7L475.0 102.2L475.2 96.7L475.4 96.6L475.6 101.5L475.8 107.8L476.0 112.3L476.2 114.4L476.4 113.9L476.6 112.5L476.8 112.2L477.0 113.1L477.2 115.6L477.4 117.8L477.6 119.2L477.8 120.0L478.0 120.4L478.2 120.7L478.4 120.9L478.6 120.6L478.8 120.9L479.0 121.1L479.2 121.0L479.4 120.9L479.6 121.1L479.8 121.1L480.0 121.3L480.2 121.4L480.4 121.2L480.6 121.0L480.8 121.2L481.0 121.1L481.2 121.3L481.4 121.5L481.6 121.3L481.8 121.5L482.0 121.5L482.2 121.4L482.4 121.2L482.6 121.3L482.8 121.1L483.0 121.4L483.2 121.3L483.4 121.5L483.6 121.4L483.8 121.1L484.0 121.4L484.2 121.4L484.4 121.5L484.6 121.2L484.8 121.2L485.0 121.3L485.2 121.2L485.4 121.2L485.6 121.2L485.8 121.6L486.0 121.2L486.2 121.2L486.4 121.3L486.6 121.3L486.8 121.5L487.0 121.5L487.2 121.4L487.4 121.4L487.6 121.4L487.8 121.3L488.0 121.2L488.2 121.6L488.4 121.3L488.6 121.4L488.8 121.3L489.0 121.3L489.2 121.2L489.4 121.0L489.6 121.1L489.8 121.1L490.0 120.9L490.2 120.5L490.4 119.7L490.6 118.0L490.8 115.4L491.0 111.9L491.2 109.5L491.4 109.8L491.6 112.2L491.8 115.5L492.0 118.0L492.2 119.6L492.4 120.7L492.6 120.9L492.8 121.3L493.0 121.3L493.2 121.2L493.4 121.1L493.6 121.4L493.8 121.2L494.0 121.1L494.2 121.5L494.4 121.5L494.6 121.5L494.8 121.4L495.0 121.3L495.2 121.3L495.4 121.2L495.6 121.2L495.8 121.1L496.0 120.6L496.2 120.8L496.4 120.4L496.6 120.2L496.8 119.6L497.0 117.9L497.2 115.2L497.4 109.6L497.6 100.5L497.8 89.3L498.0 80.6L498.2 80.3L498.4 89.3L498.6 100.6L498.8 109.5L499.0 115.0L499.2 118.0L499.4 119.6L499.6 120.3L499.8 120.5L500.0 120.7L500.2 121.0L500.4 121.1L500.6 121.1L500.8 121.2L501.0 121.4L501.2 121.5L501.4 121.1L501.6 121.5L501.8 121.4L502.0 121.5L502.2 121.4L502.4 121.4L502.6 121.5L502.8 120.9L503.0 121.3L503.2 121.0L503.4 120.5L503.6 120.1L503.8 119.9L504.0 118.9L504.2 117.3L504.4 113.2L504.6 105.5L504.8 93.3L505.0 77.9L505.2 65.9L505.4 66.0L505.6 78.0L505.8 93.4L506.0 105.8L506.2 113.2L506.4 117.4L506.6 119.3L506.8 120.2L507.0 120.6L507.2 121.1L507.4 121.5L507.6 121.6L507.8 121.8L508.0 121.6L508.2 121.6L508.4 121.5L508.6 121.2L508.8 120.4L509.0 118.8L509.2 116.8L509.4 114.0L509.6 111.8L509.8 111.5L510.0 113.9L510.2 116.9L510.4 119.0L510.6 120.5L510.8 121.1L511.0 121.6L511.2 121.7L511.4 121.9L511.6 121.6L511.8 121.6L512.0 121.3L512.2 121.4L512.4 121.2L512.6 121.1L512.8 120.8L513.0 120.8L513.2 120.1L513.4 119.6L513.6 118.2L513.8 115.8L514.0 110.6L514.2 100.8L514.4 87.5L514.6 73.5L514.8 67.0L515.0 73.6L515.2 87.4L515.4 100.8L515.6 110.2L515.8 115.5L516.0 118.0L516.2 119.5L516.4 119.9L516.6 120.5L516.8 120.8L517.0 120.8L517.2 121.2L517.4 121.1L517.6 121.3L517.8 121.5L518.0 121.3L518.2 121.3L518.4 121.3L518.6 121.7L518.8 121.4L519.0 121.3L519.2 121.6L519.4 121.5L519.6 121.6L519.8 121.4L520.0 121.3L520.2 121.5L520.4 121.5L520.6 121.4L520.8 121.5L521.0 121.5L521.2 121.7L521.4 121.7L521.6 121.6L521.8 121.4L522.0 121.2L522.2 121.1L522.4 120.6L522.6 120.1L522.8 119.6L523.0 119.6L523.2 120.1L523.4 120.5L523.6 120.9L523.8 121.4L524.0 121.3L524.2 121.5L524.4 121.7L524.6 121.6L524.8 121.6L525.0 121.4L525.2 121.6L525.4 121.5L525.6 121.6L525.8 121.6L526.0 121.5L526.2 121.7L526.4 121.5L526.6 121.3L526.8 121.2L527.0 121.2L527.2 120.9L527.4 120.6L527.6 119.4L527.8 117.4L528.0 114.6L528.2 111.8L528.4 110.6L528.6 112.1L528.8 114.8L529.0 117.4L529.2 119.3L529.4 120.2L529.6 121.0L529.8 121.2L530.0 121.5L530.2 121.4L530.4 121.4L530.6 121.5L530.8 121.4L531.0 121.7L531.2 121.6L531.4 121.6L531.6 121.6L531.8 121.6L532.0 121.7L532.2 121.6L532.4 121.8L532.6 121.6L532.8 121.7L533.0 121.6L533.2 121.6L533.4 121.6L533.6 121.8L533.8 121.6L534.0 121.7L534.2 121.6L534.4 121.5L534.6 121.3L534.8 121.6L535.0 121.8L535.2 121.5L535.4 121.6L535.6 121.5L535.8 121.2L536.0 121.2L536.2 120.7L536.4 120.1L536.6 118.9L536.8 116.7L537.0 113.9L537.2 112.1L537.4 111.8L537.6 114.0L537.8 116.5L538.0 118.6L538.2 119.8L538.4 120.2L538.6 120.6L538.8 119.7L539.0 118.9L539.2 117.7L539.4 117.6L539.6 118.3L539.8 119.3L540.0 120.4L540.2 121.0L540.4 121.2L540.6 121.4L540.8 121.6L541.0 121.5L541.2 121.5L541.4 121.3L541.6 121.4L541.8 121.4L542.0 120.7L542.2 120.3L542.4 119.6L542.6 120.0L542.8 120.3L543.0 120.9L543.2 121.2L543.4 121.3L543.6 121.4L543.8 121.7L544.0 121.7L544.2 121.6L544.4 121.7L544.6 121.6L544.8 121.8L545.0 121.7L545.2 121.6L545.4 121.7L545.6 121.7L545.8 121.9L546.0 121.7L546.2 121.6L546.4 121.7L546.6 121.7L546.8 121.8L547.0 121.8L547.2 121.6L547.4 121.7L547.6 121.7L547.8 121.6L548.0 121.7L548.2 121.8L548.4 121.6L548.6 121.6L548.8 121.7L549.0 121.7L549.2 121.8L549.4 121.6L549.6 121.8L549.8 121.8L550.0 121.9L550.2 121.7L550.4 121.6L550.6 121.5L550.8 121.8L551.0 121.9L551.2 121.6L551.4 121.7L551.6 121.8L551.8 121.8L552.0 121.6L552.2 121.7L552.4 121.6L552.6 121.5L552.8 121.6L553.0 121.6L553.2 121.3L553.4 121.4L553.6 121.5L553.8 120.8L554.0 120.5L554.2 119.3L554.4 117.2L554.6 114.4L554.8 111.3L555.0 110.1L555.2 111.2L555.4 114.2L555.6 116.9L555.8 119.2L556.0 120.3L556.2 120.6L556.4 120.9L556.6 121.1L556.8 121.0L557.0 120.9L557.2 120.7L557.4 120.9L557.6 120.7L557.8 119.7L558.0 118.3L558.2 115.7L558.4 111.8L558.6 107.9L558.8 106.0L559.0 107.6L559.2 111.5L559.4 114.6L559.6 115.6L559.8 115.1L560.0 112.9L560.2 111.2L560.4 111.5L560.6 113.5L560.8 116.2L561.0 118.7L561.2 119.8L561.4 121.0L561.6 121.2L561.8 121.3L562.0 121.5L562.2 121.4L562.4 121.5L562.6 121.7L562.8 121.8L563.0 121.7L563.2 121.7L563.4 121.7L563.6 121.9L563.8 121.6L564.0 121.7L564.2 121.8L564.4 121.6L564.6 121.7L564.8 121.7L565.0 122.0L565.2 122.1L565.4 121.9L565.6 121.7L565.8 121.8L566.0 121.9L566.2 121.9L566.4 121.9L566.6 122.0L566.8 121.7L567.0 121.8L567.2 121.9L567.4 122.0L567.6 122.0L567.8 121.9L568.0 121.9L568.2 121.8L568.4 121.9L568.6 121.9L568.8 121.8L569.0 122.1L569.2 122.1L569.4 121.9L569.6 122.0L569.8 122.1L570.0 121.9L570.2 121.9L570.4 122.0L570.6 121.7L570.8 121.7L571.0 121.9L571.2 121.9L571.4 122.0L571.6 121.8L571.8 121.9L572.0 121.9L572.2 121.9L572.4 121.5L572.6 121.5L572.8 121.4L573.0 121.2L573.2 120.5L573.4 119.5L573.6 117.4L573.8 114.5L574.0 110.2L574.2 107.0L574.4 106.9L574.6 110.2L574.8 114.3L575.0 117.5L575.2 119.5L575.4 120.8L575.6 121.1L575.8 121.3L576.0 121.2L576.2 121.1L576.4 120.7L576.6 120.2L576.8 119.3L577.0 118.6L577.2 118.7L577.4 119.3L577.6 120.3L577.8 121.3L578.0 121.3L578.2 121.4L578.4 121.8L578.6 121.8L578.8 122.0L579.0 121.8L579.2 121.9L579.4 121.7L579.6 121.5L579.8 121.7L580.0 121.6L580.2 121.2L580.4 120.6L580.6 119.8L580.8 118.2L581.0 116.3L581.2 114.8L581.4 115.1L581.6 116.3L581.8 118.2L582.0 119.6L582.2 120.7L582.4 120.9L582.6 121.4L582.8 121.2L583.0 120.9L583.2 120.6L583.4 119.6L583.6 117.8L583.8 114.3L584.0 110.6L584.2 107.5L584.4 107.6L584.6 110.5L584.8 114.5L585.0 118.0L585.2 119.8L585.4 120.6L585.6 121.3L585.8 121.4L586.0 121.6L586.2 121.6L586.4 121.9L586.6 121.8L586.8 122.0L587.0 122.0L587.2 121.8L587.4 121.9L587.6 122.1L587.8 121.9L588.0 122.1L588.2 122.1L588.4 122.2L588.6 122.2L588.8 122.2L589.0 122.1L589.2 122.2L589.4 122.1L589.6 122.1L589.8 122.3L590.0 122.1L590.2 122.3L590.4 122.3L590.6 122.1L590.8 122.2L591.0 122.0L591.2 122.1L591.4 121.8L591.6 121.6L591.8 121.0L592.0 119.9L592.2 119.1L592.4 118.1L592.6 117.7L592.8 118.9L593.0 120.0L593.2 121.3L593.4 121.6L593.6 122.0L593.8 122.1L594.0 122.2L594.2 122.1L594.4 122.1L594.6 122.1L594.8 122.0L595.0 122.0L595.2 121.7L595.4 121.1L595.6 120.2L595.8 118.9L596.0 117.7L596.2 116.8L596.4 117.4L596.6 118.6L596.8 119.0L597.0 118.6L597.2 117.2L597.4 114.9L597.6 113.2L597.8 113.4L598.0 115.1L598.2 117.8L598.4 119.5L598.6 120.5L598.8 120.9L599.0 120.8L599.2 119.8L599.4 118.6L599.6 116.5L599.8 114.1L600.0 112.9L600.2 114.2L600.4 116.5L600.6 118.7L600.8 120.4L601.0 121.4L601.2 121.7L601.4 121.8L601.6 122.0L601.8 122.1L602.0 121.9L602.2 122.2L602.4 122.2L602.6 121.9L602.8 122.0L603.0 122.4L603.2 122.2L603.4 122.4L603.6 122.2L603.8 122.4L604.0 122.3L604.2 122.1L604.4 122.2L604.6 122.3L604.8 122.3L605.0 121.9L605.2 121.5L605.4 120.8L605.6 119.9L605.8 118.6L606.0 117.5L606.2 117.4L606.4 118.6L606.6 119.9L606.8 120.9L607.0 121.4L607.2 121.8L607.4 122.3L607.6 122.1L607.8 122.5L608.0 122.2L608.2 122.2L608.4 122.2L608.6 122.3L608.8 122.1L609.0 122.2L609.2 122.2L609.4 122.3L609.6 122.0L609.8 121.9L610.0 121.4L610.2 121.0L610.4 120.7L610.6 120.4L610.8 120.7L611.0 121.2L611.2 121.7L611.4 121.7L611.6 122.1L611.8 122.3L612.0 122.1L612.2 122.1L612.4 122.2L612.6 122.4L612.8 122.3L613.0 122.4L613.2 122.2L613.4 122.4L613.6 122.1L613.8 122.2L614.0 122.2L614.2 122.4L614.4 122.2L614.6 122.3L614.8 122.0L615.0 121.9L615.2 121.7L615.4 121.2L615.6 120.3L615.8 119.4L616.0 118.8L616.2 119.6L616.4 120.2L616.6 121.1L616.8 121.6L617.0 121.7L617.2 121.8L617.4 121.9L617.6 122.1L617.8 122.2L618.0 122.0L618.2 122.1L618.4 121.6L618.6 121.2L618.8 120.5L619.0 119.7L619.2 118.9L619.4 119.0L619.6 119.8L619.8 120.5L620.0 121.2L620.2 121.7L620.4 121.8L620.6 121.9L620.8 122.2L621.0 122.1L621.2 121.9L621.4 121.9L621.6 121.8L621.8 121.5L622.0 120.9L622.2 120.4L622.4 120.0L622.6 120.3L622.8 120.8L623.0 121.6L623.2 121.9L623.4 122.3L623.6 122.3L623.8 122.1L624.0 122.0L624.2 122.1L624.4 122.1L624.6 122.3L624.8 122.1L625.0 122.0L625.2 122.3L625.4 122.4L625.6 122.4L625.8 122.5L626.0 122.3L626.2 122.2L626.4 122.3L626.6 122.1L626.8 122.2L627.0 122.5L627.2 122.5L627.4 122.4L627.6 122.3L627.8 122.3L628.0 122.3L628.2 122.1L628.4 122.4L628.6 122.4L628.8 122.3L629.0 122.3L629.2 122.1L629.4 122.3L629.6 122.3L629.8 121.9L630.0 122.1L630.2 122.1L630.4 122.2L630.6 121.6L630.8 121.2L631.0 120.5L631.2 119.3L631.4 118.4L631.6 118.4L631.8 119.3L632.0 120.2L632.2 121.3L632.4 121.6L632.6 122.0L632.8 122.2L633.0 122.3L633.2 122.2L633.4 122.2L633.6 122.3L633.8 122.3L634.0 122.4L634.2 122.3L634.4 122.5L634.6 122.6L634.8 122.2L635.0 122.4L635.2 122.2L635.4 122.4L635.6 122.4L635.8 122.3L636.0 122.2L636.2 122.3L636.4 122.6L636.6 122.5L636.8 122.4L637.0 122.3L637.2 122.3L637.4 122.2L637.6 122.2L637.8 122.2L638.0 122.4L638.2 122.4L638.4 122.4L638.6 122.2L638.8 122.2L639.0 122.5L639.2 122.3L639.4 122.5L639.6 122.3L639.8 122.5L640.0 122.4L640.2 122.3L640.4 122.3L640.6 122.6L640.8 122.4L641.0 122.3L641.2 122.3L641.4 122.1L641.6 122.5L641.8 122.4L642.0 122.2L642.2 122.2L642.4 121.7L642.6 121.9L642.8 121.3L643.0 120.8L643.2 120.4L643.4 120.3L643.6 120.6L643.8 121.2L644.0 121.7L644.2 122.1L644.4 122.2L644.6 122.2L644.8 122.3L645.0 122.2L645.2 122.6L645.4 122.4L645.6 122.2L645.8 122.4L646.0 122.5L646.2 122.4L646.4 122.6L646.6 122.2L646.8 122.6L647.0 122.4L647.2 122.5L647.4 122.6L647.6 122.2L647.8 122.2L648.0 122.3L648.2 122.2L648.4 122.1L648.6 122.4L648.8 122.5L649.0 122.3L649.2 122.4L649.4 122.8L649.6 122.4L649.8 122.3L650.0 122.4L650.2 122.4L650.4 122.4L650.6 122.5L650.8 122.4L651.0 122.5L651.2 122.4L651.4 122.4L651.6 122.3L651.8 122.2L652.0 122.4L652.2 122.3L652.4 122.4L652.6 122.4L652.8 122.3L653.0 122.7L653.2 122.4L653.4 122.5L653.6 122.3L653.8 122.5L654.0 122.5L654.2 122.5L654.4 122.3L654.6 122.6L654.8 122.3L655.0 122.2L655.2 122.2L655.4 122.4L655.6 122.3L655.8 122.5L656.0 122.5L656.2 122.6L656.4 122.4L656.6 122.4L656.8 122.4L657.0 122.3L657.2 122.3L657.4 122.3L657.6 122.4L657.8 122.3L658.0 122.4L658.2 122.5L658.4 122.1L658.6 122.3L658.8 122.2L659.0 122.3L659.2 122.2L659.4 122.2L659.6 122.5L659.8 122.0L660.0 121.9L660.2 121.6L660.4 121.1L660.6 120.7L660.8 121.0L661.0 120.9L661.2 121.4L661.4 121.8L661.6 121.9L661.8 122.2L662.0 121.8L662.2 121.7L662.4 120.9L662.6 120.3L662.8 119.5L663.0 119.5L663.2 120.1L663.4 121.0L663.6 121.5L663.8 121.9L664.0 122.0L664.2 122.0L664.4 122.3L664.6 122.4L664.8 122.1L665.0 122.3L665.2 122.3L665.4 122.1L665.6 122.2L665.8 122.3L666.0 122.3L666.2 122.0L666.4 122.0L666.6 121.2L666.8 120.5L667.0 119.9L667.2 120.2L667.4 120.5L667.6 121.1L667.8 121.5L668.0 121.8L668.2 121.9L668.4 122.0L668.6 121.9L668.8 121.4L669.0 120.7L669.2 119.4L669.4 118.2L669.6 117.8L669.8 118.1L670.0 119.6L670.2 120.6L670.4 121.4L670.6 121.6L670.8 121.9L671.0 122.0L671.2 121.7L671.4 121.3L671.6 120.8L671.8 119.8L672.0 118.7L672.2 118.4L672.4 119.1L672.6 119.9L672.8 120.8L673.0 121.5L673.2 122.2L673.4 122.2L673.6 122.3L673.8 122.3L674.0 122.3L674.2 122.5L674.4 122.4L674.6 122.4L674.8 122.2L675.0 122.7L675.2 122.5L675.4 122.4L675.6 122.3L675.8 122.4L676.0 122.2L676.2 122.5L676.4 122.4L676.6 122.5L676.8 122.5L677.0 122.7L677.2 122.5L677.4 122.5L677.6 122.5L677.8 122.4L678.0 122.5L678.2 122.5L678.4 122.6L678.6 122.6L678.8 122.5L679.0 122.6L679.2 122.4L679.4 122.3L679.6 122.7L679.8 122.5L680.0 122.4L680.2 122.4L680.4 122.5L680.6 122.7L680.8 122.5L681.0 122.8L681.2 122.5L681.4 122.6L681.6 122.5L681.8 122.5L682.0 122.5L682.2 122.5L682.4 122.4L682.6 122.4L682.8 122.5L683.0 122.6L683.2 122.5L683.4 122.5L683.6 122.4L683.8 122.6L684.0 122.6L684.2 122.3L684.4 122.5L684.6 122.4L684.8 122.2L685.0 122.5L685.2 122.4L685.4 122.0L685.6 121.7L685.8 120.7L686.0 119.9L686.2 119.3L686.4 119.1L686.6 119.9L686.8 120.7L687.0 121.6L687.2 122.1L687.4 122.1L687.6 122.3L687.8 122.4L688.0 122.6L688.2 122.4L688.4 122.4L688.6 122.5L688.8 122.6L689.0 122.3L689.2 122.5L689.4 122.7L689.6 122.5L689.8 122.5L690.0 122.6L690.2 122.4L690.4 122.8L690.6 122.6L690.8 122.5L691.0 122.5L691.2 122.5L691.4 122.5L691.6 122.4L691.8 122.5L692.0 122.3L692.2 122.7L692.4 122.4L692.6 122.4L692.8 122.4L693.0 122.6L693.2 122.5L693.4 122.7L693.6 122.5L693.8 122.5L694.0 122.5L694.2 122.5L694.4 122.7L694.6 122.7L694.8 122.7L695.0 122.3L695.2 122.5L695.4 122.4L695.6 122.3L695.8 122.2L696.0 122.3L696.2 122.4L696.4 122.4L696.6 122.2L696.8 121.4L697.0 120.9L697.2 120.6L697.4 120.6L697.6 121.0L697.8 121.2L698.0 121.8L698.2 122.1L698.4 122.0L698.6 121.6L698.8 120.9L699.0 120.0L699.2 119.2L699.4 118.7L699.6 119.2L699.8 120.3L700.0 120.9L700.2 121.8L700.4 122.2L700.6 122.4L700.8 122.3L701.0 122.4L701.2 122.4L701.4 122.5L701.6 122.5L701.8 122.5L702.0 122.6L702.2 122.5L702.4 122.4L702.6 122.5L702.8 122.5L703.0 122.6L703.2 122.7L703.4 122.5L703.6 122.3L703.8 122.6L704.0 122.6L704.2 122.5L704.4 122.5L704.6 122.8L704.8 122.4L705.0 122.4L705.2 122.6L705.4 122.2L705.6 122.5L705.8 122.7L706.0 122.6L706.2 122.6L706.4 122.5L706.6 122.6L706.8 122.9L707.0 122.6L707.2 122.7L707.4 122.4L707.6 122.6L707.8 122.6L708.0 122.6L708.2 122.3L708.4 122.5L708.6 122.8L708.8 122.7L709.0 122.5" fill="none" stroke="#d8161e" stroke-width="1.35" stroke-linejoin="round"/>
<path d="M430.8 72.9L431.0 73.1L431.2 73.1L431.4 72.9L431.6 72.9L431.8 72.9L432.0 73.1L432.2 73.0L432.4 73.1L432.6 72.8L432.8 73.2L433.0 73.1L433.2 73.2L433.4 73.1L433.6 73.1L433.8 73.2L434.0 73.3L434.2 73.2L434.4 73.2L434.6 73.3L434.8 73.1L435.0 73.1L435.2 73.3L435.4 73.2L435.6 73.1L435.8 73.2L436.0 73.3L436.2 73.2L436.4 73.2L436.6 73.4L436.8 73.5L437.0 73.4L437.2 73.4L437.4 73.5L437.6 73.6L437.8 73.5L438.0 73.6L438.2 73.7L438.4 73.6L438.6 73.5L438.8 73.7L439.0 73.7L439.2 73.8L439.4 73.5L439.6 73.6L439.8 73.6L440.0 73.5L440.2 73.8L440.4 73.8L440.6 73.7L440.8 74.0L441.0 73.9L441.2 73.9L441.4 73.9L441.6 74.0L441.8 73.7L442.0 74.0L442.2 74.0L442.4 73.7L442.6 74.0L442.8 74.0L443.0 74.1L443.2 74.0L443.4 74.0L443.6 74.1L443.8 74.0L444.0 74.2L444.2 74.1L444.4 74.2L444.6 74.1L444.8 74.3L445.0 74.3L445.2 74.2L445.4 74.3L445.6 74.4L445.8 74.5L446.0 74.1L446.2 74.4L446.4 74.4L446.6 74.3L446.8 74.2L447.0 74.5L447.2 74.2L447.4 74.5L447.6 74.6L447.8 74.3L448.0 74.4L448.2 74.3L448.4 74.5L448.6 74.7L448.8 74.8L449.0 74.3L449.2 74.5L449.4 74.7L449.6 74.8L449.8 74.7L450.0 74.6L450.2 74.7L450.4 74.7L450.6 74.7L450.8 74.6L451.0 74.8L451.2 74.8L451.4 74.8L451.6 74.8L451.8 74.7L452.0 74.8L452.2 75.0L452.4 74.8L452.6 74.7L452.8 75.0L453.0 74.9L453.2 75.1L453.4 74.9L453.6 74.8L453.8 74.7L454.0 75.0L454.2 75.2L454.4 74.8L454.6 74.8L454.8 75.0L455.0 74.8L455.2 74.9L455.4 74.9L455.6 74.9L455.8 75.0L456.0 74.9L456.2 75.0L456.4 74.8L456.6 74.9L456.8 74.6L457.0 74.6L457.2 74.8L457.4 74.4L457.6 74.2L457.8 73.4L458.0 72.3L458.2 70.8L458.4 69.6L458.6 69.5L458.8 70.6L459.0 72.1L459.2 73.3L459.4 74.0L459.6 74.5L459.8 74.7L460.0 74.9L460.2 74.8L460.4 74.7L460.6 74.9L460.8 75.0L461.0 75.1L461.2 75.0L461.4 74.9L461.6 74.9L461.8 75.2L462.0 75.0L462.2 75.1L462.4 75.1L462.6 74.7L462.8 74.6L463.0 74.3L463.2 73.7L463.4 72.7L463.6 71.4L463.8 70.4L464.0 70.1L464.2 71.2L464.4 72.2L464.6 73.1L464.8 73.2L465.0 72.8L465.2 71.4L465.4 68.9L465.6 65.8L465.8 63.3L466.0 63.2L466.2 65.8L466.4 68.9L466.6 71.5L466.8 73.1L467.0 74.0L467.2 74.1L467.4 74.6L467.6 74.5L467.8 74.6L468.0 74.7L468.2 74.7L468.4 74.8L468.6 74.7L468.8 74.7L469.0 74.7L469.2 75.0L469.4 74.8L469.6 74.7L469.8 74.8L470.0 74.6L470.2 75.0L470.4 74.6L470.6 74.9L470.8 74.9L471.0 74.6L471.2 74.8L471.4 74.9L471.6 74.8L471.8 74.8L472.0 74.9L472.2 74.8L472.4 74.8L472.6 74.7L472.8 74.7L473.0 74.5L473.2 74.6L473.4 74.3L473.6 74.1L473.8 74.1L474.0 73.9L474.2 73.1L474.4 71.3L474.6 68.5L474.8 63.6L475.0 57.7L475.2 53.0L475.4 52.6L475.6 57.4L475.8 62.8L476.0 67.0L476.2 68.6L476.4 68.4L476.6 67.4L476.8 67.1L477.0 68.3L477.2 70.0L477.4 72.0L477.6 73.2L477.8 73.7L478.0 74.4L478.2 74.6L478.4 74.6L478.6 74.8L478.8 74.9L479.0 74.8L479.2 74.8L479.4 74.9L479.6 75.0L479.8 75.0L480.0 75.2L480.2 75.3L480.4 75.0L480.6 75.2L480.8 75.2L481.0 75.2L481.2 75.3L481.4 75.1L481.6 75.3L481.8 75.4L482.0 75.3L482.2 75.1L482.4 75.3L482.6 75.4L482.8 75.3L483.0 75.2L483.2 75.4L483.4 75.1L483.6 75.3L483.8 75.3L484.0 75.1L484.2 75.4L484.4 75.3L484.6 75.1L484.8 75.4L485.0 75.2L485.2 75.1L485.4 75.2L485.6 75.3L485.8 75.4L486.0 75.3L486.2 75.3L486.4 75.4L486.6 75.3L486.8 75.5L487.0 75.4L487.2 75.4L487.4 75.4L487.6 75.2L487.8 75.3L488.0 75.5L488.2 75.4L488.4 75.3L488.6 75.4L488.8 75.2L489.0 75.3L489.2 75.2L489.4 75.2L489.6 74.9L489.8 75.2L490.0 74.8L490.2 74.3L490.4 73.7L490.6 72.1L490.8 69.7L491.0 66.5L491.2 64.2L491.4 64.6L491.6 66.5L491.8 69.7L492.0 72.1L492.2 73.8L492.4 74.3L492.6 74.8L492.8 75.2L493.0 75.2L493.2 75.5L493.4 75.2L493.6 75.4L493.8 75.7L494.0 75.3L494.2 75.3L494.4 75.4L494.6 75.4L494.8 75.5L495.0 75.4L495.2 75.2L495.4 75.3L495.6 75.5L495.8 75.3L496.0 74.7L496.2 74.8L496.4 74.5L496.6 74.4L496.8 73.7L497.0 72.8L497.2 70.2L497.4 65.3L497.6 57.5L497.8 47.9L498.0 40.3L498.2 40.4L498.4 47.9L498.6 57.5L498.8 65.4L499.0 70.1L499.2 72.6L499.4 73.7L499.6 74.3L499.8 74.6L500.0 74.6L500.2 75.2L500.4 75.3L500.6 75.3L500.8 75.5L501.0 75.5L501.2 75.5L501.4 75.1L501.6 75.4L501.8 75.5L502.0 75.6L502.2 75.6L502.4 75.6L502.6 75.2L502.8 75.0L503.0 75.2L503.2 74.9L503.4 74.8L503.6 74.3L503.8 73.8L504.0 72.6L504.2 70.8L504.4 66.3L504.6 57.9L504.8 44.4L505.0 27.4L505.2 14.2L505.4 14.2L505.6 27.6L505.8 44.5L506.0 58.0L506.2 66.5L506.4 71.3L506.6 73.1L506.8 74.3L507.0 74.8L507.2 75.1L507.4 75.4L507.6 75.7L507.8 75.8L508.0 75.9L508.2 75.6L508.4 75.6L508.6 75.3L508.8 74.8L509.0 73.0L509.2 71.1L509.4 68.2L509.6 66.1L509.8 66.0L510.0 68.3L510.2 71.2L510.4 73.2L510.6 74.6L510.8 75.3L511.0 75.5L511.2 75.7L511.4 75.7L511.6 75.6L511.8 75.6L512.0 75.5L512.2 75.6L512.4 75.4L512.6 75.1L512.8 75.2L513.0 74.8L513.2 74.5L513.4 73.7L513.6 72.4L513.8 69.7L514.0 64.4L514.2 55.1L514.4 41.6L514.6 27.4L514.8 21.1L515.0 27.4L515.2 41.6L515.4 54.8L515.6 64.2L515.8 69.7L516.0 72.3L516.2 73.3L516.4 74.2L516.6 74.8L516.8 74.6L517.0 75.2L517.2 75.1L517.4 75.2L517.6 75.3L517.8 75.2L518.0 75.6L518.2 75.6L518.4 75.4L518.6 75.5L518.8 75.4L519.0 75.5L519.2 75.8L519.4 75.5L519.6 75.7L519.8 75.8L520.0 75.9L520.2 76.0L520.4 75.8L520.6 75.8L520.8 76.0L521.0 75.9L521.2 75.9L521.4 76.1L521.6 76.1L521.8 75.9L522.0 75.7L522.2 75.5L522.4 74.7L522.6 74.3L522.8 73.6L523.0 74.1L523.2 74.4L523.4 75.0L523.6 75.5L523.8 75.6L524.0 76.2L524.2 76.4L524.4 76.2L524.6 76.4L524.8 76.4L525.0 76.2L525.2 76.5L525.4 76.5L525.6 76.4L525.8 76.4L526.0 76.5L526.2 76.2L526.4 76.4L526.6 76.5L526.8 76.1L527.0 76.3L527.2 75.8L527.4 75.1L527.6 74.1L527.8 71.9L528.0 69.0L528.2 65.7L528.4 64.5L528.6 65.8L528.8 69.1L529.0 72.1L529.2 74.3L529.4 75.7L529.6 76.2L529.8 76.4L530.0 76.5L530.2 76.9L530.4 76.9L530.6 76.9L530.8 77.0L531.0 76.9L531.2 77.0L531.4 77.0L531.6 77.2L531.8 77.2L532.0 77.1L532.2 77.3L532.4 77.4L532.6 77.3L532.8 77.4L533.0 77.3L533.2 77.3L533.4 77.4L533.6 77.3L533.8 77.4L534.0 77.1L534.2 77.4L534.4 77.2L534.6 77.2L534.8 77.0L535.0 77.3L535.2 77.3L535.4 77.2L535.6 77.1L535.8 76.8L536.0 76.7L536.2 76.4L536.4 75.6L536.6 74.5L536.8 72.2L537.0 69.5L537.2 67.4L537.4 67.2L537.6 69.3L537.8 72.0L538.0 74.3L538.2 75.5L538.4 76.1L538.6 76.1L538.8 75.4L539.0 74.7L539.2 73.9L539.4 73.3L539.6 73.9L539.8 75.0L540.0 75.9L540.2 76.6L540.4 76.8L540.6 77.0L540.8 77.2L541.0 77.0L541.2 77.1L541.4 77.2L541.6 76.9L541.8 76.5L542.0 76.1L542.2 75.6L542.4 75.1L542.6 75.1L542.8 75.6L543.0 76.0L543.2 76.6L543.4 77.0L543.6 77.0L543.8 77.0L544.0 77.1L544.2 77.1L544.4 77.3L544.6 77.2L544.8 77.3L545.0 77.5L545.2 77.3L545.4 77.5L545.6 77.3L545.8 77.2L546.0 77.3L546.2 77.2L546.4 77.4L546.6 77.2L546.8 77.5L547.0 77.4L547.2 77.1L547.4 77.4L547.6 77.5L547.8 77.2L548.0 77.4L548.2 77.1L548.4 77.3L548.6 77.1L548.8 77.4L549.0 77.1L549.2 77.0L549.4 77.3L549.6 77.6L549.8 77.2L550.0 77.4L550.2 77.3L550.4 77.2L550.6 77.3L550.8 77.4L551.0 77.1L551.2 77.3L551.4 77.3L551.6 77.0L551.8 77.4L552.0 77.4L552.2 77.0L552.4 77.3L552.6 77.1L552.8 77.0L553.0 77.2L553.2 76.9L553.4 76.8L553.6 76.8L553.8 76.5L554.0 75.8L554.2 74.2L554.4 71.9L554.6 68.9L554.8 65.3L555.0 63.8L555.2 65.2L555.4 68.7L555.6 71.8L555.8 74.4L556.0 75.4L556.2 76.1L556.4 76.3L556.6 76.6L556.8 76.3L557.0 76.4L557.2 76.3L557.4 76.1L557.6 75.7L557.8 74.7L558.0 72.9L558.2 69.5L558.4 64.8L558.6 59.8L558.8 57.3L559.0 59.5L559.2 64.0L559.4 68.0L559.6 69.2L559.8 68.3L560.0 65.8L560.2 63.0L560.4 63.3L560.6 66.3L560.8 70.1L561.0 73.3L561.2 74.9L561.4 76.0L561.6 76.3L561.8 76.3L562.0 76.5L562.2 77.0L562.4 76.9L562.6 76.8L562.8 77.2L563.0 76.9L563.2 77.2L563.4 77.3L563.6 77.1L563.8 77.0L564.0 77.3L564.2 77.1L564.4 77.3L564.6 77.1L564.8 77.3L565.0 77.3L565.2 77.2L565.4 77.2L565.6 77.3L565.8 77.1L566.0 77.3L566.2 77.2L566.4 77.4L566.6 77.1L566.8 77.5L567.0 77.3L567.2 77.2L567.4 77.5L567.6 77.5L567.8 77.3L568.0 77.2L568.2 77.3L568.4 77.2L568.6 77.3L568.8 77.5L569.0 77.3L569.2 77.3L569.4 77.3L569.6 77.3L569.8 77.4L570.0 77.4L570.2 77.2L570.4 77.3L570.6 77.5L570.8 77.3L571.0 77.2L571.2 77.4L571.4 77.2L571.6 77.0L571.8 77.2L572.0 76.9L572.2 76.9L572.4 76.9L572.6 76.8L572.8 76.5L573.0 76.3L573.2 75.7L573.4 74.7L573.6 72.0L573.8 68.3L574.0 63.9L574.2 59.8L574.4 60.0L574.6 63.7L574.8 68.3L575.0 71.9L575.2 74.5L575.4 75.7L575.6 76.3L575.8 76.4L576.0 76.6L576.2 76.4L576.4 75.6L576.6 75.0L576.8 73.8L577.0 72.9L577.2 72.9L577.4 74.1L577.6 75.1L577.8 75.7L578.0 76.5L578.2 76.8L578.4 76.9L578.6 76.9L578.8 76.8L579.0 77.1L579.2 76.9L579.4 76.9L579.6 76.9L579.8 76.8L580.0 76.8L580.2 76.5L580.4 75.7L580.6 74.5L580.8 72.6L581.0 70.3L581.2 68.3L581.4 68.3L581.6 70.1L581.8 72.5L582.0 74.4L582.2 75.4L582.4 76.3L582.6 76.2L582.8 76.2L583.0 76.3L583.2 75.6L583.4 74.4L583.6 72.0L583.8 68.1L584.0 63.6L584.2 60.0L584.4 59.8L584.6 63.8L584.8 68.2L585.0 72.1L585.2 74.6L585.4 75.8L585.6 76.4L585.8 76.6L586.0 76.7L586.2 76.7L586.4 76.9L586.6 76.9L586.8 77.0L587.0 77.2L587.2 77.1L587.4 77.0L587.6 77.5L587.8 77.2L588.0 77.1L588.2 77.4L588.4 77.4L588.6 77.2L588.8 77.1L589.0 77.2L589.2 77.5L589.4 77.3L589.6 77.2L589.8 77.3L590.0 77.5L590.2 77.2L590.4 77.3L590.6 77.1L590.8 77.5L591.0 77.4L591.2 77.2L591.4 76.9L591.6 76.6L591.8 75.4L592.0 74.4L592.2 72.6L592.4 71.3L592.6 71.4L592.8 72.7L593.0 74.5L593.2 75.8L593.4 76.5L593.6 76.8L593.8 77.2L594.0 77.1L594.2 77.3L594.4 77.1L594.6 76.9L594.8 77.1L595.0 77.2L595.2 76.8L595.4 76.2L595.6 75.4L595.8 74.1L596.0 72.8L596.2 71.9L596.4 72.4L596.6 73.3L596.8 73.7L597.0 73.0L597.2 71.3L597.4 68.8L597.6 66.6L597.8 66.6L598.0 68.8L598.2 71.9L598.4 73.8L598.6 75.2L598.8 75.9L599.0 75.5L599.2 74.7L599.4 73.2L599.6 70.8L599.8 68.1L600.0 66.9L600.2 68.1L600.4 70.6L600.6 73.4L600.8 74.9L601.0 75.7L601.2 76.4L601.4 76.5L601.6 76.7L601.8 76.9L602.0 76.8L602.2 77.1L602.4 76.8L602.6 77.0L602.8 77.0L603.0 77.2L603.2 77.1L603.4 77.0L603.6 77.0L603.8 76.9L604.0 77.1L604.2 76.8L604.4 77.0L604.6 76.8L604.8 76.8L605.0 76.6L605.2 76.6L605.4 75.6L605.6 74.7L605.8 73.4L606.0 72.4L606.2 72.4L606.4 73.4L606.6 74.7L606.8 75.5L607.0 76.3L607.2 76.5L607.4 76.8L607.6 76.7L607.8 76.8L608.0 76.9L608.2 77.1L608.4 77.0L608.6 77.0L608.8 77.1L609.0 76.8L609.2 76.7L609.4 76.8L609.6 76.8L609.8 76.8L610.0 76.6L610.2 75.7L610.4 75.7L610.6 75.4L610.8 75.5L611.0 75.9L611.2 76.6L611.4 76.6L611.6 76.7L611.8 76.9L612.0 76.7L612.2 76.9L612.4 76.9L612.6 76.9L612.8 76.9L613.0 76.8L613.2 77.0L613.4 76.8L613.6 77.0L613.8 76.7L614.0 76.9L614.2 76.7L614.4 76.8L614.6 76.6L614.8 76.3L615.0 76.2L615.2 75.8L615.4 74.9L615.6 73.2L615.8 71.7L616.0 71.2L616.2 72.0L616.4 73.3L616.6 74.7L616.8 75.9L617.0 76.5L617.2 76.7L617.4 76.6L617.6 76.8L617.8 76.8L618.0 76.6L618.2 76.8L618.4 76.5L618.6 76.0L618.8 75.6L619.0 74.7L619.2 74.1L619.4 74.1L619.6 74.8L619.8 75.3L620.0 76.1L620.2 76.7L620.4 76.7L620.6 76.9L620.8 77.0L621.0 77.1L621.2 77.1L621.4 77.0L621.6 76.7L621.8 76.5L622.0 76.0L622.2 75.4L622.4 75.4L622.6 75.5L622.8 75.8L623.0 76.6L623.2 76.7L623.4 77.0L623.6 76.9L623.8 77.1L624.0 77.0L624.2 77.0L624.4 76.9L624.6 77.4L624.8 77.2L625.0 77.2L625.2 77.3L625.4 77.2L625.6 77.3L625.8 77.1L626.0 77.3L626.2 77.2L626.4 77.3L626.6 77.3L626.8 77.1L627.0 77.0L627.2 77.1L627.4 77.3L627.6 77.3L627.8 77.3L628.0 77.0L628.2 76.9L628.4 77.2L628.6 77.2L628.8 77.2L629.0 77.3L629.2 77.2L629.4 77.1L629.6 77.1L629.8 77.2L630.0 77.2L630.2 77.1L630.4 77.3L630.6 76.7L630.8 76.2L631.0 75.1L631.2 74.1L631.4 73.3L631.6 73.3L631.8 74.1L632.0 75.3L632.2 76.2L632.4 76.5L632.6 76.6L632.8 77.5L633.0 77.4L633.2 77.3L633.4 77.1L633.6 77.2L633.8 77.5L634.0 77.1L634.2 77.4L634.4 77.5L634.6 77.5L634.8 77.5L635.0 77.4L635.2 77.7L635.4 77.3L635.6 77.3L635.8 77.5L636.0 77.7L636.2 77.5L636.4 77.6L636.6 77.4L636.8 77.4L637.0 77.7L637.2 77.7L637.4 77.7L637.6 77.5L637.8 77.4L638.0 77.4L638.2 77.5L638.4 77.6L638.6 77.6L638.8 77.3L639.0 77.5L639.2 77.5L639.4 77.5L639.6 77.5L639.8 77.5L640.0 77.6L640.2 77.5L640.4 77.5L640.6 77.4L640.8 77.5L641.0 77.4L641.2 77.2L641.4 77.5L641.6 77.4L641.8 77.5L642.0 77.3L642.2 77.2L642.4 77.1L642.6 76.7L642.8 76.0L643.0 75.2L643.2 75.0L643.4 74.6L643.6 75.3L643.8 76.2L644.0 76.7L644.2 77.1L644.4 77.3L644.6 77.5L644.8 77.4L645.0 77.7L645.2 77.3L645.4 77.4L645.6 77.4L645.8 77.4L646.0 77.5L646.2 77.6L646.4 77.4L646.6 77.4L646.8 77.5L647.0 77.5L647.2 77.7L647.4 77.6L647.6 77.5L647.8 77.4L648.0 77.5L648.2 77.4L648.4 77.3L648.6 77.4L648.8 77.4L649.0 77.4L649.2 77.4L649.4 77.6L649.6 77.5L649.8 77.5L650.0 77.4L650.2 77.3L650.4 77.4L650.6 77.5L650.8 77.4L651.0 77.4L651.2 77.5L651.4 77.5L651.6 77.3L651.8 77.4L652.0 77.3L652.2 77.4L652.4 77.3L652.6 77.4L652.8 77.5L653.0 77.4L653.2 77.3L653.4 77.3L653.6 77.4L653.8 77.5L654.0 77.5L654.2 77.4L654.4 77.2L654.6 77.6L654.8 77.4L655.0 77.4L655.2 77.4L655.4 77.2L655.6 77.3L655.8 77.4L656.0 77.5L656.2 77.4L656.4 77.0L656.6 77.3L656.8 77.4L657.0 77.5L657.2 77.4L657.4 77.6L657.6 77.5L657.8 77.5L658.0 77.4L658.2 77.1L658.4 77.4L658.6 77.4L658.8 77.2L659.0 77.3L659.2 77.3L659.4 77.2L659.6 77.2L659.8 77.1L660.0 77.0L660.2 76.7L660.4 76.6L660.6 76.1L660.8 76.3L661.0 76.3L661.2 76.7L661.4 77.0L661.6 77.0L661.8 76.9L662.0 76.8L662.2 76.6L662.4 75.7L662.6 75.2L662.8 74.3L663.0 74.4L663.2 75.1L663.4 75.7L663.6 76.4L663.8 76.9L664.0 76.8L664.2 77.0L664.4 77.0L664.6 76.9L664.8 77.1L665.0 77.0L665.2 77.3L665.4 77.0L665.6 77.3L665.8 77.0L666.0 77.2L666.2 76.9L666.4 76.6L666.6 76.2L666.8 75.7L667.0 75.3L667.2 75.4L667.4 75.5L667.6 75.9L667.8 76.1L668.0 76.6L668.2 76.9L668.4 76.8L668.6 76.6L668.8 76.1L669.0 75.4L669.2 74.4L669.4 73.4L669.6 72.7L669.8 73.5L670.0 74.3L670.2 75.4L670.4 76.1L670.6 76.5L670.8 76.5L671.0 76.5L671.2 76.5L671.4 76.0L671.6 75.8L671.8 74.5L672.0 73.5L672.2 73.0L672.4 73.4L672.6 74.3L672.8 75.5L673.0 76.3L673.2 76.4L673.4 76.8L673.6 76.7L673.8 76.9L674.0 77.0L674.2 77.0L674.4 77.1L674.6 76.9L674.8 77.1L675.0 77.0L675.2 77.1L675.4 77.1L675.6 77.0L675.8 76.9L676.0 77.1L676.2 76.9L676.4 76.9L676.6 76.9L676.8 77.1L677.0 77.0L677.2 76.8L677.4 77.1L677.6 77.3L677.8 77.2L678.0 77.0L678.2 77.0L678.4 77.1L678.6 77.1L678.8 77.0L679.0 76.9L679.2 77.1L679.4 77.1L679.6 76.9L679.8 77.0L680.0 77.1L680.2 77.1L680.4 77.1L680.6 77.2L680.8 77.1L681.0 77.1L681.2 76.9L681.4 77.1L681.6 77.2L681.8 77.3L682.0 77.1L682.2 77.1L682.4 77.3L682.6 77.3L682.8 77.1L683.0 77.2L683.2 77.0L683.4 77.1L683.6 77.0L683.8 77.1L684.0 77.1L684.2 77.0L684.4 76.8L684.6 76.9L684.8 77.1L685.0 77.0L685.2 76.8L685.4 76.8L685.6 76.4L685.8 75.9L686.0 75.0L686.2 74.5L686.4 74.4L686.6 75.0L686.8 75.6L687.0 76.3L687.2 76.6L687.4 77.2L687.6 77.0L687.8 77.0L688.0 77.0L688.2 77.3L688.4 77.0L688.6 77.1L688.8 77.0L689.0 77.1L689.2 77.1L689.4 77.3L689.6 77.0L689.8 77.2L690.0 77.4L690.2 77.1L690.4 77.2L690.6 77.1L690.8 76.9L691.0 77.2L691.2 77.3L691.4 77.1L691.6 77.0L691.8 77.2L692.0 77.2L692.2 77.3L692.4 77.3L692.6 77.2L692.8 77.3L693.0 77.0L693.2 77.3L693.4 77.2L693.6 77.3L693.8 77.3L694.0 77.2L694.2 77.2L694.4 77.1L694.6 77.0L694.8 77.2L695.0 77.2L695.2 77.1L695.4 77.3L695.6 77.2L695.8 77.2L696.0 77.0L696.2 76.9L696.4 77.0L696.6 76.7L696.8 76.2L697.0 75.6L697.2 75.1L697.4 75.1L697.6 75.5L697.8 75.9L698.0 76.6L698.2 76.6L698.4 76.7L698.6 76.5L698.8 76.1L699.0 75.1L699.2 74.7L699.4 74.3L699.6 74.7L699.8 75.5L700.0 76.0L700.2 76.3L700.4 77.0L700.6 77.3L700.8 77.3L701.0 77.2L701.2 77.3L701.4 77.3L701.6 77.1L701.8 77.2L702.0 77.2L702.2 77.5L702.4 77.3L702.6 77.5L702.8 77.4L703.0 77.2L703.2 77.6L703.4 77.3L703.6 77.5L703.8 77.6L704.0 77.3L704.2 77.2L704.4 77.5L704.6 77.4L704.8 77.3L705.0 77.3L705.2 77.4L705.4 77.5L705.6 77.4L705.8 77.5L706.0 77.6L706.2 77.6L706.4 77.6L706.6 77.6L706.8 77.3L707.0 77.6L707.2 77.5L707.4 77.4L707.6 77.3L707.8 77.3L708.0 77.3L708.2 77.5L708.4 77.3L708.6 77.4L708.8 77.4L709.0 77.6" fill="none" stroke="#000" stroke-width="1.35" stroke-linejoin="round"/>
<path d="M22.00 235.30H295.50" stroke="#333" stroke-width="1.2"/>
<path d="M430.00 232.90H709.80" stroke="#333" stroke-width="1.2"/>
<path d="M22.00 235.30V239.30M41.54 235.30V237.80M61.07 235.30V239.30M80.61 235.30V237.80M100.14 235.30V239.30M119.68 235.30V237.80M139.21 235.30V239.30M158.75 235.30V237.80M178.29 235.30V239.30M197.82 235.30V237.80M217.36 235.30V239.30M236.89 235.30V237.80M256.43 235.30V239.30M275.96 235.30V237.80M295.50 235.30V239.30" stroke="#333" stroke-width="1.2"/>
<path d="M430.00 232.90V236.90M449.99 232.90V235.40M469.97 232.90V236.90M489.96 232.90V235.40M509.94 232.90V236.90M529.93 232.90V235.40M549.91 232.90V236.90M569.90 232.90V235.40M589.89 232.90V236.90M609.87 232.90V235.40M629.86 232.90V236.90M649.84 232.90V235.40M669.83 232.90V236.90M689.81 232.90V235.40M709.80 232.90V236.90" stroke="#333" stroke-width="1.2"/>
<g font-family="Liberation Serif, serif">
<text x="22.0" y="250.3" font-size="9.80" text-anchor="middle" fill="#222" >10</text>
<text x="430.0" y="247.9" font-size="9.80" text-anchor="middle" fill="#222" >10</text>
<text x="61.1" y="250.3" font-size="9.80" text-anchor="middle" fill="#222" >20</text>
<text x="470.0" y="247.9" font-size="9.80" text-anchor="middle" fill="#222" >20</text>
<text x="100.1" y="250.3" font-size="9.80" text-anchor="middle" fill="#222" >30</text>
<text x="509.9" y="247.9" font-size="9.80" text-anchor="middle" fill="#222" >30</text>
<text x="139.2" y="250.3" font-size="9.80" text-anchor="middle" fill="#222" >40</text>
<text x="549.9" y="247.9" font-size="9.80" text-anchor="middle" fill="#222" >40</text>
<text x="178.3" y="250.3" font-size="9.80" text-anchor="middle" fill="#222" >50</text>
<text x="589.9" y="247.9" font-size="9.80" text-anchor="middle" fill="#222" >50</text>
<text x="217.4" y="250.3" font-size="9.80" text-anchor="middle" fill="#222" >60</text>
<text x="629.9" y="247.9" font-size="9.80" text-anchor="middle" fill="#222" >60</text>
<text x="256.4" y="250.3" font-size="9.80" text-anchor="middle" fill="#222" >70</text>
<text x="669.8" y="247.9" font-size="9.80" text-anchor="middle" fill="#222" >70</text>
<text x="295.5" y="250.3" font-size="9.80" text-anchor="middle" fill="#222" >80</text>
<text x="709.8" y="247.9" font-size="9.80" text-anchor="middle" fill="#222" >80</text>
<text x="158.8" y="265.4" font-size="11.40" text-anchor="middle" fill="#222" textLength="73.4" lengthAdjust="spacingAndGlyphs">2 theta/(degree)</text>
<text x="572.6" y="263.8" font-size="11.40" text-anchor="middle" fill="#222" textLength="74.3" lengthAdjust="spacingAndGlyphs">2 theta/(degree)</text>
<text x="12.0" y="120.6" font-size="11.60" text-anchor="middle" fill="#222" transform="rotate(-90 12.0 120.6)">Relative intensity</text>
<text x="420.4" y="120.3" font-size="11.85" text-anchor="middle" fill="#222" transform="rotate(-90 420.4 120.35)">Relative intensity</text>
<text x="286.2" y="68.5" font-size="7.40" text-anchor="middle" fill="#222" >NS</text>
<text x="285.9" y="106.0" font-size="7.40" text-anchor="middle" fill="#222" >NN</text>
<text x="287.4" y="150.6" font-size="7.40" text-anchor="middle" fill="#222" >BS</text>
<text x="286.3" y="190.7" font-size="7.40" text-anchor="middle" fill="#222" >BN</text>
<text x="276.5" y="222.5" font-size="7.50" text-anchor="middle" fill="#222" textLength="36.8" lengthAdjust="spacingAndGlyphs">PDF 04-0635</text>
<text x="700.7" y="63.2" font-size="7.40" text-anchor="middle" fill="#222" >NS</text>
<text x="699.2" y="110.1" font-size="7.40" text-anchor="middle" fill="#222" >NN</text>
<text x="701.0" y="156.7" font-size="7.40" text-anchor="middle" fill="#222" >BS</text>
<text x="700.3" y="195.3" font-size="7.40" text-anchor="middle" fill="#222" >BN</text>
<text x="690.5" y="223.6" font-size="7.50" text-anchor="middle" fill="#222" textLength="37.2" lengthAdjust="spacingAndGlyphs">PDF 32-0493</text>
</g>
<g font-family="Liberation Serif, serif" font-size="19" fill="#111" text-anchor="middle">
<text x="154.2" y="300.5">(<tspan font-weight="bold">a</tspan>)</text>
<text x="563.2" y="300.5">(<tspan font-weight="bold">b</tspan>)</text>
</g>
</svg>
</body></html>
